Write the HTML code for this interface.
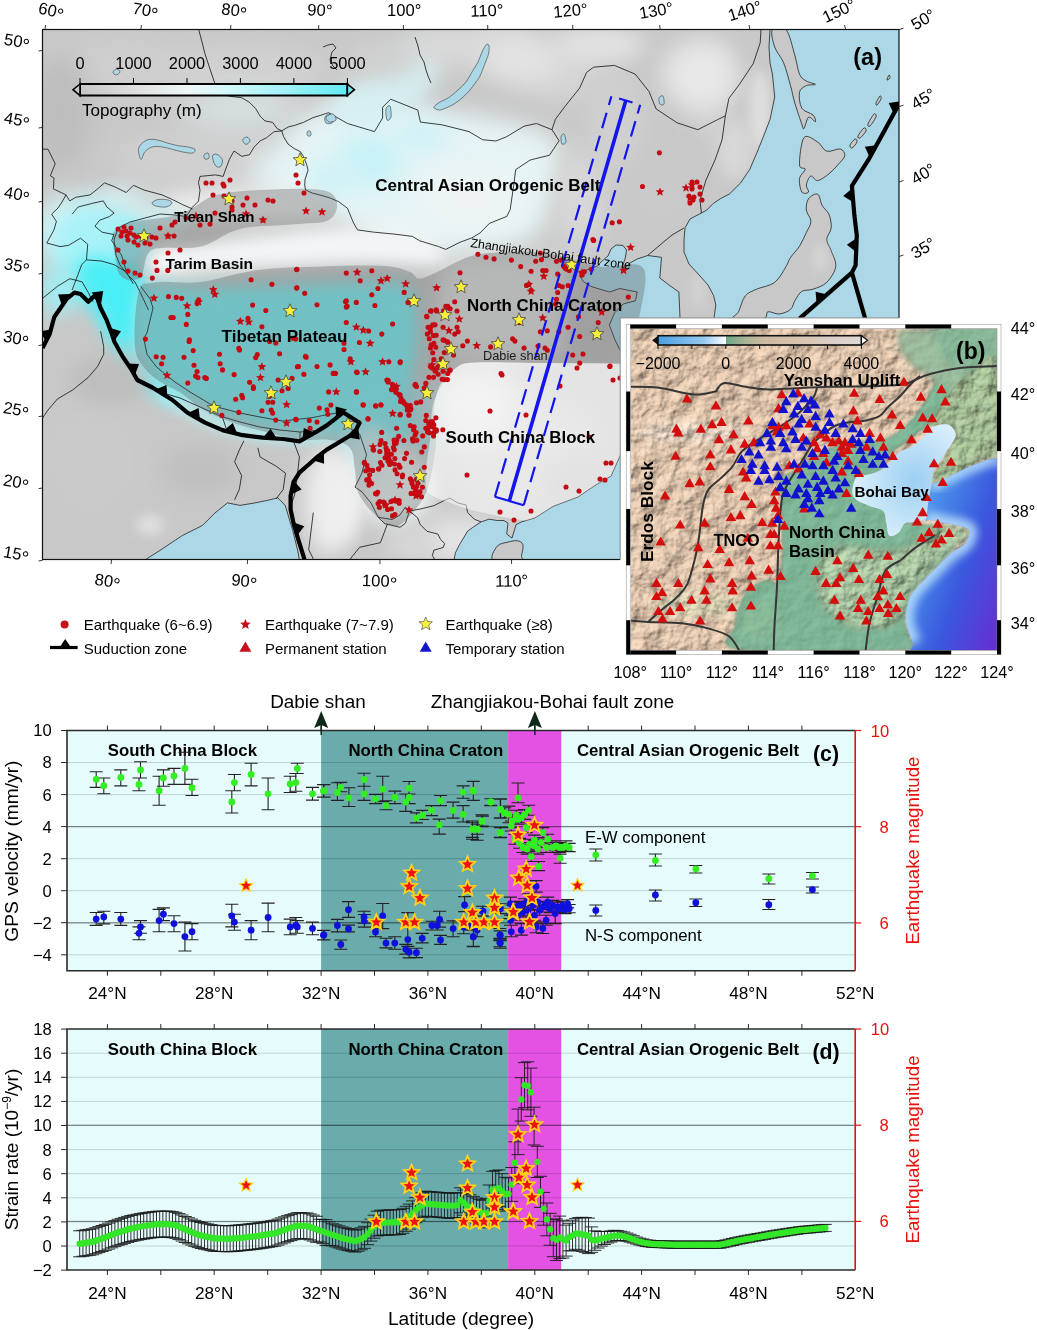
<!DOCTYPE html>
<html><head><meta charset="utf-8"><title>Figure</title>
<style>html,body{margin:0;padding:0;background:#fff;} svg{display:block;}</style></head>
<body><svg width="1037" height="1330" viewBox="0 0 1037 1330" font-family="Liberation Sans, Arial, sans-serif">
<defs>
<clipPath id="mapA"><rect x="42.5" y="29.5" width="856.5" height="530.0"/></clipPath>
<clipPath id="landA"><path d="M770.0,29.5 L769.0,47.0 L770.0,63.0 L772.4,74.0 L774.7,97.0 L770.0,119.5 L763.0,137.6 L756.6,153.4 L749.8,169.3 L740.7,182.8 L729.4,194.0 L720.4,198.7 L713.6,203.2 L706.8,210.0 L701.4,213.0 L690.0,219.0 L685.0,228.0 L684.0,240.0 L684.0,252.0 L689.0,264.0 L700.0,276.0 L708.0,285.0 L713.6,295.5 L715.8,305.0 L714.0,318.0 L716.0,350.0 L680.0,350.0 L680.0,318.0 L678.9,292.0 L669.0,285.0 L659.8,278.0 L661.5,257.3 L647.6,255.5 L637.2,259.0 L630.0,263.0 L626.8,266.0 L621.6,272.9 L623.0,265.0 L625.5,257.0 L626.5,250.0 L623.0,245.5 L616.0,245.0 L611.0,249.0 L608.0,256.0 L601.0,262.0 L597.3,266.0 L583.4,271.2 L580.0,276.4 L583.4,281.6 L592.0,286.8 L609.4,292.0 L619.8,288.5 L637.2,292.0 L635.5,300.7 L623.3,304.0 L614.6,312.8 L609.4,325.0 L615.0,340.0 L625.0,360.0 L632.0,400.0 L628.0,440.0 L619.4,457.0 L611.0,476.0 L596.0,484.7 L577.8,497.0 L553.0,506.3 L535.0,517.8 L521.5,521.9 L516.1,524.6 L512.0,538.0 L506.7,534.0 L508.0,523.2 L504.0,520.5 L497.2,520.5 L489.1,519.2 L481.0,521.9 L472.9,527.3 L467.5,531.3 L463.5,538.0 L459.4,544.8 L455.4,552.9 L454.0,560.0 L299.4,560.0 L297.7,550.5 L292.7,530.4 L285.2,505.4 L277.7,497.8 L267.7,500.3 L255.0,502.9 L240.0,505.4 L227.5,502.9 L215.0,512.9 L202.5,525.4 L182.4,535.5 L159.8,550.5 L144.8,560.0 L42.5,560.0 L42.5,29.5Z"/></clipPath>
<filter id="b5" x="-50%" y="-50%" width="200%" height="200%"><feGaussianBlur stdDeviation="5"/></filter>
<filter id="b6" x="-50%" y="-50%" width="200%" height="200%"><feGaussianBlur stdDeviation="6"/></filter>
<filter id="b8" x="-50%" y="-50%" width="200%" height="200%"><feGaussianBlur stdDeviation="8"/></filter>
<filter id="b9" x="-50%" y="-50%" width="200%" height="200%"><feGaussianBlur stdDeviation="9"/></filter>
<filter id="b10" x="-50%" y="-50%" width="200%" height="200%"><feGaussianBlur stdDeviation="10"/></filter>
<filter id="b12" x="-50%" y="-50%" width="200%" height="200%"><feGaussianBlur stdDeviation="12"/></filter>
<filter id="b14" x="-50%" y="-50%" width="200%" height="200%"><feGaussianBlur stdDeviation="14"/></filter>
<filter id="b1"><feGaussianBlur stdDeviation="1"/></filter>
<linearGradient id="cbarA" x1="0" x2="1" y1="0" y2="0"><stop offset="0" stop-color="#c6c6c6"/><stop offset="0.2" stop-color="#dedede"/><stop offset="0.4" stop-color="#eef6f6"/><stop offset="0.55" stop-color="#d4f8fa"/><stop offset="0.8" stop-color="#98f0f6"/><stop offset="1" stop-color="#62eaf4"/></linearGradient>
</defs>
<g clip-path="url(#mapA)">
<rect x="42.5" y="29.5" width="856.5" height="530.0" fill="#acd7e6"/>
<g clip-path="url(#landA)">
<rect x="42.5" y="29.5" width="856.5" height="530.0" fill="#c8c8c8"/>
<ellipse cx="120" cy="70" rx="90" ry="30" fill="#cfcfcf" filter="url(#b14)"/>
<ellipse cx="250" cy="70" rx="80" ry="25" fill="#d2d2d2" filter="url(#b14)"/>
<ellipse cx="200" cy="160" rx="90" ry="30" fill="#d0d0d0" filter="url(#b14)"/>
<ellipse cx="60" cy="110" rx="30" ry="60" fill="#bdbdbd" filter="url(#b14)"/>
<ellipse cx="300" cy="175" rx="50" ry="35" fill="#e4f2f4" filter="url(#b14)"/>
<ellipse cx="240" cy="110" rx="60" ry="18" fill="#d8e2e2" filter="url(#b14)"/>
<path d="M300.0,120.0 C315.0,106.7 356.7,101.7 380.0,100.0 C403.3,98.3 416.7,105.8 440.0,110.0 C463.3,114.2 500.0,118.3 520.0,125.0 C540.0,131.7 556.7,132.5 560.0,150.0 C563.3,167.5 553.3,213.3 540.0,230.0 C526.7,246.7 503.3,246.7 480.0,250.0 C456.7,253.3 425.0,255.8 400.0,250.0 C375.0,244.2 348.3,226.7 330.0,215.0 C311.7,203.3 295.0,195.8 290.0,180.0 C285.0,164.2 285.0,133.3 300.0,120.0Z" fill="#e6f4f6" filter="url(#b12)"/>
<ellipse cx="370" cy="160" rx="35" ry="28" fill="#c8f2f6" filter="url(#b12)"/>
<ellipse cx="420" cy="135" rx="30" ry="18" fill="#d2f2f6" filter="url(#b10)"/>
<ellipse cx="330" cy="180" rx="25" ry="20" fill="#d0f2f6" filter="url(#b10)"/>
<ellipse cx="470" cy="200" rx="50" ry="30" fill="#eef4f4" filter="url(#b12)"/>
<path d="M325.0,112.0 C324.2,104.8 340.0,93.7 350.0,85.0 C360.0,76.3 373.3,66.2 385.0,60.0 C396.7,53.8 410.8,48.0 420.0,48.0 C429.2,48.0 439.2,52.2 440.0,60.0 C440.8,67.8 432.5,85.3 425.0,95.0 C417.5,104.7 406.7,112.5 395.0,118.0 C383.3,123.5 366.7,129.0 355.0,128.0 C343.3,127.0 325.8,119.2 325.0,112.0Z" fill="#d6f0f2" filter="url(#b10)"/>
<ellipse cx="470" cy="45" rx="70" ry="20" fill="#dcdcdc" filter="url(#b14)"/>
<ellipse cx="560" cy="70" rx="40" ry="30" fill="#d6d6d6" filter="url(#b12)"/>
<ellipse cx="380" cy="60" rx="40" ry="20" fill="#d0d0d0" filter="url(#b12)"/>
<ellipse cx="615" cy="120" rx="30" ry="50" fill="#d0d0d0" filter="url(#b12)"/>
<ellipse cx="580" cy="200" rx="25" ry="50" fill="#d8d8d8" filter="url(#b12)"/>
<ellipse cx="710" cy="90" rx="20" ry="50" fill="#d2d2d2" filter="url(#b10)"/>
<ellipse cx="735" cy="150" rx="18" ry="30" fill="#d8d8d8" filter="url(#b8)"/>
<ellipse cx="700" cy="75" rx="38" ry="35" fill="#e8e8e8" filter="url(#b12)"/>
<ellipse cx="600" cy="45" rx="45" ry="18" fill="#e2e2e2" filter="url(#b10)"/>
<ellipse cx="760" cy="110" rx="10" ry="40" fill="#e0e0e0" filter="url(#b6)"/>
<ellipse cx="660" cy="200" rx="30" ry="25" fill="#cacaca" filter="url(#b10)"/>
<ellipse cx="520" cy="60" rx="40" ry="25" fill="#e2e2e2" filter="url(#b12)"/>
<path d="M150.0,250.0 C157.5,244.8 181.7,246.3 200.0,244.0 C218.3,241.7 238.3,238.7 260.0,236.0 C281.7,233.3 306.7,229.0 330.0,228.0 C353.3,227.0 381.7,227.2 400.0,230.0 C418.3,232.8 433.3,239.7 440.0,245.0 C446.7,250.3 450.0,259.2 440.0,262.0 C430.0,264.8 403.3,261.5 380.0,262.0 C356.7,262.5 328.3,263.7 300.0,265.0 C271.7,266.3 234.2,268.3 210.0,270.0 C185.8,271.7 165.0,278.3 155.0,275.0 C145.0,271.7 142.5,255.2 150.0,250.0Z" fill="#f2f6f6" filter="url(#b8)"/>
<ellipse cx="240" cy="205" rx="90" ry="16" fill="#eeeeee" filter="url(#b10)"/>
<ellipse cx="150" cy="218" rx="40" ry="12" fill="#cfeef0" filter="url(#b8)"/>
<ellipse cx="75" cy="230" rx="40" ry="35" fill="#d4f4f6" filter="url(#b12)"/>
<ellipse cx="120" cy="200" rx="30" ry="12" fill="#d8f0f2" filter="url(#b10)"/>
<ellipse cx="95" cy="245" rx="45" ry="40" fill="#a8f2f8" filter="url(#b10)"/>
<ellipse cx="130" cy="240" rx="20" ry="22" fill="#9ef0f6" filter="url(#b6)"/>
<path d="M75.0,265.0 C78.3,259.3 87.5,258.5 95.0,258.0 C102.5,257.5 112.5,259.7 120.0,262.0 C127.5,264.3 136.3,265.7 140.0,272.0 C143.7,278.3 142.3,289.5 142.0,300.0 C141.7,310.5 140.3,326.7 138.0,335.0 C135.7,343.3 132.3,349.5 128.0,350.0 C123.7,350.5 116.7,343.8 112.0,338.0 C107.3,332.2 104.0,321.3 100.0,315.0 C96.0,308.7 92.2,303.8 88.0,300.0 C83.8,296.2 77.2,297.8 75.0,292.0 C72.8,286.2 71.7,270.7 75.0,265.0Z" fill="#48eef6" filter="url(#b8)"/>
<ellipse cx="60" cy="290" rx="20" ry="25" fill="#a0eef2" filter="url(#b10)"/>
<path d="M140.0,292.0 C150.0,278.3 173.3,289.3 200.0,288.0 C226.7,286.7 270.0,285.0 300.0,284.0 C330.0,283.0 361.7,281.0 380.0,282.0 C398.3,283.0 403.7,282.0 410.0,290.0 C416.3,298.0 417.7,315.0 418.0,330.0 C418.3,345.0 414.2,364.2 412.0,380.0 C409.8,395.8 410.3,415.0 405.0,425.0 C399.7,435.0 392.5,437.8 380.0,440.0 C367.5,442.2 346.7,439.3 330.0,438.0 C313.3,436.7 296.7,435.3 280.0,432.0 C263.3,428.7 246.7,424.2 230.0,418.0 C213.3,411.8 195.0,403.0 180.0,395.0 C165.0,387.0 146.7,387.2 140.0,370.0 C133.3,352.8 130.0,305.7 140.0,292.0Z" fill="#80f2f6" filter="url(#b8)"/>
<ellipse cx="425" cy="420" rx="14" ry="40" fill="#a8e4e8" filter="url(#b8)"/>
<ellipse cx="385" cy="425" rx="28" ry="25" fill="#88eef2" filter="url(#b8)"/>
<ellipse cx="395" cy="485" rx="38" ry="40" fill="#eef6f6" filter="url(#b10)"/>
<path d="M85.0,290.0 C89.5,296.7 104.5,317.5 112.0,330.0 C119.5,342.5 123.7,355.8 130.0,365.0 C136.3,374.2 142.5,379.2 150.0,385.0 C157.5,390.8 170.8,397.5 175.0,400.0" fill="none" stroke="#60eef6" stroke-width="10" stroke-linecap="round" filter="url(#b8)"/>
<path d="M160.0,393.0 C164.2,395.8 175.0,404.5 185.0,410.0 C195.0,415.5 207.5,421.8 220.0,426.0 C232.5,430.2 246.7,433.2 260.0,435.0 C273.3,436.8 288.3,438.2 300.0,437.0 C311.7,435.8 325.0,429.5 330.0,428.0" fill="none" stroke="#b8f4f8" stroke-width="8" stroke-linecap="round" filter="url(#b6)"/>
<path d="M345.0,428.0 C346.2,431.7 349.5,441.3 352.0,450.0 C354.5,458.7 358.7,475.0 360.0,480.0" fill="none" stroke="#c8f2f4" stroke-width="10" stroke-linecap="round" filter="url(#b8)"/>
<ellipse cx="90" cy="460" rx="50" ry="60" fill="#cacaca" filter="url(#b14)"/>
<ellipse cx="150" cy="525" rx="14" ry="10" fill="#e0e0e0" filter="url(#b6)"/>
<ellipse cx="200" cy="470" rx="40" ry="25" fill="#c0c0c0" filter="url(#b12)"/>
<ellipse cx="110" cy="380" rx="40" ry="25" fill="#bebebe" filter="url(#b10)"/>
<ellipse cx="330" cy="500" rx="25" ry="55" fill="#eeeeee" filter="url(#b10)"/>
<ellipse cx="370" cy="450" rx="18" ry="25" fill="#d0f2f4" filter="url(#b8)"/>
<ellipse cx="345" cy="500" rx="15" ry="40" fill="#f0f0f0" filter="url(#b8)"/>
<ellipse cx="460" cy="540" rx="40" ry="25" fill="#e4e4e4" filter="url(#b12)"/>
<ellipse cx="410" cy="545" rx="25" ry="15" fill="#d8d8d8" filter="url(#b10)"/>
<ellipse cx="520" cy="450" rx="80" ry="60" fill="#d2d2d2" filter="url(#b14)"/>
<ellipse cx="475" cy="405" rx="45" ry="40" fill="#e6e6e6" filter="url(#b14)"/>
<ellipse cx="585" cy="485" rx="45" ry="35" fill="#c6c6c6" filter="url(#b12)"/>
<path d="M450.0,265.0 C466.7,249.7 530.8,257.2 550.0,258.0 C569.2,258.8 563.3,254.7 565.0,270.0 C566.7,285.3 564.2,335.8 560.0,350.0 C555.8,364.2 558.3,355.0 540.0,355.0 C521.7,355.0 465.0,365.0 450.0,350.0 C435.0,335.0 433.3,280.3 450.0,265.0Z" fill="#e2e4e4" filter="url(#b10)"/>
<ellipse cx="600" cy="315" rx="30" ry="45" fill="#c2c2c2" filter="url(#b10)"/>
<ellipse cx="698" cy="290" rx="8" ry="18" fill="#d2d2d2" filter="url(#b5)"/>
<ellipse cx="818" cy="255" rx="8" ry="20" fill="#d8d8d8" filter="url(#b5)"/>
</g>
<path d="M770.0,29.5 L769.0,47.0 L770.0,63.0 L772.4,74.0 L774.7,97.0 L770.0,119.5 L763.0,137.6 L756.6,153.4 L749.8,169.3 L740.7,182.8 L729.4,194.0 L720.4,198.7 L713.6,203.2 L706.8,210.0 L701.4,213.0 L690.0,219.0 L685.0,228.0 L684.0,240.0 L684.0,252.0 L689.0,264.0 L700.0,276.0 L708.0,285.0 L713.6,295.5 L715.8,305.0 L714.0,318.0 L716.0,350.0 L680.0,350.0 L680.0,318.0 L678.9,292.0 L669.0,285.0 L659.8,278.0 L661.5,257.3 L647.6,255.5 L637.2,259.0 L630.0,263.0 L626.8,266.0 L621.6,272.9 L623.0,265.0 L625.5,257.0 L626.5,250.0 L623.0,245.5 L616.0,245.0 L611.0,249.0 L608.0,256.0 L601.0,262.0 L597.3,266.0 L583.4,271.2 L580.0,276.4 L583.4,281.6 L592.0,286.8 L609.4,292.0 L619.8,288.5 L637.2,292.0 L635.5,300.7 L623.3,304.0 L614.6,312.8 L609.4,325.0 L615.0,340.0 L625.0,360.0 L632.0,400.0 L628.0,440.0 L619.4,457.0 L611.0,476.0 L596.0,484.7 L577.8,497.0 L553.0,506.3 L535.0,517.8 L521.5,521.9 L516.1,524.6 L512.0,538.0 L506.7,534.0 L508.0,523.2 L504.0,520.5 L497.2,520.5 L489.1,519.2 L481.0,521.9 L472.9,527.3 L467.5,531.3 L463.5,538.0 L459.4,544.8 L455.4,552.9 L454.0,560.0 L299.4,560.0 L297.7,550.5 L292.7,530.4 L285.2,505.4 L277.7,497.8 L267.7,500.3 L255.0,502.9 L240.0,505.4 L227.5,502.9 L215.0,512.9 L202.5,525.4 L182.4,535.5 L159.8,550.5 L144.8,560.0 L42.5,560.0 L42.5,29.5Z" fill="none" stroke="#1a1a1a" stroke-width="0.75" stroke-linejoin="round"/>
<path d="M772.4,29.5 C774.3,26.6 782.2,25.1 786.0,29.5 C789.8,33.9 792.8,48.5 795.0,56.0 C797.2,63.5 797.6,70.0 799.5,74.2 C801.4,78.4 803.6,79.3 806.3,81.0 C808.9,82.7 815.4,83.6 815.4,84.4 C815.4,85.2 808.9,84.3 806.3,85.6 C803.6,86.9 800.2,88.5 799.5,92.3 C798.8,96.1 799.5,104.4 801.8,108.2 C804.0,112.0 810.7,112.7 813.0,115.0 C815.3,117.3 816.1,121.4 815.4,121.8 C814.7,122.2 810.5,116.1 808.6,117.2 C806.7,118.3 805.1,127.4 804.0,128.5 C802.9,129.6 803.3,128.1 801.8,124.0 C800.3,119.9 796.9,110.1 795.0,103.7 C793.1,97.3 792.4,92.4 790.5,85.6 C788.6,78.8 786.3,69.4 783.7,63.0 C781.1,56.6 776.6,52.6 774.7,47.0 C772.8,41.4 770.5,32.4 772.4,29.5Z" fill="#c8c8c8" stroke="#1a1a1a" stroke-width="0.75"/>
<path d="M804.0,137.6 C807.0,133.8 813.8,139.7 817.6,142.0 C821.4,144.3 822.9,150.0 826.7,151.2 C830.5,152.4 837.3,148.2 840.3,149.0 C843.3,149.8 845.2,153.1 844.8,155.7 C844.4,158.3 840.6,161.7 838.0,164.7 C835.4,167.7 832.4,171.2 829.0,173.8 C825.6,176.5 820.6,180.2 817.6,180.6 C814.6,181.0 812.8,175.3 810.9,176.0 C809.0,176.7 806.7,182.3 806.3,185.0 C805.9,187.7 809.4,190.8 808.6,192.0 C807.9,193.2 803.3,194.3 801.8,192.0 C800.3,189.7 798.9,182.1 799.5,178.3 C800.1,174.5 805.2,171.6 805.2,169.3 C805.2,167.0 799.7,170.0 799.5,164.7 C799.3,159.4 801.0,141.4 804.0,137.6Z" fill="#c8c8c8" stroke="#1a1a1a" stroke-width="0.75"/>
<path d="M808.6,198.7 C810.5,196.1 815.3,193.1 817.6,194.2 C819.9,195.3 820.3,202.1 822.2,205.5 C824.1,208.9 827.5,210.8 829.0,214.5 C830.5,218.2 831.6,223.8 831.2,228.0 C830.8,232.2 826.7,235.6 826.7,239.4 C826.7,243.2 829.7,246.2 831.2,250.7 C832.7,255.2 836.5,261.3 835.7,266.6 C835.0,271.9 830.5,278.6 826.7,282.4 C822.9,286.2 817.1,287.7 813.0,289.2 C808.9,290.7 804.8,289.5 801.8,291.4 C798.8,293.3 796.9,297.5 795.0,300.5 C793.1,303.5 793.1,307.2 790.5,309.5 C787.9,311.8 783.0,313.6 779.2,314.0 C775.4,314.4 770.5,311.0 767.9,311.8 C765.2,312.6 768.9,317.5 763.3,318.6 C757.6,319.7 738.1,319.7 734.0,318.6 C729.9,317.5 736.6,315.6 738.5,311.8 C740.4,308.0 742.2,299.8 745.2,296.0 C748.2,292.2 751.7,291.5 756.6,289.2 C761.5,286.9 769.8,286.2 774.7,282.4 C779.6,278.6 783.4,270.8 786.0,266.6 C788.6,262.5 788.2,260.9 790.5,257.5 C792.8,254.1 796.9,250.3 799.5,246.2 C802.1,242.0 804.4,236.8 806.3,232.6 C808.2,228.4 810.9,225.1 810.9,221.3 C810.9,217.5 806.7,213.8 806.3,210.0 C805.9,206.2 806.7,201.3 808.6,198.7Z" fill="#c8c8c8" stroke="#1a1a1a" stroke-width="0.75"/>
<path d="M493.2,560.0 C489.4,557.7 494.7,549.2 497.2,546.2 C499.7,543.2 504.6,543.0 508.0,542.1 C511.4,541.2 515.0,540.3 517.5,540.8 C520.0,541.2 522.2,542.3 522.9,544.8 C523.6,547.3 522.0,553.1 521.5,555.6 C521.0,558.1 524.9,559.3 520.2,560.0 C515.5,560.7 497.0,562.3 493.2,560.0Z" fill="#c8c8c8" stroke="#1a1a1a" stroke-width="0.75"/>
<path d="M850.0,145.0 C850.5,143.5 853.8,139.5 855.0,139.0 C856.2,138.5 857.5,140.5 857.0,142.0 C856.5,143.5 853.2,147.5 852.0,148.0 C850.8,148.5 849.5,146.5 850.0,145.0Z" fill="#c8c8c8" stroke="#1a1a1a" stroke-width="0.75"/>
<path d="M858.0,136.0 C858.7,134.3 862.7,128.8 864.0,128.0 C865.3,127.2 866.7,129.3 866.0,131.0 C865.3,132.7 861.3,137.2 860.0,138.0 C858.7,138.8 857.3,137.7 858.0,136.0Z" fill="#c8c8c8" stroke="#1a1a1a" stroke-width="0.75"/>
<path d="M868.0,124.0 C868.7,122.0 872.7,115.2 874.0,114.0 C875.3,112.8 876.7,115.0 876.0,117.0 C875.3,119.0 871.3,124.8 870.0,126.0 C868.7,127.2 867.3,126.0 868.0,124.0Z" fill="#c8c8c8" stroke="#1a1a1a" stroke-width="0.75"/>
<path d="M876.0,103.0 C876.5,101.5 879.2,96.7 880.0,96.0 C880.8,95.3 881.5,97.5 881.0,99.0 C880.5,100.5 877.8,104.3 877.0,105.0 C876.2,105.7 875.5,104.5 876.0,103.0Z" fill="#c8c8c8" stroke="#1a1a1a" stroke-width="0.75"/>
<path d="M887.0,80.0 C886.8,79.5 888.5,75.3 889.0,75.0 C889.5,74.7 890.3,77.2 890.0,78.0 C889.7,78.8 887.2,80.5 887.0,80.0Z" fill="#c8c8c8" stroke="#1a1a1a" stroke-width="0.75"/>
<ellipse cx="820" cy="258" rx="7" ry="14" fill="#d6d6d6" filter="url(#b5)"/>
<path d="M198.7,29.5 L202.0,42.0 L205.0,54.0 L210.0,69.0 L215.0,84.0 L222.0,94.0 L229.4,96.2 L241.7,97.7 L249.4,102.3 L255.6,108.5 L260.2,116.2 L264.9,120.9 L272.6,122.4 L277.2,128.6 L281.8,130.9" fill="none" stroke="#111" stroke-width="0.8" stroke-linejoin="round"/>
<path d="M281.8,130.9 L288.0,127.0 L294.2,125.5 L303.4,122.4 L312.7,117.8 L328.6,112.7 L347.5,123.5 L374.5,131.6 L382.6,118.0 L382.6,107.3 L390.7,99.2 L417.7,110.0 L420.4,122.1 L442.0,124.8 L469.0,131.6 L482.5,139.7 L496.0,141.0 L506.8,136.6 L524.0,126.2 L536.5,123.5 L552.0,129.7" fill="none" stroke="#111" stroke-width="0.8" stroke-linejoin="round"/>
<path d="M281.8,130.9 L283.4,136.3 L288.0,144.0 L294.2,148.6 L300.4,151.7 L303.4,156.3 L306.5,164.1 L308.1,170.2 L305.0,179.5 L304.7,185.0 L305.5,190.0 L312.4,193.1 L320.1,195.0 L329.4,197.7 L338.7,201.7 L347.4,208.2 L353.1,222.0 L357.5,229.9 L373.4,232.1 L395.1,234.2 L412.5,236.4 L419.7,240.8 L438.5,246.5 L445.7,249.4 L460.2,242.2 L471.8,237.9 L480.0,233.0 L489.4,223.4 L506.8,216.4 L510.2,209.5 L513.7,185.2 L515.7,169.6 L530.2,160.0 L549.5,155.2 L559.1,140.7 L552.0,129.7" fill="none" stroke="#111" stroke-width="0.8" stroke-linejoin="round"/>
<path d="M552.0,129.7 L555.4,119.2 L565.8,105.4 L579.7,88.0 L586.6,72.4 L593.6,67.2 L614.4,65.4 L635.2,74.1 L649.0,91.5 L656.0,108.8 L676.9,122.7 L697.7,129.7 L718.5,119.2 L725.4,115.8 L728.9,98.4 L739.3,84.5 L753.2,63.7 L760.2,42.9 L761.0,29.5" fill="none" stroke="#111" stroke-width="0.8" stroke-linejoin="round"/>
<path d="M725.4,115.8 L722.0,140.0 L715.0,160.0 L706.0,180.0 L700.0,200.0 L701.4,213.0" fill="none" stroke="#111" stroke-width="0.8" stroke-linejoin="round"/>
<path d="M415.0,37.0 L418.0,46.0 L420.0,55.0 L424.0,62.0 L426.0,70.0 L428.0,76.0 L431.0,83.0" fill="none" stroke="#111" stroke-width="0.8" stroke-linejoin="round"/>
<path d="M323.0,47.0 L328.0,45.0 L333.0,44.0 L336.0,48.0 L332.0,52.0 L330.0,60.0 L333.0,66.0 L337.0,70.0" fill="none" stroke="#111" stroke-width="0.8" stroke-linejoin="round"/>
<path d="M647.6,255.5 L660.0,245.0 L672.0,235.0 L684.0,228.0" fill="none" stroke="#111" stroke-width="0.8" stroke-linejoin="round"/>
<path d="M281.8,130.9 L274.1,131.7 L266.4,137.8 L260.2,140.9 L254.1,147.1 L249.4,154.8 L241.7,156.3 L234.0,151.0 L229.4,159.4 L224.7,171.8 L223.2,176.4 L215.5,174.9 L200.0,176.4 L198.5,182.6 L200.0,190.3 L198.5,201.1 L192.3,207.3 L186.2,216.5 L175.0,215.0 L160.0,214.0 L145.0,218.0 L130.0,222.0 L118.0,228.0 L114.0,240.0 L116.0,255.0 L120.0,265.0 L128.0,275.0 L135.0,282.0 L140.0,292.0 L143.8,300.0 L148.5,310.0" fill="none" stroke="#111" stroke-width="0.8" stroke-linejoin="round"/>
<path d="M42.0,298.8 L57.4,286.4 L69.8,278.7 L82.1,281.8 L88.3,292.6 L92.9,301.8" fill="none" stroke="#111" stroke-width="0.8" stroke-linejoin="round"/>
<path d="M100.6,331.2 L103.7,346.6 L103.7,354.3 L97.5,366.6 L88.3,377.4 L72.9,389.8 L57.4,399.0 L48.0,410.0 L42.5,418.0" fill="none" stroke="#111" stroke-width="0.8" stroke-linejoin="round"/>
<path d="M42.0,149.2 L48.0,149.2 L55.2,163.7 L50.4,175.7 L54.0,178.1 L53.4,188.9 L66.0,194.9 L69.7,200.9 L75.7,197.3 L90.1,194.9 L96.1,190.1 L104.5,182.9 L114.1,186.5 L126.2,192.5 L133.4,185.3 L144.2,190.1 L162.0,194.9 L172.4,199.5 L182.4,204.5 L192.5,209.0" fill="none" stroke="#111" stroke-width="0.8" stroke-linejoin="round"/>
<path d="M72.1,214.2 L78.1,207.0 L92.5,203.3 L103.3,200.9 L106.9,207.0 L114.1,213.0 L109.3,216.6 L99.7,220.2 L94.9,226.2 L102.1,232.2 L114.1,234.6" fill="none" stroke="#111" stroke-width="0.8" stroke-linejoin="round"/>
<path d="M51.6,214.2 L56.4,221.4 L54.0,229.8 L46.8,243.0 L60.0,246.6 L68.5,245.4 L80.5,238.2 L87.7,244.2 L86.5,259.9 L81.7,264.7 L78.1,274.3 L72.1,290.0" fill="none" stroke="#111" stroke-width="0.8" stroke-linejoin="round"/>
<path d="M86.5,259.9 L102.1,261.1 L114.1,264.7 L126.2,271.9 L133.4,283.9" fill="none" stroke="#111" stroke-width="0.8" stroke-linejoin="round"/>
<path d="M114.1,234.6 L111.7,240.6 L116.5,247.8 L121.4,255.0 L123.8,262.3 L126.2,271.9" fill="none" stroke="#111" stroke-width="0.8" stroke-linejoin="round"/>
<path d="M66.0,194.9 L62.0,202.0 L58.0,208.0 L51.6,214.2" fill="none" stroke="#111" stroke-width="0.8" stroke-linejoin="round"/>
<path d="M140.8,286.4 L150.0,298.8 L153.0,308.0 L150.0,320.4 L147.0,332.7 L143.8,338.9 L147.0,354.3 L156.2,366.6 L165.4,374.4 L175.0,382.0 L190.0,392.0 L213.8,406.2 L240.0,413.0 L260.0,417.0 L282.6,421.0 L312.0,417.7 L328.5,414.4 L343.0,412.0" fill="none" stroke="#111" stroke-width="0.8" stroke-linejoin="round"/>
<path d="M160.0,392.0 L180.0,398.0 L200.0,407.0 L220.0,416.0 L240.0,422.0 L260.0,427.0 L280.0,430.0 L300.0,432.0 L322.0,430.0" fill="none" stroke="#111" stroke-width="0.8" stroke-linejoin="round"/>
<path d="M222.0,416.0 L226.0,428.0" fill="none" stroke="#111" stroke-width="0.8" stroke-linejoin="round"/>
<path d="M300.0,432.0 L300.0,441.0" fill="none" stroke="#111" stroke-width="0.8" stroke-linejoin="round"/>
<path d="M243.9,440.8 L239.3,450.1 L234.6,461.7 L241.6,475.5 L239.3,489.4 L234.6,499.8" fill="none" stroke="#111" stroke-width="0.8" stroke-linejoin="round"/>
<path d="M257.8,447.8 L260.1,457.0 L276.3,466.3 L285.5,473.2 L283.2,489.4 L276.3,498.7" fill="none" stroke="#111" stroke-width="0.8" stroke-linejoin="round"/>
<path d="M292.5,438.5 L299.4,457.0 L297.1,477.9 L294.8,494.0 L290.2,508.0" fill="none" stroke="#111" stroke-width="0.8" stroke-linejoin="round"/>
<path d="M352.0,430.0 L359.6,433.9 L366.5,454.7 L361.9,473.2 L355.0,487.1 L361.9,491.7 L371.2,503.3 L378.1,517.2 L392.0,519.5 L400.0,515.0 L405.4,507.0 L409.5,511.0 L420.3,509.0 L433.8,505.7 L444.6,500.3 L450.0,498.2 L458.0,503.0 L466.2,505.0 L467.5,512.4 L474.3,519.2 L481.0,521.9" fill="none" stroke="#111" stroke-width="0.8" stroke-linejoin="round"/>
<path d="M387.4,524.1 L380.4,542.7 L359.6,547.3 L350.3,558.9" fill="none" stroke="#111" stroke-width="0.8" stroke-linejoin="round"/>
<path d="M409.5,511.0 L417.6,517.8 L420.3,524.6 L427.0,531.3 L437.8,534.0 L440.5,539.4 L444.6,543.5 L443.2,547.5 L433.8,550.2 L432.4,555.6 L435.1,560.0" fill="none" stroke="#111" stroke-width="0.8" stroke-linejoin="round"/>
<path d="M313.3,512.6 L311.0,531.1 L308.7,549.6 L313.3,558.9" fill="none" stroke="#111" stroke-width="0.8" stroke-linejoin="round"/>
<path d="M378.1,517.2 L385.0,524.0 L387.4,524.1 L400.0,527.3 L405.4,523.2 L409.5,511.0" fill="none" stroke="#111" stroke-width="0.8" stroke-linejoin="round"/>
<path d="M433.9,107.3 C434.0,106.0 437.6,103.5 440.0,102.0 C442.4,100.5 445.0,100.0 448.0,98.0 C451.0,96.0 455.0,92.7 458.0,90.0 C461.0,87.3 463.7,85.0 466.0,82.0 C468.3,79.0 470.0,75.3 472.0,72.0 C474.0,68.7 476.3,65.3 478.0,62.0 C479.7,58.7 480.6,54.9 482.0,52.0 C483.4,49.1 485.3,45.5 486.5,44.5 C487.7,43.5 488.7,44.4 489.0,46.0 C489.3,47.6 489.3,50.7 488.5,54.0 C487.7,57.3 485.4,62.3 484.0,66.0 C482.6,69.7 481.3,73.3 480.0,76.0 C478.7,78.7 477.7,79.7 476.0,82.0 C474.3,84.3 472.3,87.3 470.0,90.0 C467.7,92.7 464.7,95.7 462.0,98.0 C459.3,100.3 456.7,102.3 454.0,104.0 C451.3,105.7 448.4,107.0 446.0,108.0 C443.6,109.0 441.3,110.1 439.3,110.0 C437.3,109.9 433.8,108.6 433.9,107.3Z" fill="#acd7e6" stroke="#3a3a3a" stroke-width="0.6"/>
<path d="M138.5,149.4 C138.7,146.7 140.4,144.7 142.3,143.0 C144.2,141.3 146.9,139.7 149.8,139.3 C152.7,138.9 157.0,140.0 159.9,140.6 C162.8,141.2 164.5,142.2 167.4,143.0 C170.3,143.8 174.1,144.9 177.4,145.6 C180.7,146.2 184.5,146.3 187.4,146.9 C190.3,147.5 194.2,148.4 195.0,149.4 C195.8,150.4 194.6,152.7 192.5,153.1 C190.4,153.5 185.8,152.5 182.4,151.9 C179.1,151.3 175.7,150.2 172.4,149.4 C169.1,148.6 165.8,147.3 162.4,146.9 C159.1,146.5 155.2,146.1 152.3,146.9 C149.4,147.7 146.7,149.8 144.8,151.9 C142.9,154.0 142.1,159.8 141.0,159.4 C139.9,159.0 138.3,152.1 138.5,149.4Z" fill="#acd7e6" stroke="#3a3a3a" stroke-width="0.6"/>
<path d="M152.0,203.0 C152.3,201.9 155.3,200.0 158.0,199.5 C160.7,199.0 165.7,199.4 168.0,200.0 C170.3,200.6 172.3,201.8 172.0,203.0 C171.7,204.2 168.7,206.5 166.0,207.0 C163.3,207.5 158.3,206.7 156.0,206.0 C153.7,205.3 151.7,204.1 152.0,203.0Z" fill="#acd7e6" stroke="#3a3a3a" stroke-width="0.6"/>
<path d="M212.5,156.0 C212.8,154.2 215.3,153.7 217.0,154.4 C218.7,155.1 222.0,157.9 222.5,160.0 C223.0,162.1 221.2,166.2 220.0,167.0 C218.8,167.8 216.2,166.8 215.0,165.0 C213.8,163.2 212.2,157.8 212.5,156.0Z" fill="#acd7e6" stroke="#3a3a3a" stroke-width="0.6"/>
<path d="M325.0,117.0 C325.7,115.5 328.5,114.0 330.0,114.0 C331.5,114.0 333.7,115.5 334.0,117.0 C334.3,118.5 333.3,122.0 332.0,123.0 C330.7,124.0 327.2,124.0 326.0,123.0 C324.8,122.0 324.3,118.5 325.0,117.0Z" fill="#acd7e6" stroke="#3a3a3a" stroke-width="0.6"/>
<path d="M307.0,132.0 C307.3,131.2 309.3,130.5 310.0,131.0 C310.7,131.5 311.3,134.2 311.0,135.0 C310.7,135.8 308.7,136.5 308.0,136.0 C307.3,135.5 306.7,132.8 307.0,132.0Z" fill="#acd7e6" stroke="#3a3a3a" stroke-width="0.6"/>
<path d="M242.6,140.0 C242.8,138.8 245.8,136.8 247.0,137.0 C248.2,137.2 250.2,139.8 250.0,141.0 C249.8,142.2 247.2,144.6 246.0,144.4 C244.8,144.2 242.4,141.2 242.6,140.0Z" fill="#acd7e6" stroke="#3a3a3a" stroke-width="0.6"/>
<path d="M204.0,155.0 C204.5,154.0 207.2,152.5 208.0,153.0 C208.8,153.5 209.5,157.0 209.0,158.0 C208.5,159.0 205.8,159.5 205.0,159.0 C204.2,158.5 203.5,156.0 204.0,155.0Z" fill="#acd7e6" stroke="#3a3a3a" stroke-width="0.6"/>
<path d="M659.0,98.0 C659.5,96.7 662.2,95.0 663.0,96.0 C663.8,97.0 664.5,102.7 664.0,104.0 C663.5,105.3 660.8,105.0 660.0,104.0 C659.2,103.0 658.5,99.3 659.0,98.0Z" fill="#acd7e6" stroke="#3a3a3a" stroke-width="0.6"/>
<path d="M386.0,109.0 C386.5,106.7 389.2,104.7 390.0,106.0 C390.8,107.3 391.5,114.7 391.0,117.0 C390.5,119.3 387.8,121.3 387.0,120.0 C386.2,118.7 385.5,111.3 386.0,109.0Z" fill="#acd7e6" stroke="#3a3a3a" stroke-width="0.6"/>
<path d="M326.0,117.0 C326.7,115.7 331.3,113.5 333.0,114.0 C334.7,114.5 336.7,118.7 336.0,120.0 C335.3,121.3 330.7,122.5 329.0,122.0 C327.3,121.5 325.3,118.3 326.0,117.0Z" fill="#acd7e6" stroke="#3a3a3a" stroke-width="0.6"/>
<path d="M561.0,137.0 C561.3,135.3 563.2,133.2 564.0,134.0 C564.8,134.8 566.3,140.3 566.0,142.0 C565.7,143.7 562.8,144.8 562.0,144.0 C561.2,143.2 560.7,138.7 561.0,137.0Z" fill="#acd7e6" stroke="#3a3a3a" stroke-width="0.6"/>
<path d="M113.0,72.0 C113.2,71.0 115.8,69.0 117.0,69.0 C118.2,69.0 120.2,71.0 120.0,72.0 C119.8,73.0 117.2,75.0 116.0,75.0 C114.8,75.0 112.8,73.0 113.0,72.0Z" fill="#acd7e6" stroke="#3a3a3a" stroke-width="0.6"/>
<path d="M140.8,286.4 C143.1,282.3 145.9,284.1 150.0,283.3 C154.1,282.5 156.7,282.1 165.4,281.8 C174.1,281.6 186.7,283.8 202.0,281.8 C217.3,279.8 237.5,272.6 257.3,270.0 C277.1,267.4 299.8,267.2 321.0,266.5 C342.2,265.8 369.8,265.1 384.6,266.0 C399.4,266.9 404.1,269.9 410.0,272.0 C415.9,274.1 414.5,279.1 420.0,278.6 C425.5,278.1 435.3,272.5 443.0,269.0 C450.7,265.5 458.3,260.5 466.0,257.8 C473.7,255.1 477.8,254.0 489.4,253.0 C501.0,252.0 524.1,251.6 535.7,252.0 C547.3,252.4 551.2,253.8 558.9,255.5 C566.6,257.2 574.3,260.5 582.0,262.4 C589.7,264.3 594.7,265.9 605.0,267.0 C615.3,268.1 638.7,258.8 644.0,269.3 C649.3,279.8 638.7,314.6 637.0,330.0 C635.3,345.4 640.2,356.5 634.0,362.0 C627.8,367.5 615.7,362.8 600.0,363.0 C584.3,363.2 560.8,363.1 540.0,363.0 C519.2,362.9 489.0,361.8 475.0,362.6 C461.0,363.4 461.8,364.3 456.0,368.0 C450.2,371.7 443.7,378.0 440.0,385.0 C436.3,392.0 434.7,400.8 434.0,410.0 C433.3,419.2 436.3,430.0 436.0,440.0 C435.7,450.0 433.8,460.8 432.0,470.0 C430.2,479.2 429.0,487.0 425.0,495.0 C421.0,503.0 413.5,512.8 408.0,518.0 C402.5,523.2 398.0,527.5 392.0,526.5 C386.0,525.5 377.7,517.8 372.0,512.0 C366.3,506.2 360.8,499.0 358.0,492.0 C355.2,485.0 356.3,477.3 355.0,470.0 C353.7,462.7 354.2,453.0 350.0,448.0 C345.8,443.0 338.3,441.3 330.0,440.0 C321.7,438.7 310.1,441.2 300.0,440.0 C289.9,438.8 280.1,435.7 269.5,433.0 C258.9,430.3 247.6,427.8 236.7,424.0 C225.8,420.2 213.3,415.2 204.0,410.0 C194.7,404.8 187.3,397.2 180.9,393.0 C174.5,388.8 170.6,388.2 165.4,385.0 C160.2,381.8 154.6,378.5 150.0,374.0 C145.4,369.5 140.3,363.9 137.7,358.0 C135.1,352.1 134.9,347.2 134.6,338.9 C134.3,330.6 135.0,316.8 136.0,308.0 C137.0,299.2 138.5,290.5 140.8,286.4Z" fill="#505050" fill-opacity="0.3"/>
<path d="M114.5,230.9 C118.1,227.3 123.5,224.4 134.6,221.6 C145.7,218.8 167.0,218.4 180.9,213.9 C194.8,209.4 202.1,198.7 218.2,194.6 C234.3,190.5 259.9,190.0 277.6,189.3 C295.3,188.6 314.4,188.2 324.3,190.5 C334.2,192.8 336.3,198.2 337.0,203.2 C337.7,208.1 335.6,216.7 328.5,220.2 C321.4,223.7 309.4,222.8 294.6,224.3 C279.9,225.8 255.4,225.3 240.0,229.0 C224.6,232.7 214.4,243.2 202.0,246.3 C189.6,249.4 173.6,247.3 165.4,247.8 C157.2,248.3 156.1,248.1 153.0,249.4 C149.9,250.7 148.5,252.4 147.0,255.5 C145.5,258.6 144.8,264.3 143.8,267.9 C142.8,271.5 143.4,275.1 140.8,277.2 C138.2,279.2 132.0,280.7 128.4,280.2 C124.8,279.7 121.2,277.1 119.1,274.0 C117.0,270.9 117.0,266.9 116.0,261.7 C115.0,256.5 113.2,248.1 113.0,243.0 C112.8,237.9 110.9,234.5 114.5,230.9Z" fill="#505050" fill-opacity="0.3"/>
<path d="M456.0,368.0 C461.2,364.8 461.0,363.4 475.0,362.6 C489.0,361.8 516.0,362.8 540.0,363.0 C564.0,363.2 603.0,363.8 619.0,363.6 C635.0,363.4 631.7,355.9 636.0,362.0 C640.3,368.1 643.5,372.8 645.0,400.0 C646.5,427.2 662.5,504.7 645.0,525.0 C627.5,545.3 567.5,524.2 540.0,522.0 C512.5,519.8 495.3,515.3 480.0,512.0 C464.7,508.7 456.7,505.3 448.0,502.0 C439.3,498.7 431.7,497.3 428.0,492.0 C424.3,486.7 425.7,478.7 426.0,470.0 C426.3,461.3 428.8,450.8 430.0,440.0 C431.2,429.2 430.7,414.7 433.0,405.0 C435.3,395.3 440.2,388.2 444.0,382.0 C447.8,375.8 450.8,371.2 456.0,368.0Z" fill="#ffffff" fill-opacity="0.5" clip-path="url(#landA)"/>
<circle cx="118.0" cy="229.0" r="2.55" fill="#c40a12"/>
<circle cx="122.0" cy="232.0" r="2.55" fill="#c40a12"/>
<circle cx="126.0" cy="231.0" r="2.55" fill="#c40a12"/>
<circle cx="130.0" cy="233.0" r="2.55" fill="#c40a12"/>
<circle cx="134.0" cy="235.0" r="2.55" fill="#c40a12"/>
<circle cx="127.0" cy="236.0" r="2.55" fill="#c40a12"/>
<circle cx="136.0" cy="237.0" r="2.55" fill="#c40a12"/>
<circle cx="140.0" cy="236.0" r="2.55" fill="#c40a12"/>
<circle cx="146.0" cy="238.0" r="2.55" fill="#c40a12"/>
<circle cx="152.0" cy="237.0" r="2.55" fill="#c40a12"/>
<circle cx="156.0" cy="238.0" r="2.55" fill="#c40a12"/>
<circle cx="145.0" cy="243.0" r="2.55" fill="#c40a12"/>
<circle cx="150.0" cy="244.0" r="2.55" fill="#c40a12"/>
<circle cx="134.0" cy="242.0" r="2.55" fill="#c40a12"/>
<circle cx="138.0" cy="245.0" r="2.55" fill="#c40a12"/>
<circle cx="128.0" cy="240.0" r="2.55" fill="#c40a12"/>
<circle cx="121.0" cy="236.0" r="2.55" fill="#c40a12"/>
<circle cx="124.0" cy="227.0" r="2.55" fill="#c40a12"/>
<circle cx="131.0" cy="228.0" r="2.55" fill="#c40a12"/>
<circle cx="168.0" cy="236.0" r="2.55" fill="#c40a12"/>
<circle cx="174.0" cy="236.0" r="2.55" fill="#c40a12"/>
<circle cx="175.0" cy="222.0" r="2.55" fill="#c40a12"/>
<circle cx="186.0" cy="218.0" r="2.55" fill="#c40a12"/>
<circle cx="200.0" cy="225.0" r="2.55" fill="#c40a12"/>
<circle cx="210.0" cy="224.0" r="2.55" fill="#c40a12"/>
<circle cx="215.0" cy="213.0" r="2.55" fill="#c40a12"/>
<circle cx="232.0" cy="201.0" r="2.55" fill="#c40a12"/>
<circle cx="232.0" cy="207.0" r="2.55" fill="#c40a12"/>
<circle cx="247.0" cy="198.0" r="2.55" fill="#c40a12"/>
<circle cx="243.0" cy="205.0" r="2.55" fill="#c40a12"/>
<circle cx="273.0" cy="201.0" r="2.55" fill="#c40a12"/>
<circle cx="263.0" cy="220.0" r="2.55" fill="#c40a12"/>
<circle cx="255.0" cy="205.0" r="2.55" fill="#c40a12"/>
<circle cx="213.0" cy="195.0" r="2.55" fill="#c40a12"/>
<circle cx="224.0" cy="196.0" r="2.55" fill="#c40a12"/>
<circle cx="224.0" cy="186.0" r="2.55" fill="#c40a12"/>
<circle cx="230.0" cy="180.0" r="2.55" fill="#c40a12"/>
<circle cx="223.0" cy="184.0" r="2.55" fill="#c40a12"/>
<circle cx="212.0" cy="183.0" r="2.55" fill="#c40a12"/>
<circle cx="206.0" cy="183.0" r="2.55" fill="#c40a12"/>
<circle cx="232.0" cy="210.0" r="2.55" fill="#c40a12"/>
<circle cx="172.0" cy="225.0" r="2.55" fill="#c40a12"/>
<circle cx="160.0" cy="228.0" r="2.55" fill="#c40a12"/>
<circle cx="118.0" cy="250.0" r="2.55" fill="#c40a12"/>
<circle cx="124.0" cy="262.0" r="2.55" fill="#c40a12"/>
<circle cx="128.0" cy="271.0" r="2.55" fill="#c40a12"/>
<circle cx="135.0" cy="273.0" r="2.55" fill="#c40a12"/>
<circle cx="140.0" cy="275.0" r="2.55" fill="#c40a12"/>
<circle cx="156.0" cy="262.0" r="2.55" fill="#c40a12"/>
<circle cx="168.0" cy="253.0" r="2.55" fill="#c40a12"/>
<circle cx="180.0" cy="250.0" r="2.55" fill="#c40a12"/>
<circle cx="296.0" cy="175.0" r="2.55" fill="#c40a12"/>
<circle cx="298.0" cy="183.0" r="2.55" fill="#c40a12"/>
<circle cx="304.0" cy="193.0" r="2.55" fill="#c40a12"/>
<circle cx="268.0" cy="200.0" r="2.55" fill="#c40a12"/>
<circle cx="157.0" cy="270.4" r="2.55" fill="#c40a12"/>
<circle cx="167.8" cy="270.4" r="2.55" fill="#c40a12"/>
<circle cx="152.3" cy="278.1" r="2.55" fill="#c40a12"/>
<circle cx="251.1" cy="279.7" r="2.55" fill="#c40a12"/>
<circle cx="271.9" cy="284.3" r="2.55" fill="#c40a12"/>
<circle cx="296.6" cy="269.6" r="2.55" fill="#c40a12"/>
<circle cx="296.6" cy="288.1" r="2.55" fill="#c40a12"/>
<circle cx="168.5" cy="296.6" r="2.55" fill="#c40a12"/>
<circle cx="176.3" cy="297.4" r="2.55" fill="#c40a12"/>
<circle cx="181.7" cy="298.2" r="2.55" fill="#c40a12"/>
<circle cx="197.1" cy="303.6" r="2.55" fill="#c40a12"/>
<circle cx="198.6" cy="299.7" r="2.55" fill="#c40a12"/>
<circle cx="170.9" cy="317.5" r="2.55" fill="#c40a12"/>
<circle cx="173.2" cy="317.5" r="2.55" fill="#c40a12"/>
<circle cx="186.3" cy="324.4" r="2.55" fill="#c40a12"/>
<circle cx="189.4" cy="339.8" r="2.55" fill="#c40a12"/>
<circle cx="193.2" cy="350.6" r="2.55" fill="#c40a12"/>
<circle cx="156.2" cy="356.8" r="2.55" fill="#c40a12"/>
<circle cx="163.1" cy="357.3" r="2.55" fill="#c40a12"/>
<circle cx="161.6" cy="363.8" r="2.55" fill="#c40a12"/>
<circle cx="184.0" cy="357.3" r="2.55" fill="#c40a12"/>
<circle cx="219.5" cy="354.2" r="2.55" fill="#c40a12"/>
<circle cx="238.8" cy="348.3" r="2.55" fill="#c40a12"/>
<circle cx="252.6" cy="305.1" r="2.55" fill="#c40a12"/>
<circle cx="265.8" cy="310.5" r="2.55" fill="#c40a12"/>
<circle cx="248.0" cy="318.2" r="2.55" fill="#c40a12"/>
<circle cx="261.9" cy="326.7" r="2.55" fill="#c40a12"/>
<circle cx="257.3" cy="354.5" r="2.55" fill="#c40a12"/>
<circle cx="255.7" cy="357.6" r="2.55" fill="#c40a12"/>
<circle cx="269.6" cy="341.4" r="2.55" fill="#c40a12"/>
<circle cx="275.8" cy="342.9" r="2.55" fill="#c40a12"/>
<circle cx="279.6" cy="353.7" r="2.55" fill="#c40a12"/>
<circle cx="297.4" cy="366.8" r="2.55" fill="#c40a12"/>
<circle cx="194.0" cy="365.3" r="2.55" fill="#c40a12"/>
<circle cx="197.1" cy="371.5" r="2.55" fill="#c40a12"/>
<circle cx="195.5" cy="376.1" r="2.55" fill="#c40a12"/>
<circle cx="197.9" cy="377.6" r="2.55" fill="#c40a12"/>
<circle cx="204.8" cy="377.6" r="2.55" fill="#c40a12"/>
<circle cx="206.3" cy="378.4" r="2.55" fill="#c40a12"/>
<circle cx="187.8" cy="383.0" r="2.55" fill="#c40a12"/>
<circle cx="220.2" cy="363.8" r="2.55" fill="#c40a12"/>
<circle cx="222.5" cy="369.9" r="2.55" fill="#c40a12"/>
<circle cx="234.1" cy="374.6" r="2.55" fill="#c40a12"/>
<circle cx="249.6" cy="382.3" r="2.55" fill="#c40a12"/>
<circle cx="253.4" cy="386.9" r="2.55" fill="#c40a12"/>
<circle cx="253.4" cy="388.4" r="2.55" fill="#c40a12"/>
<circle cx="235.7" cy="399.2" r="2.55" fill="#c40a12"/>
<circle cx="241.8" cy="395.4" r="2.55" fill="#c40a12"/>
<circle cx="242.6" cy="397.7" r="2.55" fill="#c40a12"/>
<circle cx="238.8" cy="412.4" r="2.55" fill="#c40a12"/>
<circle cx="261.9" cy="410.8" r="2.55" fill="#c40a12"/>
<circle cx="272.7" cy="413.1" r="2.55" fill="#c40a12"/>
<circle cx="275.8" cy="420.1" r="2.55" fill="#c40a12"/>
<circle cx="295.8" cy="419.3" r="2.55" fill="#c40a12"/>
<circle cx="278.1" cy="380.0" r="2.55" fill="#c40a12"/>
<circle cx="292.0" cy="378.4" r="2.55" fill="#c40a12"/>
<circle cx="288.1" cy="388.4" r="2.55" fill="#c40a12"/>
<circle cx="282.0" cy="390.8" r="2.55" fill="#c40a12"/>
<circle cx="269.6" cy="396.2" r="2.55" fill="#c40a12"/>
<circle cx="268.1" cy="402.3" r="2.55" fill="#c40a12"/>
<circle cx="272.7" cy="402.3" r="2.55" fill="#c40a12"/>
<circle cx="271.2" cy="410.0" r="2.55" fill="#c40a12"/>
<circle cx="221.8" cy="415.4" r="2.55" fill="#c40a12"/>
<circle cx="295.8" cy="339.1" r="2.55" fill="#c40a12"/>
<circle cx="292.8" cy="338.3" r="2.55" fill="#c40a12"/>
<circle cx="239.5" cy="349.9" r="2.55" fill="#c40a12"/>
<circle cx="145.4" cy="339.1" r="2.55" fill="#c40a12"/>
<circle cx="187.8" cy="314.4" r="2.55" fill="#c40a12"/>
<circle cx="189.1" cy="341.4" r="2.55" fill="#c40a12"/>
<circle cx="296.9" cy="269.3" r="2.55" fill="#c40a12"/>
<circle cx="296.9" cy="287.8" r="2.55" fill="#c40a12"/>
<circle cx="304.7" cy="293.2" r="2.55" fill="#c40a12"/>
<circle cx="317.0" cy="304.7" r="2.55" fill="#c40a12"/>
<circle cx="346.3" cy="273.1" r="2.55" fill="#c40a12"/>
<circle cx="360.2" cy="280.8" r="2.55" fill="#c40a12"/>
<circle cx="371.8" cy="270.8" r="2.55" fill="#c40a12"/>
<circle cx="377.9" cy="288.5" r="2.55" fill="#c40a12"/>
<circle cx="371.8" cy="294.7" r="2.55" fill="#c40a12"/>
<circle cx="346.3" cy="300.9" r="2.55" fill="#c40a12"/>
<circle cx="346.3" cy="307.1" r="2.55" fill="#c40a12"/>
<circle cx="356.3" cy="302.4" r="2.55" fill="#c40a12"/>
<circle cx="374.9" cy="305.5" r="2.55" fill="#c40a12"/>
<circle cx="346.3" cy="322.5" r="2.55" fill="#c40a12"/>
<circle cx="368.7" cy="331.0" r="2.55" fill="#c40a12"/>
<circle cx="381.8" cy="334.1" r="2.55" fill="#c40a12"/>
<circle cx="359.4" cy="342.5" r="2.55" fill="#c40a12"/>
<circle cx="344.0" cy="343.3" r="2.55" fill="#c40a12"/>
<circle cx="344.0" cy="349.5" r="2.55" fill="#c40a12"/>
<circle cx="306.2" cy="357.2" r="2.55" fill="#c40a12"/>
<circle cx="298.5" cy="366.5" r="2.55" fill="#c40a12"/>
<circle cx="317.0" cy="366.5" r="2.55" fill="#c40a12"/>
<circle cx="330.1" cy="364.9" r="2.55" fill="#c40a12"/>
<circle cx="303.9" cy="374.2" r="2.55" fill="#c40a12"/>
<circle cx="333.2" cy="373.4" r="2.55" fill="#c40a12"/>
<circle cx="335.5" cy="373.4" r="2.55" fill="#c40a12"/>
<circle cx="350.2" cy="358.8" r="2.55" fill="#c40a12"/>
<circle cx="357.1" cy="372.6" r="2.55" fill="#c40a12"/>
<circle cx="388.8" cy="361.8" r="2.55" fill="#c40a12"/>
<circle cx="400.3" cy="361.8" r="2.55" fill="#c40a12"/>
<circle cx="392.6" cy="324.0" r="2.55" fill="#c40a12"/>
<circle cx="404.2" cy="292.4" r="2.55" fill="#c40a12"/>
<circle cx="408.0" cy="302.4" r="2.55" fill="#c40a12"/>
<circle cx="426.6" cy="316.3" r="2.55" fill="#c40a12"/>
<circle cx="431.2" cy="310.9" r="2.55" fill="#c40a12"/>
<circle cx="436.6" cy="310.9" r="2.55" fill="#c40a12"/>
<circle cx="427.3" cy="334.1" r="2.55" fill="#c40a12"/>
<circle cx="430.4" cy="327.9" r="2.55" fill="#c40a12"/>
<circle cx="433.5" cy="335.6" r="2.55" fill="#c40a12"/>
<circle cx="431.2" cy="344.9" r="2.55" fill="#c40a12"/>
<circle cx="435.8" cy="347.2" r="2.55" fill="#c40a12"/>
<circle cx="435.0" cy="324.8" r="2.55" fill="#c40a12"/>
<circle cx="441.2" cy="358.8" r="2.55" fill="#c40a12"/>
<circle cx="444.3" cy="379.6" r="2.55" fill="#c40a12"/>
<circle cx="447.4" cy="379.6" r="2.55" fill="#c40a12"/>
<circle cx="415.0" cy="385.0" r="2.55" fill="#c40a12"/>
<circle cx="416.5" cy="386.5" r="2.55" fill="#c40a12"/>
<circle cx="328.6" cy="391.9" r="2.55" fill="#c40a12"/>
<circle cx="356.3" cy="391.9" r="2.55" fill="#c40a12"/>
<circle cx="363.3" cy="405.0" r="2.55" fill="#c40a12"/>
<circle cx="375.6" cy="405.8" r="2.55" fill="#c40a12"/>
<circle cx="381.0" cy="405.0" r="2.55" fill="#c40a12"/>
<circle cx="400.3" cy="414.3" r="2.55" fill="#c40a12"/>
<circle cx="408.8" cy="415.1" r="2.55" fill="#c40a12"/>
<circle cx="367.9" cy="418.9" r="2.55" fill="#c40a12"/>
<circle cx="319.3" cy="408.1" r="2.55" fill="#c40a12"/>
<circle cx="327.0" cy="409.7" r="2.55" fill="#c40a12"/>
<circle cx="330.9" cy="405.0" r="2.55" fill="#c40a12"/>
<circle cx="296.2" cy="419.7" r="2.55" fill="#c40a12"/>
<circle cx="309.3" cy="420.5" r="2.55" fill="#c40a12"/>
<circle cx="317.0" cy="422.0" r="2.55" fill="#c40a12"/>
<circle cx="310.1" cy="428.2" r="2.55" fill="#c40a12"/>
<circle cx="327.8" cy="414.3" r="2.55" fill="#c40a12"/>
<circle cx="432.0" cy="368.0" r="2.55" fill="#c40a12"/>
<circle cx="435.0" cy="371.1" r="2.55" fill="#c40a12"/>
<circle cx="438.1" cy="374.2" r="2.55" fill="#c40a12"/>
<circle cx="428.9" cy="377.3" r="2.55" fill="#c40a12"/>
<circle cx="425.8" cy="383.4" r="2.55" fill="#c40a12"/>
<circle cx="424.2" cy="388.1" r="2.55" fill="#c40a12"/>
<circle cx="444.3" cy="340.2" r="2.55" fill="#c40a12"/>
<circle cx="447.4" cy="341.8" r="2.55" fill="#c40a12"/>
<circle cx="447.4" cy="307.8" r="2.55" fill="#c40a12"/>
<circle cx="444.3" cy="352.6" r="2.55" fill="#c40a12"/>
<circle cx="438.1" cy="366.5" r="2.55" fill="#c40a12"/>
<circle cx="433.5" cy="377.3" r="2.55" fill="#c40a12"/>
<circle cx="445.8" cy="306.3" r="2.55" fill="#c40a12"/>
<circle cx="443.5" cy="310.9" r="2.55" fill="#c40a12"/>
<circle cx="425.8" cy="420.5" r="2.55" fill="#c40a12"/>
<circle cx="428.9" cy="423.6" r="2.55" fill="#c40a12"/>
<circle cx="432.0" cy="426.6" r="2.55" fill="#c40a12"/>
<circle cx="435.0" cy="429.7" r="2.55" fill="#c40a12"/>
<circle cx="425.8" cy="428.2" r="2.55" fill="#c40a12"/>
<circle cx="429.6" cy="432.8" r="2.55" fill="#c40a12"/>
<circle cx="433.5" cy="435.9" r="2.55" fill="#c40a12"/>
<circle cx="422.7" cy="435.9" r="2.55" fill="#c40a12"/>
<circle cx="442.8" cy="429.7" r="2.55" fill="#c40a12"/>
<circle cx="305.4" cy="356.4" r="2.55" fill="#c40a12"/>
<circle cx="347.1" cy="306.3" r="2.55" fill="#c40a12"/>
<circle cx="345.5" cy="301.7" r="2.55" fill="#c40a12"/>
<circle cx="386.9" cy="380.0" r="2.55" fill="#c40a12"/>
<circle cx="388.1" cy="380.2" r="2.55" fill="#c40a12"/>
<circle cx="388.1" cy="381.9" r="2.55" fill="#c40a12"/>
<circle cx="392.3" cy="384.4" r="2.55" fill="#c40a12"/>
<circle cx="393.2" cy="385.6" r="2.55" fill="#c40a12"/>
<circle cx="393.4" cy="387.1" r="2.55" fill="#c40a12"/>
<circle cx="391.4" cy="389.6" r="2.55" fill="#c40a12"/>
<circle cx="395.7" cy="390.6" r="2.55" fill="#c40a12"/>
<circle cx="393.5" cy="388.7" r="2.55" fill="#c40a12"/>
<circle cx="395.8" cy="392.2" r="2.55" fill="#c40a12"/>
<circle cx="398.7" cy="394.3" r="2.55" fill="#c40a12"/>
<circle cx="400.1" cy="394.9" r="2.55" fill="#c40a12"/>
<circle cx="400.9" cy="398.0" r="2.55" fill="#c40a12"/>
<circle cx="400.5" cy="401.5" r="2.55" fill="#c40a12"/>
<circle cx="403.5" cy="402.3" r="2.55" fill="#c40a12"/>
<circle cx="402.8" cy="400.9" r="2.55" fill="#c40a12"/>
<circle cx="404.3" cy="403.3" r="2.55" fill="#c40a12"/>
<circle cx="406.9" cy="405.4" r="2.55" fill="#c40a12"/>
<circle cx="406.3" cy="405.1" r="2.55" fill="#c40a12"/>
<circle cx="407.3" cy="409.9" r="2.55" fill="#c40a12"/>
<circle cx="408.0" cy="409.9" r="2.55" fill="#c40a12"/>
<circle cx="410.9" cy="408.9" r="2.55" fill="#c40a12"/>
<circle cx="410.1" cy="410.0" r="2.55" fill="#c40a12"/>
<circle cx="410.3" cy="405.5" r="2.55" fill="#c40a12"/>
<circle cx="416.5" cy="402.8" r="2.55" fill="#c40a12"/>
<circle cx="420.7" cy="401.9" r="2.55" fill="#c40a12"/>
<circle cx="427.6" cy="432.1" r="2.55" fill="#c40a12"/>
<circle cx="434.0" cy="432.7" r="2.55" fill="#c40a12"/>
<circle cx="436.3" cy="429.8" r="2.55" fill="#c40a12"/>
<circle cx="432.4" cy="421.5" r="2.55" fill="#c40a12"/>
<circle cx="433.8" cy="424.9" r="2.55" fill="#c40a12"/>
<circle cx="430.6" cy="421.7" r="2.55" fill="#c40a12"/>
<circle cx="429.1" cy="425.3" r="2.55" fill="#c40a12"/>
<circle cx="435.9" cy="417.8" r="2.55" fill="#c40a12"/>
<circle cx="427.6" cy="429.2" r="2.55" fill="#c40a12"/>
<circle cx="436.3" cy="430.9" r="2.55" fill="#c40a12"/>
<circle cx="426.3" cy="415.4" r="2.55" fill="#c40a12"/>
<circle cx="433.1" cy="424.3" r="2.55" fill="#c40a12"/>
<circle cx="410.3" cy="425.5" r="2.55" fill="#c40a12"/>
<circle cx="414.2" cy="426.8" r="2.55" fill="#c40a12"/>
<circle cx="413.5" cy="429.8" r="2.55" fill="#c40a12"/>
<circle cx="416.1" cy="432.6" r="2.55" fill="#c40a12"/>
<circle cx="415.1" cy="435.1" r="2.55" fill="#c40a12"/>
<circle cx="412.5" cy="438.8" r="2.55" fill="#c40a12"/>
<circle cx="416.9" cy="440.2" r="2.55" fill="#c40a12"/>
<circle cx="413.0" cy="441.0" r="2.55" fill="#c40a12"/>
<circle cx="381.7" cy="432.4" r="2.55" fill="#c40a12"/>
<circle cx="381.0" cy="440.6" r="2.55" fill="#c40a12"/>
<circle cx="380.0" cy="444.4" r="2.55" fill="#c40a12"/>
<circle cx="385.1" cy="443.5" r="2.55" fill="#c40a12"/>
<circle cx="386.0" cy="447.7" r="2.55" fill="#c40a12"/>
<circle cx="386.9" cy="451.3" r="2.55" fill="#c40a12"/>
<circle cx="386.7" cy="450.8" r="2.55" fill="#c40a12"/>
<circle cx="391.4" cy="454.3" r="2.55" fill="#c40a12"/>
<circle cx="388.9" cy="458.7" r="2.55" fill="#c40a12"/>
<circle cx="394.9" cy="458.5" r="2.55" fill="#c40a12"/>
<circle cx="390.6" cy="461.7" r="2.55" fill="#c40a12"/>
<circle cx="394.4" cy="464.0" r="2.55" fill="#c40a12"/>
<circle cx="398.8" cy="465.1" r="2.55" fill="#c40a12"/>
<circle cx="399.9" cy="467.3" r="2.55" fill="#c40a12"/>
<circle cx="397.1" cy="473.7" r="2.55" fill="#c40a12"/>
<circle cx="402.3" cy="476.7" r="2.55" fill="#c40a12"/>
<circle cx="398.7" cy="436.3" r="2.55" fill="#c40a12"/>
<circle cx="396.8" cy="439.8" r="2.55" fill="#c40a12"/>
<circle cx="394.6" cy="441.8" r="2.55" fill="#c40a12"/>
<circle cx="394.5" cy="443.8" r="2.55" fill="#c40a12"/>
<circle cx="393.4" cy="447.6" r="2.55" fill="#c40a12"/>
<circle cx="394.3" cy="449.7" r="2.55" fill="#c40a12"/>
<circle cx="387.9" cy="450.9" r="2.55" fill="#c40a12"/>
<circle cx="387.2" cy="456.2" r="2.55" fill="#c40a12"/>
<circle cx="385.0" cy="457.7" r="2.55" fill="#c40a12"/>
<circle cx="387.8" cy="454.4" r="2.55" fill="#c40a12"/>
<circle cx="380.4" cy="462.6" r="2.55" fill="#c40a12"/>
<circle cx="381.9" cy="465.2" r="2.55" fill="#c40a12"/>
<circle cx="378.7" cy="468.7" r="2.55" fill="#c40a12"/>
<circle cx="378.6" cy="469.0" r="2.55" fill="#c40a12"/>
<circle cx="404.6" cy="458.6" r="2.55" fill="#c40a12"/>
<circle cx="386.7" cy="454.0" r="2.55" fill="#c40a12"/>
<circle cx="388.6" cy="454.4" r="2.55" fill="#c40a12"/>
<circle cx="373.6" cy="450.1" r="2.55" fill="#c40a12"/>
<circle cx="396.1" cy="443.3" r="2.55" fill="#c40a12"/>
<circle cx="389.6" cy="464.5" r="2.55" fill="#c40a12"/>
<circle cx="395.1" cy="469.9" r="2.55" fill="#c40a12"/>
<circle cx="379.8" cy="451.5" r="2.55" fill="#c40a12"/>
<circle cx="388.0" cy="461.2" r="2.55" fill="#c40a12"/>
<circle cx="396.6" cy="428.2" r="2.55" fill="#c40a12"/>
<circle cx="396.5" cy="440.5" r="2.55" fill="#c40a12"/>
<circle cx="394.1" cy="440.1" r="2.55" fill="#c40a12"/>
<circle cx="364.4" cy="462.4" r="2.55" fill="#c40a12"/>
<circle cx="364.3" cy="462.9" r="2.55" fill="#c40a12"/>
<circle cx="366.9" cy="465.4" r="2.55" fill="#c40a12"/>
<circle cx="365.7" cy="470.7" r="2.55" fill="#c40a12"/>
<circle cx="368.6" cy="469.6" r="2.55" fill="#c40a12"/>
<circle cx="372.7" cy="470.4" r="2.55" fill="#c40a12"/>
<circle cx="369.6" cy="474.7" r="2.55" fill="#c40a12"/>
<circle cx="368.7" cy="479.2" r="2.55" fill="#c40a12"/>
<circle cx="369.5" cy="481.6" r="2.55" fill="#c40a12"/>
<circle cx="366.7" cy="479.9" r="2.55" fill="#c40a12"/>
<circle cx="371.6" cy="483.5" r="2.55" fill="#c40a12"/>
<circle cx="368.9" cy="485.1" r="2.55" fill="#c40a12"/>
<circle cx="375.5" cy="493.5" r="2.55" fill="#c40a12"/>
<circle cx="377.7" cy="492.2" r="2.55" fill="#c40a12"/>
<circle cx="376.5" cy="493.9" r="2.55" fill="#c40a12"/>
<circle cx="379.7" cy="501.5" r="2.55" fill="#c40a12"/>
<circle cx="378.1" cy="503.5" r="2.55" fill="#c40a12"/>
<circle cx="383.6" cy="502.1" r="2.55" fill="#c40a12"/>
<circle cx="379.4" cy="507.4" r="2.55" fill="#c40a12"/>
<circle cx="384.9" cy="505.4" r="2.55" fill="#c40a12"/>
<circle cx="387.6" cy="509.5" r="2.55" fill="#c40a12"/>
<circle cx="391.5" cy="508.8" r="2.55" fill="#c40a12"/>
<circle cx="392.5" cy="515.9" r="2.55" fill="#c40a12"/>
<circle cx="394.9" cy="514.6" r="2.55" fill="#c40a12"/>
<circle cx="390.9" cy="501.5" r="2.55" fill="#c40a12"/>
<circle cx="394.7" cy="500.7" r="2.55" fill="#c40a12"/>
<circle cx="399.1" cy="500.6" r="2.55" fill="#c40a12"/>
<circle cx="396.1" cy="500.9" r="2.55" fill="#c40a12"/>
<circle cx="399.2" cy="503.2" r="2.55" fill="#c40a12"/>
<circle cx="418.0" cy="483.3" r="2.55" fill="#c40a12"/>
<circle cx="417.0" cy="492.0" r="2.55" fill="#c40a12"/>
<circle cx="417.2" cy="495.0" r="2.55" fill="#c40a12"/>
<circle cx="416.8" cy="493.2" r="2.55" fill="#c40a12"/>
<circle cx="421.5" cy="496.7" r="2.55" fill="#c40a12"/>
<circle cx="415.0" cy="492.3" r="2.55" fill="#c40a12"/>
<circle cx="411.4" cy="480.5" r="2.55" fill="#c40a12"/>
<circle cx="411.1" cy="493.4" r="2.55" fill="#c40a12"/>
<circle cx="413.3" cy="486.9" r="2.55" fill="#c40a12"/>
<circle cx="416.4" cy="486.8" r="2.55" fill="#c40a12"/>
<circle cx="415.2" cy="488.4" r="2.55" fill="#c40a12"/>
<circle cx="422.4" cy="487.3" r="2.55" fill="#c40a12"/>
<circle cx="418.6" cy="493.0" r="2.55" fill="#c40a12"/>
<circle cx="416.4" cy="479.4" r="2.55" fill="#c40a12"/>
<circle cx="415.3" cy="493.4" r="2.55" fill="#c40a12"/>
<circle cx="412.1" cy="483.4" r="2.55" fill="#c40a12"/>
<circle cx="420.0" cy="491.8" r="2.55" fill="#c40a12"/>
<circle cx="417.0" cy="491.8" r="2.55" fill="#c40a12"/>
<circle cx="356.6" cy="391.9" r="2.55" fill="#c40a12"/>
<circle cx="363.0" cy="404.7" r="2.55" fill="#c40a12"/>
<circle cx="368.1" cy="418.8" r="2.55" fill="#c40a12"/>
<circle cx="375.8" cy="406.0" r="2.55" fill="#c40a12"/>
<circle cx="380.9" cy="404.7" r="2.55" fill="#c40a12"/>
<circle cx="400.1" cy="415.0" r="2.55" fill="#c40a12"/>
<circle cx="409.0" cy="415.0" r="2.55" fill="#c40a12"/>
<circle cx="403.9" cy="440.5" r="2.55" fill="#c40a12"/>
<circle cx="406.5" cy="453.3" r="2.55" fill="#c40a12"/>
<circle cx="411.6" cy="462.2" r="2.55" fill="#c40a12"/>
<circle cx="424.3" cy="446.9" r="2.55" fill="#c40a12"/>
<circle cx="421.8" cy="452.0" r="2.55" fill="#c40a12"/>
<circle cx="424.3" cy="467.3" r="2.55" fill="#c40a12"/>
<circle cx="410.3" cy="478.8" r="2.55" fill="#c40a12"/>
<circle cx="402.6" cy="475.0" r="2.55" fill="#c40a12"/>
<circle cx="449.9" cy="370.2" r="2.55" fill="#c40a12"/>
<circle cx="442.2" cy="379.2" r="2.55" fill="#c40a12"/>
<circle cx="415.4" cy="384.3" r="2.55" fill="#c40a12"/>
<circle cx="356.6" cy="372.1" r="2.55" fill="#c40a12"/>
<circle cx="400.1" cy="362.6" r="2.55" fill="#c40a12"/>
<circle cx="477.9" cy="254.3" r="2.55" fill="#c40a12"/>
<circle cx="486.0" cy="257.3" r="2.55" fill="#c40a12"/>
<circle cx="494.1" cy="258.9" r="2.55" fill="#c40a12"/>
<circle cx="511.4" cy="260.1" r="2.55" fill="#c40a12"/>
<circle cx="520.7" cy="266.6" r="2.55" fill="#c40a12"/>
<circle cx="531.1" cy="271.2" r="2.55" fill="#c40a12"/>
<circle cx="535.7" cy="261.2" r="2.55" fill="#c40a12"/>
<circle cx="541.5" cy="259.6" r="2.55" fill="#c40a12"/>
<circle cx="542.7" cy="270.5" r="2.55" fill="#c40a12"/>
<circle cx="546.1" cy="270.5" r="2.55" fill="#c40a12"/>
<circle cx="556.5" cy="261.2" r="2.55" fill="#c40a12"/>
<circle cx="561.2" cy="260.1" r="2.55" fill="#c40a12"/>
<circle cx="564.6" cy="267.0" r="2.55" fill="#c40a12"/>
<circle cx="567.0" cy="269.3" r="2.55" fill="#c40a12"/>
<circle cx="557.7" cy="274.0" r="2.55" fill="#c40a12"/>
<circle cx="582.0" cy="272.8" r="2.55" fill="#c40a12"/>
<circle cx="584.3" cy="271.7" r="2.55" fill="#c40a12"/>
<circle cx="591.3" cy="269.3" r="2.55" fill="#c40a12"/>
<circle cx="593.6" cy="240.4" r="2.55" fill="#c40a12"/>
<circle cx="460.0" cy="272.8" r="2.55" fill="#c40a12"/>
<circle cx="528.8" cy="284.4" r="2.55" fill="#c40a12"/>
<circle cx="531.1" cy="290.2" r="2.55" fill="#c40a12"/>
<circle cx="526.5" cy="285.5" r="2.55" fill="#c40a12"/>
<circle cx="558.9" cy="285.5" r="2.55" fill="#c40a12"/>
<circle cx="562.3" cy="286.7" r="2.55" fill="#c40a12"/>
<circle cx="568.1" cy="285.5" r="2.55" fill="#c40a12"/>
<circle cx="557.7" cy="292.5" r="2.55" fill="#c40a12"/>
<circle cx="556.5" cy="299.4" r="2.55" fill="#c40a12"/>
<circle cx="555.4" cy="304.1" r="2.55" fill="#c40a12"/>
<circle cx="519.5" cy="322.6" r="2.55" fill="#c40a12"/>
<circle cx="540.3" cy="331.8" r="2.55" fill="#c40a12"/>
<circle cx="547.3" cy="330.7" r="2.55" fill="#c40a12"/>
<circle cx="558.9" cy="331.8" r="2.55" fill="#c40a12"/>
<circle cx="568.1" cy="327.2" r="2.55" fill="#c40a12"/>
<circle cx="579.7" cy="336.5" r="2.55" fill="#c40a12"/>
<circle cx="578.5" cy="316.8" r="2.55" fill="#c40a12"/>
<circle cx="598.2" cy="322.6" r="2.55" fill="#c40a12"/>
<circle cx="628.3" cy="297.1" r="2.55" fill="#c40a12"/>
<circle cx="572.7" cy="355.0" r="2.55" fill="#c40a12"/>
<circle cx="579.7" cy="363.1" r="2.55" fill="#c40a12"/>
<circle cx="609.8" cy="366.5" r="2.55" fill="#c40a12"/>
<circle cx="545.0" cy="348.0" r="2.55" fill="#c40a12"/>
<circle cx="547.3" cy="350.3" r="2.55" fill="#c40a12"/>
<circle cx="524.1" cy="348.0" r="2.55" fill="#c40a12"/>
<circle cx="512.6" cy="338.8" r="2.55" fill="#c40a12"/>
<circle cx="514.9" cy="341.1" r="2.55" fill="#c40a12"/>
<circle cx="501.0" cy="373.5" r="2.55" fill="#c40a12"/>
<circle cx="467.4" cy="341.1" r="2.55" fill="#c40a12"/>
<circle cx="462.8" cy="345.7" r="2.55" fill="#c40a12"/>
<circle cx="490.6" cy="346.9" r="2.55" fill="#c40a12"/>
<circle cx="430.4" cy="311.0" r="2.55" fill="#c40a12"/>
<circle cx="436.2" cy="309.8" r="2.55" fill="#c40a12"/>
<circle cx="426.9" cy="316.8" r="2.55" fill="#c40a12"/>
<circle cx="432.7" cy="324.9" r="2.55" fill="#c40a12"/>
<circle cx="430.4" cy="331.8" r="2.55" fill="#c40a12"/>
<circle cx="436.2" cy="335.3" r="2.55" fill="#c40a12"/>
<circle cx="443.1" cy="327.2" r="2.55" fill="#c40a12"/>
<circle cx="447.8" cy="306.4" r="2.55" fill="#c40a12"/>
<circle cx="450.1" cy="308.7" r="2.55" fill="#c40a12"/>
<circle cx="454.7" cy="301.7" r="2.55" fill="#c40a12"/>
<circle cx="457.0" cy="311.0" r="2.55" fill="#c40a12"/>
<circle cx="457.0" cy="327.2" r="2.55" fill="#c40a12"/>
<circle cx="458.2" cy="331.8" r="2.55" fill="#c40a12"/>
<circle cx="454.7" cy="334.1" r="2.55" fill="#c40a12"/>
<circle cx="443.1" cy="339.9" r="2.55" fill="#c40a12"/>
<circle cx="447.8" cy="342.2" r="2.55" fill="#c40a12"/>
<circle cx="433.9" cy="343.4" r="2.55" fill="#c40a12"/>
<circle cx="430.4" cy="348.0" r="2.55" fill="#c40a12"/>
<circle cx="432.7" cy="352.7" r="2.55" fill="#c40a12"/>
<circle cx="433.9" cy="359.6" r="2.55" fill="#c40a12"/>
<circle cx="430.4" cy="366.5" r="2.55" fill="#c40a12"/>
<circle cx="436.2" cy="368.9" r="2.55" fill="#c40a12"/>
<circle cx="443.1" cy="371.2" r="2.55" fill="#c40a12"/>
<circle cx="450.1" cy="370.0" r="2.55" fill="#c40a12"/>
<circle cx="447.8" cy="373.5" r="2.55" fill="#c40a12"/>
<circle cx="453.6" cy="355.0" r="2.55" fill="#c40a12"/>
<circle cx="563.5" cy="265.9" r="2.55" fill="#c40a12"/>
<circle cx="565.3" cy="268.2" r="2.55" fill="#c40a12"/>
<circle cx="569.3" cy="270.5" r="2.55" fill="#c40a12"/>
<circle cx="582.0" cy="275.1" r="2.55" fill="#c40a12"/>
<circle cx="540.3" cy="253.1" r="2.55" fill="#c40a12"/>
<circle cx="429.3" cy="338.8" r="2.55" fill="#c40a12"/>
<circle cx="428.1" cy="327.2" r="2.55" fill="#c40a12"/>
<circle cx="502.0" cy="375.0" r="2.55" fill="#c40a12"/>
<circle cx="490.0" cy="411.0" r="2.55" fill="#c40a12"/>
<circle cx="526.0" cy="415.0" r="2.55" fill="#c40a12"/>
<circle cx="467.0" cy="475.0" r="2.55" fill="#c40a12"/>
<circle cx="538.0" cy="346.0" r="2.55" fill="#c40a12"/>
<circle cx="560.0" cy="386.0" r="2.55" fill="#c40a12"/>
<circle cx="577.0" cy="368.0" r="2.55" fill="#c40a12"/>
<circle cx="583.0" cy="354.0" r="2.55" fill="#c40a12"/>
<circle cx="589.0" cy="437.0" r="2.55" fill="#c40a12"/>
<circle cx="579.0" cy="491.0" r="2.55" fill="#c40a12"/>
<circle cx="566.0" cy="487.0" r="2.55" fill="#c40a12"/>
<circle cx="600.0" cy="479.0" r="2.55" fill="#c40a12"/>
<circle cx="605.0" cy="480.0" r="2.55" fill="#c40a12"/>
<circle cx="606.0" cy="463.0" r="2.55" fill="#c40a12"/>
<circle cx="611.0" cy="463.0" r="2.55" fill="#c40a12"/>
<circle cx="500.0" cy="512.0" r="2.55" fill="#c40a12"/>
<circle cx="531.0" cy="511.0" r="2.55" fill="#c40a12"/>
<circle cx="514.0" cy="520.0" r="2.55" fill="#c40a12"/>
<circle cx="613.0" cy="380.0" r="2.55" fill="#c40a12"/>
<circle cx="620.0" cy="378.0" r="2.55" fill="#c40a12"/>
<circle cx="610.0" cy="366.0" r="2.55" fill="#c40a12"/>
<circle cx="659.4" cy="152.8" r="2.55" fill="#c40a12"/>
<circle cx="642.5" cy="186.5" r="2.55" fill="#c40a12"/>
<circle cx="619.4" cy="221.7" r="2.55" fill="#c40a12"/>
<circle cx="612.2" cy="222.7" r="2.55" fill="#c40a12"/>
<circle cx="592.9" cy="239.6" r="2.55" fill="#c40a12"/>
<circle cx="700.0" cy="187.0" r="2.55" fill="#c40a12"/>
<circle cx="692.0" cy="189.0" r="2.55" fill="#c40a12"/>
<circle cx="700.0" cy="194.0" r="2.55" fill="#c40a12"/>
<circle cx="694.0" cy="197.0" r="2.55" fill="#c40a12"/>
<circle cx="697.0" cy="182.0" r="2.55" fill="#c40a12"/>
<circle cx="692.0" cy="182.0" r="2.55" fill="#c40a12"/>
<circle cx="689.0" cy="196.0" r="2.55" fill="#c40a12"/>
<circle cx="702.0" cy="200.0" r="2.55" fill="#c40a12"/>
<circle cx="693.0" cy="200.0" r="2.55" fill="#c40a12"/>
<circle cx="690.0" cy="203.0" r="2.55" fill="#c40a12"/>
<path d="M168.0,231.4 L169.2,234.3 L172.4,234.6 L170.0,236.6 L170.7,239.7 L168.0,238.1 L165.3,239.7 L166.0,236.6 L163.6,234.6 L166.8,234.3Z" fill="#c40a12"/>
<path d="M196.0,211.4 L197.2,214.3 L200.4,214.6 L198.0,216.6 L198.7,219.7 L196.0,218.1 L193.3,219.7 L194.0,216.6 L191.6,214.6 L194.8,214.3Z" fill="#c40a12"/>
<path d="M246.0,209.4 L247.2,212.3 L250.4,212.6 L248.0,214.6 L248.7,217.7 L246.0,216.1 L243.3,217.7 L244.0,214.6 L241.6,212.6 L244.8,212.3Z" fill="#c40a12"/>
<path d="M263.0,215.4 L264.2,218.3 L267.4,218.6 L265.0,220.6 L265.7,223.7 L263.0,222.1 L260.3,223.7 L261.0,220.6 L258.6,218.6 L261.8,218.3Z" fill="#c40a12"/>
<path d="M306.0,206.4 L307.2,209.3 L310.4,209.6 L308.0,211.6 L308.7,214.7 L306.0,213.1 L303.3,214.7 L304.0,211.6 L301.6,209.6 L304.8,209.3Z" fill="#c40a12"/>
<path d="M322.0,207.4 L323.2,210.3 L326.4,210.6 L324.0,212.6 L324.7,215.7 L322.0,214.1 L319.3,215.7 L320.0,212.6 L317.6,210.6 L320.8,210.3Z" fill="#c40a12"/>
<path d="M400.0,480.4 L401.2,483.3 L404.4,483.6 L402.0,485.6 L402.7,488.7 L400.0,487.1 L397.3,488.7 L398.0,485.6 L395.6,483.6 L398.8,483.3Z" fill="#c40a12"/>
<path d="M395.0,495.4 L396.2,498.3 L399.4,498.6 L397.0,500.6 L397.7,503.7 L395.0,502.1 L392.3,503.7 L393.0,500.6 L390.6,498.6 L393.8,498.3Z" fill="#c40a12"/>
<path d="M373.0,442.4 L374.2,445.3 L377.4,445.6 L375.0,447.6 L375.7,450.7 L373.0,449.1 L370.3,450.7 L371.0,447.6 L368.6,445.6 L371.8,445.3Z" fill="#c40a12"/>
<path d="M386.0,500.4 L387.2,503.3 L390.4,503.6 L388.0,505.6 L388.7,508.7 L386.0,507.1 L383.3,508.7 L384.0,505.6 L381.6,503.6 L384.8,503.3Z" fill="#c40a12"/>
<path d="M416.0,491.4 L417.2,494.3 L420.4,494.6 L418.0,496.6 L418.7,499.7 L416.0,498.1 L413.3,499.7 L414.0,496.6 L411.6,494.6 L414.8,494.3Z" fill="#c40a12"/>
<path d="M409.0,505.4 L410.2,508.3 L413.4,508.6 L411.0,510.6 L411.7,513.7 L409.0,512.1 L406.3,513.7 L407.0,510.6 L404.6,508.6 L407.8,508.3Z" fill="#c40a12"/>
<path d="M459.3,314.5 L460.5,317.4 L463.7,317.7 L461.3,319.7 L462.0,322.8 L459.3,321.2 L456.6,322.8 L457.3,319.7 L454.9,317.7 L458.1,317.4Z" fill="#c40a12"/>
<path d="M448.9,326.1 L450.1,329.0 L453.3,329.3 L450.9,331.3 L451.6,334.4 L448.9,332.8 L446.2,334.4 L446.9,331.3 L444.5,329.3 L447.7,329.0Z" fill="#c40a12"/>
<path d="M476.7,341.1 L477.9,344.0 L481.1,344.3 L478.7,346.3 L479.4,349.4 L476.7,347.8 L474.0,349.4 L474.7,346.3 L472.3,344.3 L475.5,344.0Z" fill="#c40a12"/>
<path d="M528.8,279.8 L530.0,282.7 L533.2,283.0 L530.8,285.0 L531.5,288.1 L528.8,286.5 L526.1,288.1 L526.8,285.0 L524.4,283.0 L527.6,282.7Z" fill="#c40a12"/>
<path d="M531.1,286.7 L532.3,289.6 L535.5,289.9 L533.1,291.9 L533.8,295.0 L531.1,293.4 L528.4,295.0 L529.1,291.9 L526.7,289.9 L529.9,289.6Z" fill="#c40a12"/>
<path d="M543.8,271.7 L545.0,274.6 L548.2,274.9 L545.8,276.9 L546.5,280.0 L543.8,278.4 L541.1,280.0 L541.8,276.9 L539.4,274.9 L542.6,274.6Z" fill="#c40a12"/>
<path d="M542.7,313.3 L543.9,316.2 L547.1,316.5 L544.7,318.5 L545.4,321.6 L542.7,320.0 L540.0,321.6 L540.7,318.5 L538.3,316.5 L541.5,316.2Z" fill="#c40a12"/>
<path d="M601.7,307.6 L602.9,310.5 L606.1,310.8 L603.7,312.8 L604.4,315.9 L601.7,314.3 L599.0,315.9 L599.7,312.8 L597.3,310.8 L600.5,310.5Z" fill="#c40a12"/>
<path d="M630.6,242.8 L631.8,245.7 L635.0,246.0 L632.6,248.0 L633.3,251.1 L630.6,249.5 L627.9,251.1 L628.6,248.0 L626.2,246.0 L629.4,245.7Z" fill="#c40a12"/>
<path d="M623.7,265.9 L624.9,268.8 L628.1,269.1 L625.7,271.1 L626.4,274.2 L623.7,272.6 L621.0,274.2 L621.7,271.1 L619.3,269.1 L622.5,268.8Z" fill="#c40a12"/>
<path d="M582.0,268.2 L583.2,271.1 L586.4,271.4 L584.0,273.4 L584.7,276.5 L582.0,274.9 L579.3,276.5 L580.0,273.4 L577.6,271.4 L580.8,271.1Z" fill="#c40a12"/>
<path d="M660.0,187.4 L661.2,190.3 L664.4,190.6 L662.0,192.6 L662.7,195.7 L660.0,194.1 L657.3,195.7 L658.0,192.6 L655.6,190.6 L658.8,190.3Z" fill="#c40a12"/>
<path d="M686.0,183.4 L687.2,186.3 L690.4,186.6 L688.0,188.6 L688.7,191.7 L686.0,190.1 L683.3,191.7 L684.0,188.6 L681.6,186.6 L684.8,186.3Z" fill="#c40a12"/>
<path d="M690.0,193.4 L691.2,196.3 L694.4,196.6 L692.0,198.6 L692.7,201.7 L690.0,200.1 L687.3,201.7 L688.0,198.6 L685.6,196.6 L688.8,196.3Z" fill="#c40a12"/>
<path d="M692.0,180.4 L693.2,183.3 L696.4,183.6 L694.0,185.6 L694.7,188.7 L692.0,187.1 L689.3,188.7 L690.0,185.6 L687.6,183.6 L690.8,183.3Z" fill="#c40a12"/>
<path d="M153.9,293.6 L155.1,296.5 L158.3,296.8 L155.9,298.8 L156.6,301.9 L153.9,300.3 L151.2,301.9 L151.9,298.8 L149.5,296.8 L152.7,296.5Z" fill="#c40a12"/>
<path d="M213.3,285.1 L214.5,288.0 L217.7,288.3 L215.3,290.3 L216.0,293.4 L213.3,291.8 L210.6,293.4 L211.3,290.3 L208.9,288.3 L212.1,288.0Z" fill="#c40a12"/>
<path d="M214.8,289.7 L216.0,292.6 L219.2,292.9 L216.8,294.9 L217.5,298.0 L214.8,296.4 L212.1,298.0 L212.8,294.9 L210.4,292.9 L213.6,292.6Z" fill="#c40a12"/>
<path d="M187.1,301.3 L188.3,304.2 L191.5,304.5 L189.1,306.5 L189.8,309.6 L187.1,308.0 L184.4,309.6 L185.1,306.5 L182.7,304.5 L185.9,304.2Z" fill="#c40a12"/>
<path d="M198.6,297.4 L199.8,300.3 L203.0,300.6 L200.6,302.6 L201.3,305.7 L198.6,304.1 L195.9,305.7 L196.6,302.6 L194.2,300.6 L197.4,300.3Z" fill="#c40a12"/>
<path d="M240.3,316.7 L241.5,319.6 L244.7,319.9 L242.3,321.9 L243.0,325.0 L240.3,323.4 L237.6,325.0 L238.3,321.9 L235.9,319.9 L239.1,319.6Z" fill="#c40a12"/>
<path d="M248.8,317.5 L250.0,320.4 L253.2,320.7 L250.8,322.7 L251.5,325.8 L248.8,324.2 L246.1,325.8 L246.8,322.7 L244.4,320.7 L247.6,320.4Z" fill="#c40a12"/>
<path d="M261.9,362.2 L263.1,365.1 L266.3,365.4 L263.9,367.4 L264.6,370.5 L261.9,368.9 L259.2,370.5 L259.9,367.4 L257.5,365.4 L260.7,365.1Z" fill="#c40a12"/>
<path d="M260.4,373.0 L261.6,375.9 L264.8,376.2 L262.4,378.2 L263.1,381.3 L260.4,379.7 L257.7,381.3 L258.4,378.2 L256.0,376.2 L259.2,375.9Z" fill="#c40a12"/>
<path d="M286.6,400.0 L287.8,402.9 L291.0,403.2 L288.6,405.2 L289.3,408.3 L286.6,406.7 L283.9,408.3 L284.6,405.2 L282.2,403.2 L285.4,402.9Z" fill="#c40a12"/>
<path d="M286.6,418.6 L287.8,421.5 L291.0,421.8 L288.6,423.8 L289.3,426.9 L286.6,425.3 L283.9,426.9 L284.6,423.8 L282.2,421.8 L285.4,421.5Z" fill="#c40a12"/>
<path d="M167.0,370.7 L168.2,373.6 L171.4,373.9 L169.0,375.9 L169.7,379.0 L167.0,377.4 L164.3,379.0 L165.0,375.9 L162.6,373.9 L165.8,373.6Z" fill="#c40a12"/>
<path d="M357.1,267.7 L358.3,270.6 L361.5,270.9 L359.1,272.9 L359.8,276.0 L357.1,274.4 L354.4,276.0 L355.1,272.9 L352.7,270.9 L355.9,270.6Z" fill="#c40a12"/>
<path d="M381.0,276.2 L382.2,279.1 L385.4,279.4 L383.0,281.4 L383.7,284.5 L381.0,282.9 L378.3,284.5 L379.0,281.4 L376.6,279.4 L379.8,279.1Z" fill="#c40a12"/>
<path d="M387.2,273.9 L388.4,276.8 L391.6,277.1 L389.2,279.1 L389.9,282.2 L387.2,280.6 L384.5,282.2 L385.2,279.1 L382.8,277.1 L386.0,276.8Z" fill="#c40a12"/>
<path d="M405.7,279.3 L406.9,282.2 L410.1,282.5 L407.7,284.5 L408.4,287.6 L405.7,286.0 L403.0,287.6 L403.7,284.5 L401.3,282.5 L404.5,282.2Z" fill="#c40a12"/>
<path d="M436.6,283.2 L437.8,286.1 L441.0,286.4 L438.6,288.4 L439.3,291.5 L436.6,289.9 L433.9,291.5 L434.6,288.4 L432.2,286.4 L435.4,286.1Z" fill="#c40a12"/>
<path d="M356.3,322.5 L357.5,325.4 L360.7,325.7 L358.3,327.7 L359.0,330.8 L356.3,329.2 L353.6,330.8 L354.3,327.7 L351.9,325.7 L355.1,325.4Z" fill="#c40a12"/>
<path d="M363.3,325.6 L364.5,328.5 L367.7,328.8 L365.3,330.8 L366.0,333.9 L363.3,332.3 L360.6,333.9 L361.3,330.8 L358.9,328.8 L362.1,328.5Z" fill="#c40a12"/>
<path d="M370.2,338.7 L371.4,341.6 L374.6,341.9 L372.2,343.9 L372.9,347.0 L370.2,345.4 L367.5,347.0 L368.2,343.9 L365.8,341.9 L369.0,341.6Z" fill="#c40a12"/>
<path d="M350.9,357.2 L352.1,360.1 L355.3,360.4 L352.9,362.4 L353.6,365.5 L350.9,363.9 L348.2,365.5 L348.9,362.4 L346.5,360.4 L349.7,360.1Z" fill="#c40a12"/>
<path d="M365.6,367.3 L366.8,370.2 L370.0,370.5 L367.6,372.5 L368.3,375.6 L365.6,374.0 L362.9,375.6 L363.6,372.5 L361.2,370.5 L364.4,370.2Z" fill="#c40a12"/>
<path d="M382.6,357.2 L383.8,360.1 L387.0,360.4 L384.6,362.4 L385.3,365.5 L382.6,363.9 L379.9,365.5 L380.6,362.4 L378.2,360.4 L381.4,360.1Z" fill="#c40a12"/>
<path d="M336.3,387.3 L337.5,390.2 L340.7,390.5 L338.3,392.5 L339.0,395.6 L336.3,394.0 L333.6,395.6 L334.3,392.5 L331.9,390.5 L335.1,390.2Z" fill="#c40a12"/>
<path d="M392.6,408.9 L393.8,411.8 L397.0,412.1 L394.6,414.1 L395.3,417.2 L392.6,415.6 L389.9,417.2 L390.6,414.1 L388.2,412.1 L391.4,411.8Z" fill="#c40a12"/>
<path d="M396.5,381.9 L397.7,384.8 L400.9,385.1 L398.5,387.1 L399.2,390.2 L396.5,388.6 L393.8,390.2 L394.5,387.1 L392.1,385.1 L395.3,384.8Z" fill="#c40a12"/>
<path d="M432.0,360.3 L433.2,363.2 L436.4,363.5 L434.0,365.5 L434.7,368.6 L432.0,367.0 L429.3,368.6 L430.0,365.5 L427.6,363.5 L430.8,363.2Z" fill="#c40a12"/>
<path d="M300.0,152.8 L301.9,157.4 L306.8,157.8 L303.1,161.0 L304.2,165.8 L300.0,163.2 L295.8,165.8 L296.9,161.0 L293.2,157.8 L298.1,157.4Z" fill="#f6ee3a" stroke="#333" stroke-width="0.7"/>
<path d="M229.0,191.8 L230.9,196.4 L235.8,196.8 L232.1,200.0 L233.2,204.8 L229.0,202.2 L224.8,204.8 L225.9,200.0 L222.2,196.8 L227.1,196.4Z" fill="#f6ee3a" stroke="#333" stroke-width="0.7"/>
<path d="M144.0,228.8 L145.9,233.4 L150.8,233.8 L147.1,237.0 L148.2,241.8 L144.0,239.2 L139.8,241.8 L140.9,237.0 L137.2,233.8 L142.1,233.4Z" fill="#f6ee3a" stroke="#333" stroke-width="0.7"/>
<path d="M290.0,303.8 L291.9,308.4 L296.8,308.8 L293.1,312.0 L294.2,316.8 L290.0,314.2 L285.8,316.8 L286.9,312.0 L283.2,308.8 L288.1,308.4Z" fill="#f6ee3a" stroke="#333" stroke-width="0.7"/>
<path d="M414.0,293.8 L415.9,298.4 L420.8,298.8 L417.1,302.0 L418.2,306.8 L414.0,304.2 L409.8,306.8 L410.9,302.0 L407.2,298.8 L412.1,298.4Z" fill="#f6ee3a" stroke="#333" stroke-width="0.7"/>
<path d="M445.0,307.8 L446.9,312.4 L451.8,312.8 L448.1,316.0 L449.2,320.8 L445.0,318.2 L440.8,320.8 L441.9,316.0 L438.2,312.8 L443.1,312.4Z" fill="#f6ee3a" stroke="#333" stroke-width="0.7"/>
<path d="M461.0,279.8 L462.9,284.4 L467.8,284.8 L464.1,288.0 L465.2,292.8 L461.0,290.2 L456.8,292.8 L457.9,288.0 L454.2,284.8 L459.1,284.4Z" fill="#f6ee3a" stroke="#333" stroke-width="0.7"/>
<path d="M519.0,312.8 L520.9,317.4 L525.8,317.8 L522.1,321.0 L523.2,325.8 L519.0,323.2 L514.8,325.8 L515.9,321.0 L512.2,317.8 L517.1,317.4Z" fill="#f6ee3a" stroke="#333" stroke-width="0.7"/>
<path d="M597.0,326.8 L598.9,331.4 L603.8,331.8 L600.1,335.0 L601.2,339.8 L597.0,337.2 L592.8,339.8 L593.9,335.0 L590.2,331.8 L595.1,331.4Z" fill="#f6ee3a" stroke="#333" stroke-width="0.7"/>
<path d="M451.0,341.8 L452.9,346.4 L457.8,346.8 L454.1,350.0 L455.2,354.8 L451.0,352.2 L446.8,354.8 L447.9,350.0 L444.2,346.8 L449.1,346.4Z" fill="#f6ee3a" stroke="#333" stroke-width="0.7"/>
<path d="M443.0,356.8 L444.9,361.4 L449.8,361.8 L446.1,365.0 L447.2,369.8 L443.0,367.2 L438.8,369.8 L439.9,365.0 L436.2,361.8 L441.1,361.4Z" fill="#f6ee3a" stroke="#333" stroke-width="0.7"/>
<path d="M427.0,385.8 L428.9,390.4 L433.8,390.8 L430.1,394.0 L431.2,398.8 L427.0,396.2 L422.8,398.8 L423.9,394.0 L420.2,390.8 L425.1,390.4Z" fill="#f6ee3a" stroke="#333" stroke-width="0.7"/>
<path d="M420.0,468.8 L421.9,473.4 L426.8,473.8 L423.1,477.0 L424.2,481.8 L420.0,479.2 L415.8,481.8 L416.9,477.0 L413.2,473.8 L418.1,473.4Z" fill="#f6ee3a" stroke="#333" stroke-width="0.7"/>
<path d="M498.0,336.8 L499.9,341.4 L504.8,341.8 L501.1,345.0 L502.2,349.8 L498.0,347.2 L493.8,349.8 L494.9,345.0 L491.2,341.8 L496.1,341.4Z" fill="#f6ee3a" stroke="#333" stroke-width="0.7"/>
<path d="M214.0,400.8 L215.9,405.4 L220.8,405.8 L217.1,409.0 L218.2,413.8 L214.0,411.2 L209.8,413.8 L210.9,409.0 L207.2,405.8 L212.1,405.4Z" fill="#f6ee3a" stroke="#333" stroke-width="0.7"/>
<path d="M271.0,385.8 L272.9,390.4 L277.8,390.8 L274.1,394.0 L275.2,398.8 L271.0,396.2 L266.8,398.8 L267.9,394.0 L264.2,390.8 L269.1,390.4Z" fill="#f6ee3a" stroke="#333" stroke-width="0.7"/>
<path d="M286.0,374.8 L287.9,379.4 L292.8,379.8 L289.1,383.0 L290.2,387.8 L286.0,385.2 L281.8,387.8 L282.9,383.0 L279.2,379.8 L284.1,379.4Z" fill="#f6ee3a" stroke="#333" stroke-width="0.7"/>
<path d="M348.0,416.8 L349.9,421.4 L354.8,421.8 L351.1,425.0 L352.2,429.8 L348.0,427.2 L343.8,429.8 L344.9,425.0 L341.2,421.8 L346.1,421.4Z" fill="#f6ee3a" stroke="#333" stroke-width="0.7"/>
<path d="M571.6,257.5 L573.5,262.1 L578.4,262.5 L574.7,265.7 L575.8,270.5 L571.6,267.9 L567.4,270.5 L568.5,265.7 L564.8,262.5 L569.7,262.1Z" fill="#f6ee3a" stroke="#333" stroke-width="0.7"/>
<path d="M42.5,348.0 L49.7,334.0 L54.3,317.0 L60.5,308.0 L66.7,298.8 L74.4,292.6 L80.6,294.0 L88.3,301.8 L94.5,295.7 L97.5,298.8 L100.6,308.0 L106.8,320.4 L111.4,332.7 L114.5,342.0 L122.2,355.8 L131.5,369.7 L137.3,380.0 L152.3,387.5 L172.4,400.0 L187.4,412.6 L205.0,422.6 L222.5,430.1 L242.6,435.2 L262.6,437.7 L283.2,439.0 L299.4,441.3 L317.9,430.9 L327.2,425.1 L343.4,412.4 L359.6,422.8 L356.1,429.8 L350.3,435.5 L338.8,442.5 L327.2,449.4 L317.9,456.4 L308.7,464.5 L299.4,472.6 L293.6,481.8 L290.6,495.7 L290.6,509.6 L293.6,523.5 L298.3,539.7 L304.1,558.2 L304.5,560.0" fill="none" stroke="#000" stroke-width="4.2" stroke-linejoin="round"/>
<path d="M45.7,341.8 L52.1,329.3 L40.5,331.2ZM62.0,305.7 L69.8,294.1 L58.1,294.6ZM91.5,292.6 L101.3,302.7 L103.2,291.1ZM109.7,327.7 L114.2,341.0 L121.0,331.3ZM127.3,363.4 L135.0,375.0 L139.0,363.9ZM155.5,389.5 L167.4,396.9 L166.5,385.1ZM187.9,412.9 L200.0,419.8 L198.6,408.1ZM223.7,430.4 L237.3,433.8 L232.8,422.9ZM262.9,437.7 L276.9,438.6 L270.5,428.7ZM302.3,439.7 L314.5,432.8 L303.8,427.9ZM336.0,418.2 L347.0,409.6 L335.6,406.4Z" fill="#000"/>
<path d="M358.1,427.8 L348.1,437.6 L359.8,439.5ZM323.9,451.9 L312.8,460.3 L324.1,463.7ZM293.8,480.8 L290.9,494.5 L301.6,489.6ZM293.2,522.2 L297.1,535.6 L304.3,526.3Z" fill="#000"/>
<path d="M899.0,104.0 L869.2,158.6 L851.9,185.9 L854.4,215.6 L856.8,235.4 L855.6,265.2 L851.9,272.6" fill="none" stroke="#000" stroke-width="4.2" stroke-linejoin="round"/>
<path d="M851.9,272.6 L799.5,318.6" fill="none" stroke="#000" stroke-width="4.2" stroke-linejoin="round"/>
<path d="M851.9,272.6 L865.2,318.6" fill="none" stroke="#000" stroke-width="4.2" stroke-linejoin="round"/>
<path d="M900.4,101.4 L893.7,113.7 L888.7,103.0ZM876.5,145.3 L869.8,157.5 L864.8,146.8ZM852.1,188.4 L853.3,202.3 L843.2,196.1ZM856.7,238.1 L856.1,252.1 L846.9,244.7Z" fill="#000"/>
<path d="M827.1,294.4 L816.6,303.6 L815.6,291.8Z" fill="#000"/>
<path d="M494.9,496.8 L523.7,505.2" stroke="#1414ee" stroke-width="2.2"/>
<path d="M494.9,496.8 L611.4,96.3 M523.7,505.2 L640.2,104.7" stroke="#1414ee" stroke-width="2.2" stroke-dasharray="16,8"/>
<path d="M509.3,501.0 L625.8,100.5" stroke="#1414ee" stroke-width="3.6"/>
<path d="M619.1,98.5 L632.5,102.5" stroke="#1414ee" stroke-width="2.2"/>
</g>
<rect x="42.5" y="29.5" width="856.5" height="530.0" fill="none" stroke="#111" stroke-width="1.2"/>
<rect x="80" y="84" width="267.4" height="11.5" fill="url(#cbarA)" stroke="#000" stroke-width="2"/>
<path d="M80,84 L73,89.7 L80,95.5Z" fill="#c6c6c6" stroke="#000" stroke-width="1.6"/>
<path d="M347.4,84 L354.4,89.7 L347.4,95.5Z" fill="#66ecf4" stroke="#000" stroke-width="1.6"/>
<line x1="80.0" x2="80.0" y1="78" y2="84" stroke="#000" stroke-width="1"/>
<text x="80.0" y="69" text-anchor="middle" font-size="16.4">0</text>
<line x1="133.5" x2="133.5" y1="78" y2="84" stroke="#000" stroke-width="1"/>
<text x="133.5" y="69" text-anchor="middle" font-size="16.4">1000</text>
<line x1="187.0" x2="187.0" y1="78" y2="84" stroke="#000" stroke-width="1"/>
<text x="187.0" y="69" text-anchor="middle" font-size="16.4">2000</text>
<line x1="240.4" x2="240.4" y1="78" y2="84" stroke="#000" stroke-width="1"/>
<text x="240.4" y="69" text-anchor="middle" font-size="16.4">3000</text>
<line x1="293.9" x2="293.9" y1="78" y2="84" stroke="#000" stroke-width="1"/>
<text x="293.9" y="69" text-anchor="middle" font-size="16.4">4000</text>
<line x1="347.4" x2="347.4" y1="78" y2="84" stroke="#000" stroke-width="1"/>
<text x="347.4" y="69" text-anchor="middle" font-size="16.4">5000</text>
<text x="82" y="115.5" font-size="17.1">Topography (m)</text>
<text x="853.3" y="64.8" font-size="23.5" font-weight="bold">(a)</text>
<text x="375.2" y="191" font-size="17" font-weight="bold">Central Asian Orogenic Belt</text>
<text x="174.3" y="222.3" font-size="15.1" font-weight="bold">Tiean Shan</text>
<text x="165.5" y="268.5" font-size="15.5" font-weight="bold">Tarim Basin</text>
<text x="221.5" y="342" font-size="17.1" font-weight="bold">Tibetan Plateau</text>
<text x="467" y="310.5" font-size="16.85" font-weight="bold">North China Craton</text>
<text x="445.5" y="442.5" font-size="16.85" font-weight="bold">South China Block</text>
<text transform="translate(470,247) rotate(8)" font-size="12.5">Zhangjiakou-Bohai fault zone</text>
<text x="483" y="359.5" font-size="12.8" fill="#1a1a1a">Dabie shan</text>
<text transform="translate(51.5,10.2) rotate(12)" text-anchor="middle" dy="6" font-size="16.6">60<tspan font-size="19" dy="3.6">°</tspan></text>
<line x1="45" x2="45.6" y1="29.5" y2="25" stroke="#222" stroke-width="0.9"/>
<text transform="translate(145.7,9.8) rotate(10)" text-anchor="middle" dy="6" font-size="16.6">70<tspan font-size="19" dy="3.6">°</tspan></text>
<line x1="140.9" x2="141.4" y1="29.5" y2="25" stroke="#222" stroke-width="0.9"/>
<text transform="translate(234.4,9.8) rotate(7)" text-anchor="middle" dy="6" font-size="16.6">80<tspan font-size="19" dy="3.6">°</tspan></text>
<line x1="230.6" x2="230.9" y1="29.5" y2="25" stroke="#222" stroke-width="0.9"/>
<text transform="translate(319.8,9.8) rotate(3)" text-anchor="middle" dy="6" font-size="16.6">90°</text>
<line x1="318.6" x2="318.8" y1="29.5" y2="25" stroke="#222" stroke-width="0.9"/>
<text transform="translate(404.1,10.2) rotate(0)" text-anchor="middle" dy="6" font-size="16.6">100°</text>
<line x1="403.4" x2="403.4" y1="29.5" y2="25" stroke="#222" stroke-width="0.9"/>
<text transform="translate(486.8,10.2) rotate(-2)" text-anchor="middle" dy="6" font-size="16.6">110°</text>
<line x1="487.8" x2="487.7" y1="29.5" y2="25" stroke="#222" stroke-width="0.9"/>
<text transform="translate(570.4,10.2) rotate(-5)" text-anchor="middle" dy="6" font-size="16.6">120°</text>
<line x1="572.9" x2="572.6" y1="29.5" y2="25" stroke="#222" stroke-width="0.9"/>
<text transform="translate(656,10.2) rotate(-10)" text-anchor="middle" dy="6" font-size="16.6">130°</text>
<line x1="660.2" x2="659.7" y1="29.5" y2="25" stroke="#222" stroke-width="0.9"/>
<text transform="translate(744.6,10.5) rotate(-17)" text-anchor="middle" dy="6" font-size="16.6">140°</text>
<line x1="749.9" x2="749.0" y1="29.5" y2="25" stroke="#222" stroke-width="0.9"/>
<text transform="translate(838.8,10.5) rotate(-25)" text-anchor="middle" dy="6" font-size="16.6">150°</text>
<line x1="845.7" x2="844.5" y1="29.5" y2="25" stroke="#222" stroke-width="0.9"/>
<text transform="translate(17.2,40.8) rotate(10)" text-anchor="middle" dy="6" font-size="16.6">50<tspan font-size="19" dy="3.6">°</tspan></text>
<line x1="38.5" x2="42.5" y1="51.0" y2="50.4" stroke="#222" stroke-width="0.9"/>
<text transform="translate(17.2,119.3) rotate(10)" text-anchor="middle" dy="6" font-size="16.6">45<tspan font-size="19" dy="3.6">°</tspan></text>
<line x1="38.5" x2="42.5" y1="128.0" y2="127.4" stroke="#222" stroke-width="0.9"/>
<text transform="translate(17.2,193.8) rotate(10)" text-anchor="middle" dy="6" font-size="16.6">40<tspan font-size="19" dy="3.6">°</tspan></text>
<line x1="38.5" x2="42.5" y1="202.0" y2="201.4" stroke="#222" stroke-width="0.9"/>
<text transform="translate(17.2,265.3) rotate(10)" text-anchor="middle" dy="6" font-size="16.6">35<tspan font-size="19" dy="3.6">°</tspan></text>
<line x1="38.5" x2="42.5" y1="274.0" y2="273.4" stroke="#222" stroke-width="0.9"/>
<text transform="translate(16.3,337.9) rotate(10)" text-anchor="middle" dy="6" font-size="16.6">30<tspan font-size="19" dy="3.6">°</tspan></text>
<line x1="38.5" x2="42.5" y1="345.5" y2="344.9" stroke="#222" stroke-width="0.9"/>
<text transform="translate(16.3,409) rotate(10)" text-anchor="middle" dy="6" font-size="16.6">25<tspan font-size="19" dy="3.6">°</tspan></text>
<line x1="38.5" x2="42.5" y1="416.6" y2="416.0" stroke="#222" stroke-width="0.9"/>
<text transform="translate(16.3,481.5) rotate(10)" text-anchor="middle" dy="6" font-size="16.6">20<tspan font-size="19" dy="3.6">°</tspan></text>
<line x1="38.5" x2="42.5" y1="488.6" y2="488.0" stroke="#222" stroke-width="0.9"/>
<text transform="translate(16.3,553.3) rotate(10)" text-anchor="middle" dy="6" font-size="16.6">15<tspan font-size="19" dy="3.6">°</tspan></text>
<line x1="38.5" x2="42.5" y1="561.0" y2="560.4" stroke="#222" stroke-width="0.9"/>
<text transform="translate(923,19.2) rotate(-30)" text-anchor="middle" dy="6" font-size="16.6">50°</text>
<line x1="899" x2="903.5" y1="29.7" y2="28.2" stroke="#222" stroke-width="0.9"/>
<text transform="translate(923,98.5) rotate(-30)" text-anchor="middle" dy="6" font-size="16.6">45°</text>
<line x1="899" x2="903.5" y1="106.6" y2="105.1" stroke="#222" stroke-width="0.9"/>
<text transform="translate(923,173.5) rotate(-30)" text-anchor="middle" dy="6" font-size="16.6">40°</text>
<line x1="899" x2="903.5" y1="182.0" y2="180.5" stroke="#222" stroke-width="0.9"/>
<text transform="translate(923,247.8) rotate(-30)" text-anchor="middle" dy="6" font-size="16.6">35°</text>
<line x1="899" x2="903.5" y1="256.5" y2="255.0" stroke="#222" stroke-width="0.9"/>
<text transform="translate(107.8,580.5) rotate(8)" text-anchor="middle" dy="6" font-size="16.6">80<tspan font-size="19" dy="3.6">°</tspan></text>
<line x1="111.5" x2="111.1" y1="559.5" y2="564" stroke="#222" stroke-width="0.9"/>
<text transform="translate(244.4,580.5) rotate(5)" text-anchor="middle" dy="6" font-size="16.6">90<tspan font-size="19" dy="3.6">°</tspan></text>
<line x1="247.6" x2="247.3" y1="559.5" y2="564" stroke="#222" stroke-width="0.9"/>
<text transform="translate(379.7,580.5) rotate(2)" text-anchor="middle" dy="6" font-size="16.6">100<tspan font-size="19" dy="3.6">°</tspan></text>
<line x1="380" x2="379.9" y1="559.5" y2="564" stroke="#222" stroke-width="0.9"/>
<text transform="translate(511.6,580.5) rotate(-1)" text-anchor="middle" dy="6" font-size="16.6">110°</text>
<line x1="511.5" x2="511.6" y1="559.5" y2="564" stroke="#222" stroke-width="0.9"/>
<defs>
<clipPath id="mapB"><rect x="630.2" y="328.5" width="366.79999999999995" height="322.0"/></clipPath>
<filter id="relief" x="631" y="328" width="367" height="323" filterUnits="userSpaceOnUse"><feTurbulence type="fractalNoise" baseFrequency="0.055" numOctaves="4" seed="11" result="n"/><feDiffuseLighting in="n" surfaceScale="6" diffuseConstant="1" lighting-color="#ffffff" result="l"><feDistantLight azimuth="225" elevation="42"/></feDiffuseLighting><feComposite in="SourceGraphic" in2="l" operator="arithmetic" k1="1.05" k2="0.3" k3="0" k4="0" result="c"/><feComposite in="c" in2="SourceGraphic" operator="in"/></filter>
<filter id="reliefw" x="631" y="328" width="367" height="323" filterUnits="userSpaceOnUse"><feTurbulence type="fractalNoise" baseFrequency="0.06" numOctaves="3" seed="5" result="n"/><feDiffuseLighting in="n" surfaceScale="1.5" diffuseConstant="1" lighting-color="#ffffff" result="l"><feDistantLight azimuth="225" elevation="50"/></feDiffuseLighting><feComposite in="SourceGraphic" in2="l" operator="arithmetic" k1="1.1" k2="0.15" k3="0" k4="0" result="c"/><feComposite in="c" in2="SourceGraphic" operator="in"/></filter>
<filter id="bb2"><feGaussianBlur stdDeviation="2"/></filter>
<filter id="bb4" x="-20%" y="-20%" width="140%" height="140%"><feGaussianBlur stdDeviation="4"/></filter>
<linearGradient id="yellowG" x1="0" y1="0.1" x2="1" y2="0.9"><stop offset="0" stop-color="#86c2f2"/><stop offset="0.28" stop-color="#4a8cea"/><stop offset="0.6" stop-color="#3a58de"/><stop offset="1" stop-color="#6a2ad0"/></linearGradient>
<radialGradient id="bohaiG" cx="0.6" cy="0.5" r="0.6"><stop offset="0" stop-color="#9ccff2"/><stop offset="1" stop-color="#dcf0fb"/></radialGradient>
<linearGradient id="cbarB" x1="0" x2="1" y1="0" y2="0"><stop offset="0" stop-color="#4a9ee2"/><stop offset="0.22" stop-color="#94c8f0"/><stop offset="0.333" stop-color="#fbfdff"/><stop offset="0.334" stop-color="#68a886"/><stop offset="0.43" stop-color="#aab496"/><stop offset="0.52" stop-color="#cdb9a3"/><stop offset="0.667" stop-color="#d8c2ae"/><stop offset="0.85" stop-color="#dccfc6"/><stop offset="1" stop-color="#dedad8"/></linearGradient>
<clipPath id="yclip"><path d="M931.0,486.4 C932.7,480.5 932.8,484.9 935.7,483.3 C938.5,481.8 943.9,479.2 948.0,477.1 C952.1,475.1 956.0,473.0 960.4,471.0 C964.7,468.9 969.6,466.7 974.2,464.8 C978.9,462.9 983.8,460.6 988.1,459.4 C992.4,458.2 998.5,458.3 1000.0,457.9 C1001.5,457.5 997.5,424.9 997.0,457.0 C996.5,489.1 1010.3,618.2 997.0,650.5 C983.7,682.8 931.1,651.7 917.1,650.5 C903.1,649.3 915.2,648.3 913.3,643.4 C911.4,638.5 906.4,628.4 905.8,620.9 C905.2,613.4 907.1,604.6 909.6,598.3 C912.1,592.0 916.5,588.3 920.9,583.3 C925.3,578.3 930.9,573.2 935.9,568.2 C940.9,563.2 946.4,557.1 951.0,553.2 C955.6,549.3 960.6,547.5 963.4,545.0 C966.2,542.5 967.1,540.5 968.0,538.0 C968.9,535.5 970.3,532.0 969.0,530.0 C967.7,528.0 964.0,527.2 960.0,526.0 C956.0,524.8 950.0,524.0 945.0,523.0 C940.0,522.0 933.2,520.7 930.0,520.0 C926.8,519.3 925.4,524.6 925.6,519.0 C925.8,513.4 929.4,492.4 931.0,486.4Z"/></clipPath>
</defs>
<rect x="620.2" y="317.9" width="400" height="345" fill="#fff"/>
<path d="M620.2,559.5 V317.9 H899" fill="none" stroke="#8a8a8a" stroke-width="1"/>
<g clip-path="url(#mapB)">
<g filter="url(#relief)">
<rect x="630.2" y="328.5" width="366.79999999999995" height="322.0" fill="#dcc2aa"/>
<ellipse cx="690" cy="432" rx="55" ry="9" fill="#e6d6c6" filter="url(#bb4)"/>
<ellipse cx="700" cy="605" rx="45" ry="12" fill="#d2ccae" filter="url(#bb4)"/>
</g>
<g filter="url(#reliefw)">
<path d="M779.7,480.0 C776.5,486.7 781.0,489.9 781.0,506.0 C781.0,522.0 782.3,564.1 779.7,576.3 C777.1,588.5 770.8,576.8 765.4,579.0 C760.0,581.2 751.6,585.0 747.2,589.3 C742.9,593.6 741.5,598.9 739.3,605.0 C737.1,611.1 734.1,618.2 734.1,625.8 C734.1,633.4 708.8,646.4 739.3,650.5 C769.8,654.6 888.0,651.8 917.0,650.5 C946.0,649.2 914.8,647.9 913.0,643.0 C911.2,638.1 906.6,628.5 906.0,621.0 C905.4,613.5 907.1,604.3 909.6,598.0 C912.1,591.7 916.6,588.0 921.0,583.0 C925.4,578.0 931.0,573.0 936.0,568.0 C941.0,563.0 947.8,557.7 951.0,553.0 C954.2,548.3 957.7,544.7 955.0,540.0 C952.3,535.3 944.2,528.3 935.0,525.0 C925.8,521.7 908.2,524.2 900.0,520.0 C891.8,515.8 889.0,508.3 886.0,500.0 C883.0,491.7 881.3,477.5 882.0,470.0 C882.7,462.5 886.2,459.3 890.0,455.0 C893.8,450.7 899.8,447.8 905.0,444.0 C910.2,440.2 916.5,435.0 921.0,432.0 C925.5,429.0 927.5,427.3 932.0,426.0 C936.5,424.7 943.7,422.8 948.0,424.0 C952.3,425.2 956.0,435.3 958.0,433.0 C960.0,430.7 958.0,418.8 960.0,410.0 C962.0,401.2 965.0,388.3 970.0,380.0 C975.0,371.7 985.5,364.2 990.0,360.0 C994.5,355.8 995.8,360.2 997.0,355.0 C998.2,349.8 1006.5,333.0 997.0,328.6 C987.5,324.2 948.7,325.0 940.0,328.6 C931.3,332.2 945.8,341.4 945.0,350.0 C944.2,358.6 938.8,370.8 935.0,380.0 C931.2,389.2 927.0,397.5 922.0,405.0 C917.0,412.5 911.2,419.5 905.0,425.0 C898.8,430.5 892.5,435.5 885.0,438.0 C877.5,440.5 868.3,438.8 860.0,440.0 C851.7,441.2 842.5,442.5 835.0,445.0 C827.5,447.5 820.8,451.5 815.0,455.0 C809.2,458.5 805.9,461.8 800.0,466.0 C794.1,470.2 782.9,473.3 779.7,480.0Z" fill="#7eb596" filter="url(#bb2)"/>
<ellipse cx="760" cy="620" rx="22" ry="20" fill="#88b998" filter="url(#bb4)"/>
<path d="M895,328.6 L997,328.6 L997,398 L965,392 L935,382 L912,368 L898,350Z" fill="#9cbc9e" filter="url(#bb4)"/>
<path d="M930,328.6 L997,328.6 L997,380 L960,372 L940,355Z" fill="#86b696" filter="url(#bb4)"/>
</g>
<g filter="url(#relief)">
<path d="M830.0,548.0 C837.5,543.8 848.3,545.0 860.0,545.0 C871.7,545.0 889.2,550.5 900.0,548.0 C910.8,545.5 917.5,534.0 925.0,530.0 C932.5,526.0 938.8,524.7 945.0,524.0 C951.2,523.3 957.5,524.7 962.0,526.0 C966.5,527.3 971.0,529.5 972.0,532.0 C973.0,534.5 970.3,538.8 968.0,541.0 C965.7,543.2 961.0,543.0 958.0,545.0 C955.0,547.0 953.8,549.2 950.0,553.0 C946.2,556.8 939.8,563.0 935.0,568.0 C930.2,573.0 925.3,578.0 921.0,583.0 C916.7,588.0 911.7,592.7 909.0,598.0 C906.3,603.3 908.2,610.0 905.0,615.0 C901.8,620.0 897.5,625.5 890.0,628.0 C882.5,630.5 869.2,631.3 860.0,630.0 C850.8,628.7 842.0,625.0 835.0,620.0 C828.0,615.0 821.3,608.3 818.0,600.0 C814.7,591.7 813.0,578.7 815.0,570.0 C817.0,561.3 822.5,552.2 830.0,548.0Z" fill="#a8c4a0" filter="url(#bb4)"/>
<path d="M932.0,426.0 C930.7,422.8 936.2,411.8 940.0,405.0 C943.8,398.2 949.2,391.2 955.0,385.0 C960.8,378.8 968.0,372.2 975.0,368.0 C982.0,363.8 993.3,345.2 997.0,360.0 C1000.7,374.8 999.0,440.5 997.0,457.0 C995.0,473.5 990.2,456.8 985.0,459.0 C979.8,461.2 972.3,466.2 966.0,470.0 C959.7,473.8 952.7,478.3 947.0,482.0 C941.3,485.7 934.3,493.2 932.0,492.0 C929.7,490.8 931.5,480.0 933.0,475.0 C934.5,470.0 938.2,467.0 941.0,462.0 C943.8,457.0 947.7,449.7 950.0,445.0 C952.3,440.3 955.3,437.5 955.0,434.0 C954.7,430.5 951.8,425.3 948.0,424.0 C944.2,422.7 933.3,429.2 932.0,426.0Z" fill="#a4bc94" filter="url(#bb2)"/>
</g>
<path d="M931.0,486.4 C932.7,480.5 932.8,484.9 935.7,483.3 C938.5,481.8 943.9,479.2 948.0,477.1 C952.1,475.1 956.0,473.0 960.4,471.0 C964.7,468.9 969.6,466.7 974.2,464.8 C978.9,462.9 983.8,460.6 988.1,459.4 C992.4,458.2 998.5,458.3 1000.0,457.9 C1001.5,457.5 997.5,424.9 997.0,457.0 C996.5,489.1 1010.3,618.2 997.0,650.5 C983.7,682.8 931.1,651.7 917.1,650.5 C903.1,649.3 915.2,648.3 913.3,643.4 C911.4,638.5 906.4,628.4 905.8,620.9 C905.2,613.4 907.1,604.6 909.6,598.3 C912.1,592.0 916.5,588.3 920.9,583.3 C925.3,578.3 930.9,573.2 935.9,568.2 C940.9,563.2 946.4,557.1 951.0,553.2 C955.6,549.3 960.6,547.5 963.4,545.0 C966.2,542.5 967.1,540.5 968.0,538.0 C968.9,535.5 970.3,532.0 969.0,530.0 C967.7,528.0 964.0,527.2 960.0,526.0 C956.0,524.8 950.0,524.0 945.0,523.0 C940.0,522.0 933.2,520.7 930.0,520.0 C926.8,519.3 925.4,524.6 925.6,519.0 C925.8,513.4 929.4,492.4 931.0,486.4Z" fill="url(#yellowG)"/>
<path d="M932.6,427.0 C936.7,424.9 944.2,423.5 948.0,424.7 C951.9,425.8 955.2,430.6 955.7,433.9 C956.2,437.3 952.6,441.9 951.1,444.7 C949.6,447.6 948.3,448.1 946.5,450.9 C944.7,453.7 942.4,458.6 940.3,461.7 C938.2,464.8 935.4,466.9 934.1,469.4 C932.8,472.0 933.1,474.3 932.6,477.1 C932.1,480.0 931.7,482.8 931.0,486.4 C930.4,490.0 929.4,494.6 928.7,498.8 C928.1,502.9 927.7,507.8 927.2,511.1 C926.7,514.4 927.8,517.0 925.6,518.8 C923.4,520.6 917.5,521.1 914.1,521.9 C910.6,522.7 907.4,521.6 904.8,523.4 C902.2,525.2 901.2,530.6 898.6,532.7 C896.1,534.8 891.4,537.3 889.4,535.8 C887.3,534.2 887.3,527.6 886.3,523.4 C885.3,519.3 885.8,513.9 883.2,511.1 C880.6,508.3 875.2,508.3 870.9,506.5 C866.5,504.7 860.1,502.6 857.0,500.3 C853.9,498.0 852.6,496.2 852.3,492.6 C852.1,489.0 853.6,481.5 855.4,478.7 C857.2,475.9 859.8,476.6 863.1,475.6 C866.5,474.6 871.6,474.1 875.5,472.5 C879.3,471.0 883.2,468.9 886.3,466.3 C889.4,463.8 891.4,459.7 894.0,457.1 C896.6,454.5 898.6,452.7 901.7,450.9 C904.8,449.1 908.9,448.6 912.5,446.3 C916.1,444.0 920.0,440.2 923.3,437.0 C926.7,433.8 928.5,429.1 932.6,427.0Z" fill="url(#bohaiG)"/>
<path d="M931.0,486.4 C931.8,485.9 932.8,484.9 935.7,483.3 C938.5,481.8 943.9,479.2 948.0,477.1 C952.1,475.1 956.0,473.0 960.4,471.0 C964.7,468.9 969.6,466.7 974.2,464.8 C978.9,462.9 983.8,460.6 988.1,459.4 C992.4,458.2 998.5,458.3 1000.0,457.9 C1001.5,457.5 997.5,457.1 997.0,457.0" fill="none" stroke="#b8e0fa" stroke-width="14" opacity="0.85" filter="url(#bb4)" clip-path="url(#yclip)"/>
<path d="M913.3,643.4 C912.0,639.6 906.4,628.4 905.8,620.9 C905.2,613.4 907.1,604.6 909.6,598.3 C912.1,592.0 916.5,588.3 920.9,583.3 C925.3,578.3 930.9,573.2 935.9,568.2 C940.9,563.2 946.4,557.1 951.0,553.2 C955.6,549.3 960.6,547.5 963.4,545.0 C966.2,542.5 967.1,540.5 968.0,538.0 C968.9,535.5 970.3,532.0 969.0,530.0 C967.7,528.0 964.0,527.2 960.0,526.0 C956.0,524.8 950.0,524.0 945.0,523.0 C940.0,522.0 933.2,520.7 930.0,520.0 C926.8,519.3 926.3,519.2 925.6,519.0" fill="none" stroke="#b8e0fa" stroke-width="16" opacity="0.85" filter="url(#bb4)" clip-path="url(#yclip)"/>
<path d="M631.0,386.8 C635.6,387.0 648.5,386.5 658.9,387.8 C669.3,389.1 684.3,393.9 693.6,394.5 C702.9,395.1 711.0,392.4 714.9,391.6 C718.8,390.8 715.2,391.1 716.8,389.7 C718.4,388.3 719.7,383.5 724.5,383.0 C729.3,382.5 739.0,385.8 745.7,386.8 C752.5,387.9 758.6,389.0 765.0,389.3 C771.4,389.6 773.5,389.2 784.3,388.8 C795.1,388.4 814.0,387.3 830.0,386.8 C846.0,386.3 867.5,386.5 880.0,386.0 C892.5,385.5 899.2,385.0 905.0,384.0 C910.8,383.0 910.8,381.7 915.0,380.0 C919.2,378.3 922.5,376.0 930.0,374.0 C937.5,372.0 948.8,369.3 960.0,368.0 C971.2,366.7 990.8,366.3 997.0,366.0" fill="none" stroke="#353535" stroke-width="2" stroke-linejoin="round"/>
<path d="M817.1,387.7 C816.6,389.1 815.8,393.2 814.0,396.2 C812.2,399.2 808.9,402.7 806.3,405.5 C803.7,408.3 801.9,410.4 798.6,413.2 C795.3,416.0 790.4,419.7 786.3,422.5 C782.2,425.3 778.6,427.4 774.0,430.2 C769.4,433.0 763.9,435.9 758.5,439.4 C753.1,442.9 746.3,446.8 741.9,451.4 C737.5,456.0 735.8,462.4 732.2,466.9 C728.7,471.4 724.6,474.5 720.6,478.4 C716.6,482.2 711.1,485.4 708.1,490.0 C705.1,494.6 704.4,498.1 702.9,506.0 C701.4,513.9 700.3,528.6 699.0,537.3 C697.7,546.0 697.1,550.3 695.1,558.1 C693.1,565.9 690.3,577.6 687.3,584.1 C684.3,590.6 681.2,592.9 676.9,597.2 C672.5,601.6 666.0,606.1 661.2,610.2 C656.4,614.3 650.4,620.0 648.2,621.9" fill="none" stroke="#353535" stroke-width="2" stroke-linejoin="round"/>
<path d="M920.0,376.0 C918.3,377.5 913.3,381.6 910.0,385.0 C906.7,388.4 903.6,392.5 900.0,396.2 C896.4,399.9 891.6,403.6 888.1,407.0 C884.6,410.4 883.0,414.0 878.9,416.3 C874.8,418.6 868.5,419.9 863.4,420.9 C858.2,421.9 852.6,421.7 848.0,422.5 C843.4,423.3 839.3,424.0 835.7,425.5 C832.1,427.0 830.3,428.6 826.4,431.7 C822.5,434.8 816.1,439.9 812.5,444.0 C808.9,448.1 807.4,452.3 804.8,456.4 C802.2,460.5 799.7,464.7 797.1,468.8 C794.5,472.9 791.7,477.0 789.4,481.1 C787.1,485.2 784.6,489.2 783.2,493.4 C781.8,497.5 781.8,497.4 781.0,506.0 C780.2,514.6 779.0,532.0 778.4,545.0 C777.8,558.0 777.8,570.6 777.1,584.1 C776.5,597.6 775.1,614.7 774.5,625.8 C773.9,636.9 773.8,646.4 773.7,650.5" fill="none" stroke="#353535" stroke-width="2" stroke-linejoin="round"/>
<path d="M631.0,620.6 C633.9,620.8 639.7,621.5 648.2,621.9 C656.7,622.3 672.1,622.1 682.1,623.2 C692.1,624.3 700.3,626.2 708.1,628.4 C715.9,630.6 723.7,632.5 728.9,636.2 C734.1,639.9 737.6,648.1 739.3,650.5" fill="none" stroke="#353535" stroke-width="2" stroke-linejoin="round"/>
<path d="M900.0,560.7 C897.5,562.4 888.9,565.0 885.1,571.1 C881.3,577.2 879.9,588.5 877.3,597.2 C874.7,605.9 871.5,614.3 869.5,623.2 C867.5,632.1 866.2,646.0 865.6,650.5" fill="none" stroke="#353535" stroke-width="2" stroke-linejoin="round"/>
<path d="M900.0,560.7 C902.5,558.6 909.2,552.3 915.0,548.0 C920.8,543.7 931.7,537.2 935.0,535.0" fill="none" stroke="#353535" stroke-width="2" stroke-linejoin="round"/>
<path d="M903.9,376.6 L909.2,385.7 L898.7,385.7Z" fill="#d40d0d"/>
<path d="M920.9,391.6 L926.1,400.7 L915.6,400.7Z" fill="#d40d0d"/>
<path d="M941.5,384.1 L946.8,393.2 L936.3,393.2Z" fill="#d40d0d"/>
<path d="M945.3,396.5 L950.6,405.6 L940.1,405.6Z" fill="#d40d0d"/>
<path d="M686.9,393.5 L692.2,402.6 L681.7,402.6Z" fill="#d40d0d"/>
<path d="M715.9,400.3 L721.2,409.4 L710.7,409.4Z" fill="#d40d0d"/>
<path d="M721.5,416.8 L726.8,425.9 L716.3,425.9Z" fill="#d40d0d"/>
<path d="M712.1,419.1 L717.4,428.2 L706.9,428.2Z" fill="#d40d0d"/>
<path d="M700.9,423.6 L706.1,432.7 L695.6,432.7Z" fill="#d40d0d"/>
<path d="M676.4,423.6 L681.7,432.7 L671.2,432.7Z" fill="#d40d0d"/>
<path d="M678.3,427.4 L683.5,436.5 L673.0,436.5Z" fill="#d40d0d"/>
<path d="M733.6,429.2 L738.8,438.3 L728.3,438.3Z" fill="#d40d0d"/>
<path d="M718.9,434.1 L724.2,443.2 L713.7,443.2Z" fill="#d40d0d"/>
<path d="M675.7,450.7 L680.9,459.8 L670.4,459.8Z" fill="#d40d0d"/>
<path d="M710.3,449.2 L715.5,458.3 L705.0,458.3Z" fill="#d40d0d"/>
<path d="M730.9,444.3 L736.2,453.4 L725.7,453.4Z" fill="#d40d0d"/>
<path d="M689.6,478.1 L694.8,487.2 L684.3,487.2Z" fill="#d40d0d"/>
<path d="M699.7,476.3 L705.0,485.4 L694.5,485.4Z" fill="#d40d0d"/>
<path d="M665.1,490.6 L670.4,499.6 L659.9,499.6Z" fill="#d40d0d"/>
<path d="M729.1,483.8 L734.3,492.9 L723.8,492.9Z" fill="#d40d0d"/>
<path d="M710.3,461.2 L715.5,470.3 L705.0,470.3Z" fill="#d40d0d"/>
<path d="M680.2,519.5 L685.4,528.6 L674.9,528.6Z" fill="#d40d0d"/>
<path d="M704.6,517.6 L709.9,526.7 L699.4,526.7Z" fill="#d40d0d"/>
<path d="M730.9,512.0 L736.2,521.1 L725.7,521.1Z" fill="#d40d0d"/>
<path d="M762.2,516.9 L767.4,526.0 L756.9,526.0Z" fill="#d40d0d"/>
<path d="M660.6,536.4 L665.9,545.5 L655.4,545.5Z" fill="#d40d0d"/>
<path d="M698.2,542.1 L703.5,551.2 L693.0,551.2Z" fill="#d40d0d"/>
<path d="M719.7,544.0 L724.9,553.0 L714.4,553.0Z" fill="#d40d0d"/>
<path d="M747.9,532.7 L753.1,541.8 L742.6,541.8Z" fill="#d40d0d"/>
<path d="M770.4,528.9 L775.7,538.0 L765.2,538.0Z" fill="#d40d0d"/>
<path d="M707.6,559.0 L712.9,568.1 L702.4,568.1Z" fill="#d40d0d"/>
<path d="M729.1,557.1 L734.3,566.2 L723.8,566.2Z" fill="#d40d0d"/>
<path d="M749.7,555.2 L755.0,564.3 L744.5,564.3Z" fill="#d40d0d"/>
<path d="M768.6,564.6 L773.8,573.7 L763.3,573.7Z" fill="#d40d0d"/>
<path d="M780.6,571.0 L785.8,580.1 L775.3,580.1Z" fill="#d40d0d"/>
<path d="M656.5,577.8 L661.7,586.9 L651.2,586.9Z" fill="#d40d0d"/>
<path d="M662.1,587.2 L667.4,596.3 L656.9,596.3Z" fill="#d40d0d"/>
<path d="M656.5,591.0 L661.7,600.1 L651.2,600.1Z" fill="#d40d0d"/>
<path d="M678.3,577.8 L683.5,586.9 L673.0,586.9Z" fill="#d40d0d"/>
<path d="M710.3,573.3 L715.5,582.4 L705.0,582.4Z" fill="#d40d0d"/>
<path d="M732.1,577.8 L737.3,586.9 L726.8,586.9Z" fill="#d40d0d"/>
<path d="M751.6,570.3 L756.9,579.4 L746.4,579.4Z" fill="#d40d0d"/>
<path d="M704.6,585.3 L709.9,594.4 L699.4,594.4Z" fill="#d40d0d"/>
<path d="M691.5,594.7 L696.7,603.8 L686.2,603.8Z" fill="#d40d0d"/>
<path d="M706.5,594.7 L711.7,603.8 L701.2,603.8Z" fill="#d40d0d"/>
<path d="M732.8,585.3 L738.1,594.4 L727.6,594.4Z" fill="#d40d0d"/>
<path d="M750.9,581.6 L756.1,590.7 L745.6,590.7Z" fill="#d40d0d"/>
<path d="M658.4,606.0 L663.6,615.1 L653.1,615.1Z" fill="#d40d0d"/>
<path d="M670.0,606.0 L675.3,615.1 L664.8,615.1Z" fill="#d40d0d"/>
<path d="M680.2,602.2 L685.4,611.3 L674.9,611.3Z" fill="#d40d0d"/>
<path d="M700.1,615.4 L705.4,624.5 L694.9,624.5Z" fill="#d40d0d"/>
<path d="M732.1,602.2 L737.3,611.3 L726.8,611.3Z" fill="#d40d0d"/>
<path d="M750.9,600.4 L756.1,609.5 L745.6,609.5Z" fill="#d40d0d"/>
<path d="M662.5,613.5 L667.7,622.6 L657.2,622.6Z" fill="#d40d0d"/>
<path d="M900.2,419.8 L905.4,428.9 L894.9,428.9Z" fill="#d40d0d"/>
<path d="M911.5,434.1 L916.7,443.2 L906.2,443.2Z" fill="#d40d0d"/>
<path d="M922.7,412.3 L928.0,421.4 L917.5,421.4Z" fill="#d40d0d"/>
<path d="M932.1,413.1 L937.4,422.2 L926.9,422.2Z" fill="#d40d0d"/>
<path d="M927.6,423.6 L932.9,432.7 L922.4,432.7Z" fill="#d40d0d"/>
<path d="M934.0,458.2 L939.3,467.3 L928.8,467.3Z" fill="#d40d0d"/>
<path d="M951.0,456.7 L956.2,465.8 L945.7,465.8Z" fill="#d40d0d"/>
<path d="M942.7,477.0 L947.9,486.1 L937.4,486.1Z" fill="#d40d0d"/>
<path d="M926.5,492.1 L931.8,501.1 L921.3,501.1Z" fill="#d40d0d"/>
<path d="M922.7,507.1 L928.0,516.2 L917.5,516.2Z" fill="#d40d0d"/>
<path d="M917.1,516.5 L922.4,525.6 L911.9,525.6Z" fill="#d40d0d"/>
<path d="M937.8,518.8 L943.0,527.8 L932.5,527.8Z" fill="#d40d0d"/>
<path d="M921.6,532.7 L926.9,541.8 L916.4,541.8Z" fill="#d40d0d"/>
<path d="M929.1,527.0 L934.4,536.1 L923.9,536.1Z" fill="#d40d0d"/>
<path d="M949.1,527.8 L954.3,536.9 L943.8,536.9Z" fill="#d40d0d"/>
<path d="M941.5,534.6 L946.8,543.6 L936.3,543.6Z" fill="#d40d0d"/>
<path d="M935.9,538.3 L941.2,547.4 L930.7,547.4Z" fill="#d40d0d"/>
<path d="M772.3,517.6 L777.6,526.7 L767.1,526.7Z" fill="#d40d0d"/>
<path d="M778.0,510.1 L783.2,519.2 L772.7,519.2Z" fill="#d40d0d"/>
<path d="M784.3,520.6 L789.6,529.7 L779.1,529.7Z" fill="#d40d0d"/>
<path d="M774.2,528.9 L779.4,538.0 L768.9,538.0Z" fill="#d40d0d"/>
<path d="M770.4,540.2 L775.7,549.3 L765.2,549.3Z" fill="#d40d0d"/>
<path d="M778.0,540.2 L783.2,549.3 L772.7,549.3Z" fill="#d40d0d"/>
<path d="M815.6,565.8 L820.8,574.9 L810.3,574.9Z" fill="#d40d0d"/>
<path d="M837.4,555.2 L842.6,564.3 L832.1,564.3Z" fill="#d40d0d"/>
<path d="M840.0,572.2 L845.3,581.3 L834.8,581.3Z" fill="#d40d0d"/>
<path d="M836.2,577.8 L841.5,586.9 L831.0,586.9Z" fill="#d40d0d"/>
<path d="M853.2,562.8 L858.4,571.9 L847.9,571.9Z" fill="#d40d0d"/>
<path d="M868.2,549.6 L873.5,558.7 L863.0,558.7Z" fill="#d40d0d"/>
<path d="M887.8,550.7 L893.0,559.8 L882.5,559.8Z" fill="#d40d0d"/>
<path d="M858.8,574.0 L864.1,583.1 L853.6,583.1Z" fill="#d40d0d"/>
<path d="M879.5,574.0 L884.7,583.1 L874.2,583.1Z" fill="#d40d0d"/>
<path d="M887.0,568.8 L892.3,577.9 L881.8,577.9Z" fill="#d40d0d"/>
<path d="M826.1,577.8 L831.3,586.9 L820.8,586.9Z" fill="#d40d0d"/>
<path d="M834.4,594.7 L839.6,603.8 L829.1,603.8Z" fill="#d40d0d"/>
<path d="M860.7,594.7 L865.9,603.8 L855.4,603.8Z" fill="#d40d0d"/>
<path d="M877.6,591.0 L882.9,600.1 L872.4,600.1Z" fill="#d40d0d"/>
<path d="M883.3,585.3 L888.5,594.4 L878.0,594.4Z" fill="#d40d0d"/>
<path d="M900.2,591.0 L905.4,600.1 L894.9,600.1Z" fill="#d40d0d"/>
<path d="M858.1,603.0 L863.3,612.1 L852.8,612.1Z" fill="#d40d0d"/>
<path d="M868.2,606.0 L873.5,615.1 L863.0,615.1Z" fill="#d40d0d"/>
<path d="M879.5,603.0 L884.7,612.1 L874.2,612.1Z" fill="#d40d0d"/>
<path d="M887.8,599.2 L893.0,608.3 L882.5,608.3Z" fill="#d40d0d"/>
<path d="M896.4,603.0 L901.7,612.1 L891.2,612.1Z" fill="#d40d0d"/>
<path d="M840.0,610.5 L845.3,619.6 L834.8,619.6Z" fill="#d40d0d"/>
<path d="M866.3,615.4 L871.6,624.5 L861.1,624.5Z" fill="#d40d0d"/>
<path d="M888.1,607.9 L893.4,617.0 L882.9,617.0Z" fill="#d40d0d"/>
<path d="M804.3,503.3 L809.5,512.4 L799.0,512.4Z" fill="#d40d0d"/>
<path d="M774.2,495.1 L779.4,504.2 L768.9,504.2Z" fill="#d40d0d"/>
<path d="M776.1,502.6 L781.3,511.7 L770.8,511.7Z" fill="#d40d0d"/>
<path d="M751.6,498.8 L756.9,507.9 L746.4,507.9Z" fill="#d40d0d"/>
<path d="M740.3,510.1 L745.6,519.2 L735.1,519.2Z" fill="#d40d0d"/>
<path d="M781.7,389.2 L786.9,398.3 L776.4,398.3Z" fill="#d40d0d"/>
<path d="M797.9,387.7 L803.1,396.8 L792.6,396.8Z" fill="#d40d0d"/>
<path d="M778.6,403.1 L783.8,412.2 L773.3,412.2Z" fill="#d40d0d"/>
<path d="M748.5,415.5 L753.7,424.6 L743.2,424.6Z" fill="#d40d0d"/>
<path d="M854.2,387.7 L859.4,396.8 L848.9,396.8Z" fill="#d40d0d"/>
<path d="M879.6,393.9 L884.9,403.0 L874.4,403.0Z" fill="#d40d0d"/>
<path d="M853.4,405.4 L858.7,414.5 L848.2,414.5Z" fill="#d40d0d"/>
<path d="M892.0,409.3 L897.2,418.4 L886.7,418.4Z" fill="#d40d0d"/>
<path d="M857.3,415.5 L862.5,424.6 L852.0,424.6Z" fill="#d40d0d"/>
<path d="M809.4,418.5 L814.7,427.6 L804.2,427.6Z" fill="#d40d0d"/>
<path d="M786.3,420.1 L791.5,429.2 L781.0,429.2Z" fill="#d40d0d"/>
<path d="M778.6,421.6 L783.8,430.7 L773.3,430.7Z" fill="#d40d0d"/>
<path d="M803.3,432.4 L808.5,441.5 L798.0,441.5Z" fill="#d40d0d"/>
<path d="M820.2,429.3 L825.5,438.4 L815.0,438.4Z" fill="#d40d0d"/>
<path d="M826.4,432.4 L831.7,441.5 L821.2,441.5Z" fill="#d40d0d"/>
<path d="M832.6,437.1 L837.8,446.2 L827.3,446.2Z" fill="#d40d0d"/>
<path d="M838.8,435.5 L844.0,444.6 L833.5,444.6Z" fill="#d40d0d"/>
<path d="M844.9,437.1 L850.2,446.2 L839.7,446.2Z" fill="#d40d0d"/>
<path d="M851.1,438.6 L856.3,447.7 L845.8,447.7Z" fill="#d40d0d"/>
<path d="M841.8,441.7 L847.1,450.8 L836.6,450.8Z" fill="#d40d0d"/>
<path d="M848.0,444.8 L853.3,453.9 L842.8,453.9Z" fill="#d40d0d"/>
<path d="M814.1,437.1 L819.3,446.2 L808.8,446.2Z" fill="#d40d0d"/>
<path d="M817.1,443.2 L822.4,452.3 L811.9,452.3Z" fill="#d40d0d"/>
<path d="M823.3,447.9 L828.6,457.0 L818.1,457.0Z" fill="#d40d0d"/>
<path d="M814.1,451.0 L819.3,460.0 L808.8,460.0Z" fill="#d40d0d"/>
<path d="M826.4,457.1 L831.7,466.2 L821.2,466.2Z" fill="#d40d0d"/>
<path d="M841.8,447.9 L847.1,457.0 L836.6,457.0Z" fill="#d40d0d"/>
<path d="M848.0,455.6 L853.3,464.7 L842.8,464.7Z" fill="#d40d0d"/>
<path d="M841.8,466.4 L847.1,475.5 L836.6,475.5Z" fill="#d40d0d"/>
<path d="M858.8,467.9 L864.1,477.0 L853.6,477.0Z" fill="#d40d0d"/>
<path d="M869.6,427.8 L874.9,436.9 L864.4,436.9Z" fill="#d40d0d"/>
<path d="M880.4,432.4 L885.7,441.5 L875.2,441.5Z" fill="#d40d0d"/>
<path d="M883.5,441.7 L888.7,450.8 L878.2,450.8Z" fill="#d40d0d"/>
<path d="M892.8,451.0 L898.0,460.0 L887.5,460.0Z" fill="#d40d0d"/>
<path d="M866.5,441.7 L871.8,450.8 L861.3,450.8Z" fill="#d40d0d"/>
<path d="M798.6,463.3 L803.9,472.4 L793.4,472.4Z" fill="#d40d0d"/>
<path d="M789.4,460.2 L794.6,469.3 L784.1,469.3Z" fill="#d40d0d"/>
<path d="M744.6,438.6 L749.9,447.7 L739.4,447.7Z" fill="#d40d0d"/>
<path d="M753.9,437.1 L759.1,446.2 L748.6,446.2Z" fill="#d40d0d"/>
<path d="M743.1,466.4 L748.3,475.5 L737.8,475.5Z" fill="#d40d0d"/>
<path d="M746.2,472.6 L751.4,481.6 L740.9,481.6Z" fill="#d40d0d"/>
<path d="M775.5,486.4 L780.7,495.5 L770.2,495.5Z" fill="#d40d0d"/>
<path d="M744.6,491.1 L749.9,500.2 L739.4,500.2Z" fill="#d40d0d"/>
<path d="M846.5,488.0 L851.7,497.1 L841.2,497.1Z" fill="#d40d0d"/>
<path d="M772.4,420.1 L777.7,429.2 L767.2,429.2Z" fill="#d40d0d"/>
<path d="M777.0,426.3 L782.3,435.4 L771.8,435.4Z" fill="#d40d0d"/>
<path d="M808.0,493.2 L813.3,502.3 L802.8,502.3Z" fill="#1212cc"/>
<path d="M819.3,495.1 L824.6,504.2 L814.1,504.2Z" fill="#1212cc"/>
<path d="M811.8,502.6 L817.1,511.7 L806.6,511.7Z" fill="#1212cc"/>
<path d="M819.3,508.2 L824.6,517.3 L814.1,517.3Z" fill="#1212cc"/>
<path d="M804.3,498.8 L809.5,507.9 L799.0,507.9Z" fill="#1212cc"/>
<path d="M851.3,502.6 L856.5,511.7 L846.0,511.7Z" fill="#1212cc"/>
<path d="M778.0,513.9 L783.2,523.0 L772.7,523.0Z" fill="#1212cc"/>
<path d="M793.2,388.5 L798.5,397.6 L788.0,397.6Z" fill="#1212cc"/>
<path d="M804.0,393.1 L809.3,402.2 L798.8,402.2Z" fill="#1212cc"/>
<path d="M811.0,395.4 L816.2,404.5 L805.7,404.5Z" fill="#1212cc"/>
<path d="M786.3,396.2 L791.5,405.3 L781.0,405.3Z" fill="#1212cc"/>
<path d="M814.8,399.3 L820.1,408.4 L809.6,408.4Z" fill="#1212cc"/>
<path d="M797.9,400.8 L803.1,409.9 L792.6,409.9Z" fill="#1212cc"/>
<path d="M783.2,403.9 L788.5,413.0 L778.0,413.0Z" fill="#1212cc"/>
<path d="M807.9,403.9 L813.1,413.0 L802.6,413.0Z" fill="#1212cc"/>
<path d="M794.0,408.5 L799.3,417.6 L788.8,417.6Z" fill="#1212cc"/>
<path d="M815.6,410.8 L820.9,419.9 L810.4,419.9Z" fill="#1212cc"/>
<path d="M829.5,408.5 L834.7,417.6 L824.2,417.6Z" fill="#1212cc"/>
<path d="M801.7,413.9 L807.0,423.0 L796.5,423.0Z" fill="#1212cc"/>
<path d="M772.4,417.0 L777.7,426.1 L767.2,426.1Z" fill="#1212cc"/>
<path d="M798.6,418.5 L803.9,427.6 L793.4,427.6Z" fill="#1212cc"/>
<path d="M829.5,417.0 L834.7,426.1 L824.2,426.1Z" fill="#1212cc"/>
<path d="M843.4,418.5 L848.6,427.6 L838.1,427.6Z" fill="#1212cc"/>
<path d="M815.6,421.6 L820.9,430.7 L810.4,430.7Z" fill="#1212cc"/>
<path d="M852.6,423.2 L857.9,432.3 L847.4,432.3Z" fill="#1212cc"/>
<path d="M767.0,427.8 L772.3,436.9 L761.8,436.9Z" fill="#1212cc"/>
<path d="M780.1,427.8 L785.4,436.9 L774.9,436.9Z" fill="#1212cc"/>
<path d="M792.5,426.3 L797.7,435.4 L787.2,435.4Z" fill="#1212cc"/>
<path d="M824.9,424.7 L830.1,433.8 L819.6,433.8Z" fill="#1212cc"/>
<path d="M835.7,427.8 L840.9,436.9 L830.4,436.9Z" fill="#1212cc"/>
<path d="M860.4,427.8 L865.6,436.9 L855.1,436.9Z" fill="#1212cc"/>
<path d="M760.1,437.1 L765.3,446.2 L754.8,446.2Z" fill="#1212cc"/>
<path d="M770.9,435.5 L776.1,444.6 L765.6,444.6Z" fill="#1212cc"/>
<path d="M783.2,437.1 L788.5,446.2 L778.0,446.2Z" fill="#1212cc"/>
<path d="M795.5,434.0 L800.8,443.1 L790.3,443.1Z" fill="#1212cc"/>
<path d="M806.3,435.5 L811.6,444.6 L801.1,444.6Z" fill="#1212cc"/>
<path d="M852.6,434.0 L857.9,443.1 L847.4,443.1Z" fill="#1212cc"/>
<path d="M858.8,437.1 L864.1,446.2 L853.6,446.2Z" fill="#1212cc"/>
<path d="M869.6,434.0 L874.9,443.1 L864.4,443.1Z" fill="#1212cc"/>
<path d="M749.3,446.3 L754.5,455.4 L744.0,455.4Z" fill="#1212cc"/>
<path d="M758.5,449.4 L763.8,458.5 L753.3,458.5Z" fill="#1212cc"/>
<path d="M770.9,441.7 L776.1,450.8 L765.6,450.8Z" fill="#1212cc"/>
<path d="M786.3,443.2 L791.5,452.3 L781.0,452.3Z" fill="#1212cc"/>
<path d="M801.7,441.7 L807.0,450.8 L796.5,450.8Z" fill="#1212cc"/>
<path d="M812.5,447.9 L817.8,457.0 L807.3,457.0Z" fill="#1212cc"/>
<path d="M824.9,444.8 L830.1,453.9 L819.6,453.9Z" fill="#1212cc"/>
<path d="M837.2,451.0 L842.5,460.0 L832.0,460.0Z" fill="#1212cc"/>
<path d="M860.4,444.8 L865.6,453.9 L855.1,453.9Z" fill="#1212cc"/>
<path d="M872.7,446.3 L877.9,455.4 L867.4,455.4Z" fill="#1212cc"/>
<path d="M878.9,451.0 L884.1,460.0 L873.6,460.0Z" fill="#1212cc"/>
<path d="M885.0,449.4 L890.3,458.5 L879.8,458.5Z" fill="#1212cc"/>
<path d="M741.5,454.0 L746.8,463.1 L736.3,463.1Z" fill="#1212cc"/>
<path d="M752.3,458.7 L757.6,467.8 L747.1,467.8Z" fill="#1212cc"/>
<path d="M764.7,460.2 L769.9,469.3 L759.4,469.3Z" fill="#1212cc"/>
<path d="M777.0,461.8 L782.3,470.8 L771.8,470.8Z" fill="#1212cc"/>
<path d="M794.0,458.7 L799.3,467.8 L788.8,467.8Z" fill="#1212cc"/>
<path d="M804.8,458.7 L810.1,467.8 L799.6,467.8Z" fill="#1212cc"/>
<path d="M812.5,460.2 L817.8,469.3 L807.3,469.3Z" fill="#1212cc"/>
<path d="M823.3,460.2 L828.6,469.3 L818.1,469.3Z" fill="#1212cc"/>
<path d="M834.1,455.6 L839.4,464.7 L828.9,464.7Z" fill="#1212cc"/>
<path d="M848.0,460.2 L853.3,469.3 L842.8,469.3Z" fill="#1212cc"/>
<path d="M863.4,454.0 L868.7,463.1 L858.2,463.1Z" fill="#1212cc"/>
<path d="M872.7,458.7 L877.9,467.8 L867.4,467.8Z" fill="#1212cc"/>
<path d="M883.5,458.7 L888.7,467.8 L878.2,467.8Z" fill="#1212cc"/>
<path d="M750.8,464.8 L756.1,473.9 L745.6,473.9Z" fill="#1212cc"/>
<path d="M764.7,464.8 L769.9,473.9 L759.4,473.9Z" fill="#1212cc"/>
<path d="M778.6,471.0 L783.8,480.1 L773.3,480.1Z" fill="#1212cc"/>
<path d="M801.7,469.5 L807.0,478.6 L796.5,478.6Z" fill="#1212cc"/>
<path d="M815.6,471.0 L820.9,480.1 L810.4,480.1Z" fill="#1212cc"/>
<path d="M832.6,464.8 L837.8,473.9 L827.3,473.9Z" fill="#1212cc"/>
<path d="M855.7,464.8 L861.0,473.9 L850.5,473.9Z" fill="#1212cc"/>
<path d="M758.5,475.6 L763.8,484.7 L753.3,484.7Z" fill="#1212cc"/>
<path d="M769.3,474.1 L774.6,483.2 L764.1,483.2Z" fill="#1212cc"/>
<path d="M786.3,475.6 L791.5,484.7 L781.0,484.7Z" fill="#1212cc"/>
<path d="M807.9,478.7 L813.1,487.8 L802.6,487.8Z" fill="#1212cc"/>
<path d="M823.3,475.6 L828.6,484.7 L818.1,484.7Z" fill="#1212cc"/>
<path d="M835.7,472.6 L840.9,481.6 L830.4,481.6Z" fill="#1212cc"/>
<path d="M844.9,477.2 L850.2,486.3 L839.7,486.3Z" fill="#1212cc"/>
<path d="M780.1,481.8 L785.4,490.9 L774.9,490.9Z" fill="#1212cc"/>
<path d="M798.6,483.4 L803.9,492.4 L793.4,492.4Z" fill="#1212cc"/>
<path d="M817.1,481.8 L822.4,490.9 L811.9,490.9Z" fill="#1212cc"/>
<path d="M827.9,484.9 L833.2,494.0 L822.7,494.0Z" fill="#1212cc"/>
<path d="M838.8,483.4 L844.0,492.4 L833.5,492.4Z" fill="#1212cc"/>
<path d="M786.3,488.0 L791.5,497.1 L781.0,497.1Z" fill="#1212cc"/>
<path d="M795.5,489.5 L800.8,498.6 L790.3,498.6Z" fill="#1212cc"/>
<path d="M806.3,488.0 L811.6,497.1 L801.1,497.1Z" fill="#1212cc"/>
<path d="M820.2,488.0 L825.5,497.1 L815.0,497.1Z" fill="#1212cc"/>
<path d="M832.6,489.5 L837.8,498.6 L827.3,498.6Z" fill="#1212cc"/>
<text x="783.8" y="386" font-size="16.8" font-weight="bold">Yanshan Uplift</text>
<text x="854.5" y="496.5" font-size="15.2" font-weight="bold">Bohai Bay</text>
<text x="789" y="538" font-size="16.8" font-weight="bold">North China</text>
<text x="789" y="557" font-size="16.8" font-weight="bold">Basin</text>
<text x="713.5" y="545.8" font-size="16.3" font-weight="bold">TNCO</text>
<text transform="translate(652.6,562) rotate(-90)" font-size="17.3" font-weight="bold">Erdos Block</text>
<text x="956" y="359" font-size="23" font-weight="bold">(b)</text>
<rect x="658" y="335.7" width="203.4" height="9.3" fill="url(#cbarB)" stroke="#111" stroke-width="1.6"/>
<path d="M658,335.7 L652.2,340.3 L658,345Z" fill="#111"/>
<path d="M861.4,335.7 L867.6,340.3 L861.4,345Z" fill="#fff" stroke="#111" stroke-width="1.2"/>
<line x1="658.0" x2="658.0" y1="345" y2="349" stroke="#111" stroke-width="1"/>
<line x1="691.9" x2="691.9" y1="345" y2="349" stroke="#111" stroke-width="1"/>
<line x1="725.8" x2="725.8" y1="345" y2="349" stroke="#111" stroke-width="1"/>
<line x1="759.7" x2="759.7" y1="345" y2="349" stroke="#111" stroke-width="1"/>
<line x1="793.6" x2="793.6" y1="345" y2="349" stroke="#111" stroke-width="1"/>
<line x1="827.5" x2="827.5" y1="345" y2="349" stroke="#111" stroke-width="1"/>
<line x1="861.4" x2="861.4" y1="345" y2="349" stroke="#111" stroke-width="1"/>
<text x="658" y="368.5" text-anchor="middle" font-size="16">−2000</text>
<text x="725.8" y="368.5" text-anchor="middle" font-size="16">0</text>
<text x="793.6" y="368.5" text-anchor="middle" font-size="16">2000</text>
<text x="861.4" y="368.5" text-anchor="middle" font-size="16">4000</text>
</g>
<rect x="628.2" y="326.5" width="370.79999999999995" height="326.0" fill="none" stroke="#fff" stroke-width="4"/>
<rect x="626.2" y="324.5" width="374.79999999999995" height="330.0" fill="none" stroke="#888" stroke-width="0.5"/>
<rect x="630.2" y="328.5" width="366.79999999999995" height="322.0" fill="none" stroke="#888" stroke-width="0.5"/>
<rect x="630.2" y="324.5" width="45.9" height="4" fill="#000"/>
<rect x="630.2" y="650.5" width="45.9" height="4" fill="#000"/>
<rect x="721.9" y="324.5" width="45.9" height="4" fill="#000"/>
<rect x="721.9" y="650.5" width="45.9" height="4" fill="#000"/>
<rect x="813.6" y="324.5" width="45.9" height="4" fill="#000"/>
<rect x="813.6" y="650.5" width="45.9" height="4" fill="#000"/>
<rect x="905.3" y="324.5" width="45.9" height="4" fill="#000"/>
<rect x="905.3" y="650.5" width="45.9" height="4" fill="#000"/>
<rect x="626.2" y="391.5" width="4" height="59.6" fill="#000"/>
<rect x="997.0" y="391.5" width="4" height="59.6" fill="#000"/>
<rect x="626.2" y="509.0" width="4" height="56.3" fill="#000"/>
<rect x="997.0" y="509.0" width="4" height="56.3" fill="#000"/>
<rect x="626.2" y="620.2" width="4" height="34.3" fill="#000"/>
<rect x="997.0" y="620.2" width="4" height="34.3" fill="#000"/>
<text x="630.2" y="677.5" text-anchor="middle" font-size="16.2">108°</text>
<text x="676.1" y="677.5" text-anchor="middle" font-size="16.2">110°</text>
<text x="721.9" y="677.5" text-anchor="middle" font-size="16.2">112°</text>
<text x="767.8" y="677.5" text-anchor="middle" font-size="16.2">114°</text>
<text x="813.6" y="677.5" text-anchor="middle" font-size="16.2">116°</text>
<text x="859.5" y="677.5" text-anchor="middle" font-size="16.2">118°</text>
<text x="905.3" y="677.5" text-anchor="middle" font-size="16.2">120°</text>
<text x="951.1" y="677.5" text-anchor="middle" font-size="16.2">122°</text>
<text x="997.0" y="677.5" text-anchor="middle" font-size="16.2">124°</text>
<text x="1010.8" y="334.0" font-size="16.2">44°</text>
<text x="1010.8" y="399.8" font-size="16.2">42°</text>
<text x="1010.8" y="459.4" font-size="16.2">40°</text>
<text x="1010.8" y="517.3" font-size="16.2">38°</text>
<text x="1010.8" y="573.6" font-size="16.2">36°</text>
<text x="1010.8" y="628.5" font-size="16.2">34°</text>
<circle cx="64.6" cy="624.5" r="4" fill="#c8101a"/>
<text x="83.7" y="630" font-size="15">Earthquake (6~6.9)</text>
<path d="M245.4,618.9 L246.9,622.5 L250.7,622.8 L247.8,625.3 L248.7,629.0 L245.4,627.0 L242.1,629.0 L243.0,625.3 L240.1,622.8 L243.9,622.5Z" fill="#c8101a"/>
<text x="264.9" y="630" font-size="15">Earthquake (7~7.9)</text>
<path d="M425.7,617.0 L427.6,621.5 L432.4,621.8 L428.7,625.0 L429.8,629.7 L425.7,627.1 L421.6,629.7 L422.7,625.0 L419.0,621.8 L423.8,621.5Z" fill="#f8f040" stroke="#555" stroke-width="0.7"/>
<text x="445.4" y="630" font-size="15">Earthquake (≥8)</text>
<path d="M50,647.5 H77.6" stroke="#000" stroke-width="3.2"/>
<path d="M59.5,647.5 L65.2,639 L71,647.5Z" fill="#000"/>
<text x="83.7" y="654" font-size="15">Suduction zone</text>
<path d="M245.4,641.4 L251.4,651.8 L239.4,651.8Z" fill="#c8101a"/>
<text x="264.9" y="654" font-size="15">Permanent station</text>
<path d="M425.7,641.4 L431.7,651.8 L419.7,651.8Z" fill="#1414c8"/>
<text x="445.4" y="654" font-size="15">Temporary station</text>
<rect x="67.0" y="730.5" width="254.1" height="240.29999999999995" fill="#e6fcfc"/>
<rect x="321.1" y="730.5" width="187.0" height="240.29999999999995" fill="#6aabab"/>
<rect x="508.1" y="730.5" width="53.4" height="240.29999999999995" fill="#e352e3"/>
<rect x="561.5" y="730.5" width="293.7" height="240.29999999999995" fill="#e6fcfc"/>
<line x1="67.0" x2="855.2" y1="762.5" y2="762.5" stroke="#000" stroke-opacity="0.16" stroke-width="1"/>
<line x1="67.0" x2="855.2" y1="794.6" y2="794.6" stroke="#000" stroke-opacity="0.16" stroke-width="1"/>
<line x1="67.0" x2="855.2" y1="826.6" y2="826.6" stroke="#000" stroke-opacity="0.16" stroke-width="1"/>
<line x1="67.0" x2="855.2" y1="858.7" y2="858.7" stroke="#000" stroke-opacity="0.16" stroke-width="1"/>
<line x1="67.0" x2="855.2" y1="890.7" y2="890.7" stroke="#000" stroke-opacity="0.16" stroke-width="1"/>
<line x1="67.0" x2="855.2" y1="922.7" y2="922.7" stroke="#000" stroke-opacity="0.16" stroke-width="1"/>
<line x1="67.0" x2="855.2" y1="954.8" y2="954.8" stroke="#000" stroke-opacity="0.16" stroke-width="1"/>
<line x1="67.0" x2="855.2" y1="826.7" y2="826.7" stroke="#000" stroke-opacity="0.5" stroke-width="1"/>
<line x1="67.0" x2="855.2" y1="922.9" y2="922.9" stroke="#000" stroke-opacity="0.5" stroke-width="1"/>
<rect x="67.0" y="1029.0" width="254.1" height="241.0" fill="#e6fcfc"/>
<rect x="321.1" y="1029.0" width="187.0" height="241.0" fill="#6aabab"/>
<rect x="508.1" y="1029.0" width="53.4" height="241.0" fill="#e352e3"/>
<rect x="561.5" y="1029.0" width="293.7" height="241.0" fill="#e6fcfc"/>
<line x1="67.0" x2="855.2" y1="1053.2" y2="1053.2" stroke="#000" stroke-opacity="0.16" stroke-width="1"/>
<line x1="67.0" x2="855.2" y1="1077.3" y2="1077.3" stroke="#000" stroke-opacity="0.16" stroke-width="1"/>
<line x1="67.0" x2="855.2" y1="1101.4" y2="1101.4" stroke="#000" stroke-opacity="0.16" stroke-width="1"/>
<line x1="67.0" x2="855.2" y1="1125.5" y2="1125.5" stroke="#000" stroke-opacity="0.16" stroke-width="1"/>
<line x1="67.0" x2="855.2" y1="1149.6" y2="1149.6" stroke="#000" stroke-opacity="0.16" stroke-width="1"/>
<line x1="67.0" x2="855.2" y1="1173.7" y2="1173.7" stroke="#000" stroke-opacity="0.16" stroke-width="1"/>
<line x1="67.0" x2="855.2" y1="1197.8" y2="1197.8" stroke="#000" stroke-opacity="0.16" stroke-width="1"/>
<line x1="67.0" x2="855.2" y1="1221.9" y2="1221.9" stroke="#000" stroke-opacity="0.16" stroke-width="1"/>
<line x1="67.0" x2="855.2" y1="1246.0" y2="1246.0" stroke="#000" stroke-opacity="0.16" stroke-width="1"/>
<line x1="67.0" x2="855.2" y1="1125.2" y2="1125.2" stroke="#000" stroke-opacity="0.5" stroke-width="1"/>
<line x1="67.0" x2="855.2" y1="1221.4" y2="1221.4" stroke="#000" stroke-opacity="0.5" stroke-width="1"/>
<text x="182.4" y="756.0" text-anchor="middle" font-size="16.8" font-weight="bold">South China Block</text>
<text x="425.8" y="756.0" text-anchor="middle" font-size="16.8" font-weight="bold">North China Craton</text>
<text x="688" y="756.0" text-anchor="middle" font-size="16.8" font-weight="bold">Central Asian Orogenic Belt</text>
<text x="182.4" y="1054.5" text-anchor="middle" font-size="16.8" font-weight="bold">South China Block</text>
<text x="425.8" y="1054.5" text-anchor="middle" font-size="16.8" font-weight="bold">North China Craton</text>
<text x="688" y="1054.5" text-anchor="middle" font-size="16.8" font-weight="bold">Central Asian Orogenic Belt</text>
<text x="826" y="760.5" text-anchor="middle" font-size="21.3" font-weight="bold">(c)</text>
<text x="826" y="1059.0" text-anchor="middle" font-size="21.3" font-weight="bold">(d)</text>
<path d="M96.2,771.7V787.4M89.7,771.7h13.0M89.7,787.4h13.0M103.8,778.0V793.8M97.3,778.0h13.0M97.3,793.8h13.0M120.8,769.9V785.9M114.3,769.9h13.0M114.3,785.9h13.0M140.5,761.8V778.0M134.0,761.8h13.0M134.0,778.0h13.0M139.0,778.0V790.7M132.5,778.0h13.0M132.5,790.7h13.0M159.1,776.3V805.2M152.6,776.3h13.0M152.6,805.2h13.0M163.4,769.9V786.2M156.9,769.9h13.0M156.9,786.2h13.0M174.0,768.4V784.4M167.5,768.4h13.0M167.5,784.4h13.0M184.9,752.2V784.4M178.4,752.2h13.0M178.4,784.4h13.0M192.0,779.3V795.5M185.5,779.3h13.0M185.5,795.5h13.0M231.8,790.7V813.0M225.3,790.7h13.0M225.3,813.0h13.0M234.4,774.5V790.7M227.9,774.5h13.0M227.9,790.7h13.0M251.1,763.3V785.9M244.6,763.3h13.0M244.6,785.9h13.0M268.1,778.0V809.7M261.6,778.0h13.0M261.6,809.7h13.0M290.2,776.3V792.5M283.7,776.3h13.0M283.7,792.5h13.0M295.8,773.5V791.2M289.3,773.5h13.0M289.3,791.2h13.0M297.3,763.3V773.5M290.8,763.3h13.0M290.8,773.5h13.0M312.5,787.4V800.1M306.0,787.4h13.0M306.0,800.1h13.0M323.9,784.6V797.1M317.4,784.6h13.0M317.4,797.1h13.0M323.5,784.7V797.3M317.0,784.7h13.0M317.0,797.3h13.0M337.4,782.8V800.4M330.9,782.8h13.0M330.9,800.4h13.0M340.8,782.4V791.7M334.3,782.4h13.0M334.3,791.7h13.0M348.9,787.8V806.5M342.4,787.8h13.0M342.4,806.5h13.0M364.0,773.2V786.3M357.5,773.2h13.0M357.5,786.3h13.0M364.0,786.3V800.4M357.5,786.3h13.0M357.5,800.4h13.0M375.5,794.4V803.6M369.0,794.4h13.0M369.0,803.6h13.0M382.7,776.3V801.7M376.2,776.3h13.0M376.2,801.7h13.0M386.0,800.8V809.8M379.5,800.8h13.0M379.5,809.8h13.0M394.8,791.1V803.6M388.3,791.1h13.0M388.3,803.6h13.0M405.8,794.0V811.4M399.3,794.0h13.0M399.3,811.4h13.0M409.1,781.5V794.0M402.6,781.5h13.0M402.6,794.0h13.0M409.1,794.0V803.6M402.6,794.0h13.0M402.6,803.6h13.0M416.4,812.9V822.9M409.9,812.9h13.0M409.9,822.9h13.0M422.6,810.4V819.5M416.1,810.4h13.0M416.1,819.5h13.0M431.5,805.6V815.6M425.0,805.6h13.0M425.0,815.6h13.0M439.2,819.1V834.1M432.7,819.1h13.0M432.7,834.1h13.0M440.5,795.5V805.6M434.0,795.5h13.0M434.0,805.6h13.0M453.1,802.1V818.1M446.6,802.1h13.0M446.6,818.1h13.0M463.1,785.9V798.2M456.6,785.9h13.0M456.6,798.2h13.0M463.1,805.6V822.0M456.6,805.6h13.0M456.6,822.0h13.0M473.3,781.5V800.4M466.8,781.5h13.0M466.8,800.4h13.0M472.4,821.0V837.4M465.9,821.0h13.0M465.9,837.4h13.0M477.2,821.0V840.3M470.7,821.0h13.0M470.7,840.3h13.0M482.0,814.8V826.8M475.5,814.8h13.0M475.5,826.8h13.0M490.7,798.8V805.6M484.2,798.8h13.0M484.2,805.6h13.0M500.3,798.8V818.1M493.8,798.8h13.0M493.8,818.1h13.0M500.3,827.8V837.4M493.8,827.8h13.0M493.8,837.4h13.0M473.3,781.3V800.4M466.8,781.3h13.0M466.8,800.4h13.0M490.7,798.7V805.3M484.2,798.7h13.0M484.2,805.3h13.0M500.6,799.2V817.7M494.1,799.2h13.0M494.1,817.7h13.0M508.9,806.1V822.7M502.4,806.1h13.0M502.4,822.7h13.0M512.2,814.4V827.6M505.7,814.4h13.0M505.7,827.6h13.0M518.0,783.0V802.8M511.5,783.0h13.0M511.5,802.8h13.0M518.0,814.4V824.3M511.5,814.4h13.0M511.5,824.3h13.0M524.6,809.5V819.4M518.1,809.5h13.0M518.1,819.4h13.0M528.7,805.3V815.2M522.2,805.3h13.0M522.2,815.2h13.0M526.2,822.7V832.6M519.7,822.7h13.0M519.7,832.6h13.0M534.5,835.1V845.0M528.0,835.1h13.0M528.0,845.0h13.0M542.8,827.6V837.6M536.3,827.6h13.0M536.3,837.6h13.0M547.7,834.3V844.2M541.2,834.3h13.0M541.2,844.2h13.0M519.6,838.4V848.3M513.1,838.4h13.0M513.1,848.3h13.0M522.9,842.5V852.5M516.4,842.5h13.0M516.4,852.5h13.0M527.1,844.2V854.1M520.6,844.2h13.0M520.6,854.1h13.0M537.8,844.2V854.1M531.3,844.2h13.0M531.3,854.1h13.0M546.1,842.5V852.5M539.6,842.5h13.0M539.6,852.5h13.0M552.7,842.5V852.5M546.2,842.5h13.0M546.2,852.5h13.0M559.3,842.5V852.5M552.8,842.5h13.0M552.8,852.5h13.0M562.6,843.4V851.6M556.1,843.4h13.0M556.1,851.6h13.0M569.2,843.4V851.6M562.7,843.4h13.0M562.7,851.6h13.0M531.2,851.6V861.5M524.7,851.6h13.0M524.7,861.5h13.0M538.6,861.5V870.6M532.1,861.5h13.0M532.1,870.6h13.0M560.1,854.1V863.2M553.6,854.1h13.0M553.6,863.2h13.0M482.4,816.1V826.0M475.9,816.1h13.0M475.9,826.0h13.0M472.5,822.7V839.2M466.0,822.7h13.0M466.0,839.2h13.0M477.4,824.3V834.3M470.9,824.3h13.0M470.9,834.3h13.0M500.6,827.6V837.6M494.1,827.6h13.0M494.1,837.6h13.0M511.3,821.0V831.0M504.8,821.0h13.0M504.8,831.0h13.0M516.3,810.3V820.2M509.8,810.3h13.0M509.8,820.2h13.0M521.3,812.8V822.7M514.8,812.8h13.0M514.8,822.7h13.0M504.7,807.8V817.7M498.2,807.8h13.0M498.2,817.7h13.0M541.1,839.2V847.5M534.6,839.2h13.0M534.6,847.5h13.0M556.0,840.9V850.8M549.5,840.9h13.0M549.5,850.8h13.0M565.9,840.9V850.8M559.4,840.9h13.0M559.4,850.8h13.0M534.5,840.9V850.8M528.0,840.9h13.0M528.0,850.8h13.0M529.5,839.2V849.1M523.0,839.2h13.0M523.0,849.1h13.0M514.7,834.3V844.2M508.2,834.3h13.0M508.2,844.2h13.0M595.8,849.0V861.0M589.3,849.0h13.0M589.3,861.0h13.0M655.4,854.0V866.0M648.9,854.0h13.0M648.9,866.0h13.0M695.8,865.5V873.0M689.3,865.5h13.0M689.3,873.0h13.0M768.8,874.0V884.0M762.3,874.0h13.0M762.3,884.0h13.0M812.4,872.5V879.0M805.9,872.5h13.0M805.9,879.0h13.0M96.2,912.5V925.4M89.7,912.5h13.0M89.7,925.4h13.0M103.8,911.2V923.9M97.3,911.2h13.0M97.3,923.9h13.0M120.8,912.5V925.4M114.3,912.5h13.0M114.3,925.4h13.0M140.5,920.6V933.3M134.0,920.6h13.0M134.0,933.3h13.0M139.0,926.9V939.8M132.5,926.9h13.0M132.5,939.8h13.0M159.1,909.4V931.7M152.6,909.4h13.0M152.6,931.7h13.0M163.4,907.9V920.6M156.9,907.9h13.0M156.9,920.6h13.0M174.0,915.8V931.7M167.5,915.8h13.0M167.5,931.7h13.0M184.9,922.1V951.0M178.4,922.1h13.0M178.4,951.0h13.0M192.0,923.6V939.8M185.5,923.6h13.0M185.5,939.8h13.0M231.8,904.3V926.9M225.3,904.3h13.0M225.3,926.9h13.0M234.4,914.2V930.2M227.9,914.2h13.0M227.9,930.2h13.0M251.1,920.6V939.8M244.6,920.6h13.0M244.6,939.8h13.0M268.1,903.1V931.7M261.6,903.1h13.0M261.6,931.7h13.0M290.2,919.1V934.8M283.7,919.1h13.0M283.7,934.8h13.0M295.8,917.5V933.3M289.3,917.5h13.0M289.3,933.3h13.0M297.3,920.6V933.3M290.8,920.6h13.0M290.8,933.3h13.0M312.5,922.1V934.8M306.0,922.1h13.0M306.0,934.8h13.0M323.9,930.2V939.8M317.4,930.2h13.0M317.4,939.8h13.0M323.5,930.4V940.0M317.0,930.4h13.0M317.0,940.0h13.0M337.4,919.4V931.9M330.9,919.4h13.0M330.9,931.9h13.0M340.8,940.0V949.3M334.3,940.0h13.0M334.3,949.3h13.0M348.5,901.6V917.4M342.0,901.6h13.0M342.0,917.4h13.0M348.5,925.1V931.9M342.0,925.1h13.0M342.0,931.9h13.0M364.0,911.3V923.2M357.5,911.3h13.0M357.5,923.2h13.0M364.4,914.5V927.1M357.9,914.5h13.0M357.9,927.1h13.0M375.5,927.1V936.7M369.0,927.1h13.0M369.0,936.7h13.0M382.7,903.5V928.6M376.2,903.5h13.0M376.2,928.6h13.0M386.0,938.3V947.9M379.5,938.3h13.0M379.5,947.9h13.0M394.8,936.7V949.3M388.3,936.7h13.0M388.3,949.3h13.0M405.8,944.4V954.1M399.3,944.4h13.0M399.3,954.1h13.0M407.8,912.6V946.4M401.3,912.6h13.0M401.3,946.4h13.0M409.1,948.3V957.9M402.6,948.3h13.0M402.6,957.9h13.0M416.4,948.3V957.6M409.9,948.3h13.0M409.9,957.6h13.0M422.2,933.4V942.9M415.7,933.4h13.0M415.7,942.9h13.0M431.9,921.3V930.0M425.4,921.3h13.0M425.4,930.0h13.0M437.3,921.3V930.0M430.8,921.3h13.0M430.8,930.0h13.0M439.6,911.3V927.1M433.1,911.3h13.0M433.1,927.1h13.0M440.5,935.4V944.4M434.0,935.4h13.0M434.0,944.4h13.0M453.1,920.9V936.7M446.6,920.9h13.0M446.6,936.7h13.0M463.7,921.3V933.8M457.2,921.3h13.0M457.2,933.8h13.0M464.6,896.6V911.6M458.1,896.6h13.0M458.1,911.6h13.0M470.4,920.3V930.0M463.9,920.3h13.0M463.9,930.0h13.0M473.3,929.0V946.4M466.8,929.0h13.0M466.8,946.4h13.0M477.2,925.1V936.7M470.7,925.1h13.0M470.7,936.7h13.0M483.0,906.2V915.9M476.5,906.2h13.0M476.5,915.9h13.0M500.3,930.9V940.6M493.8,930.9h13.0M493.8,940.6h13.0M500.3,938.6V948.3M493.8,938.6h13.0M493.8,948.3h13.0M510.5,897.1V910.3M504.0,897.1h13.0M504.0,910.3h13.0M516.3,902.1V912.0M509.8,902.1h13.0M509.8,912.0h13.0M524.6,898.8V908.7M518.1,898.8h13.0M518.1,908.7h13.0M527.9,905.4V915.3M521.4,905.4h13.0M521.4,915.3h13.0M536.1,880.6V892.1M529.6,880.6h13.0M529.6,892.1h13.0M537.8,897.1V907.0M531.3,897.1h13.0M531.3,907.0h13.0M542.8,902.1V912.0M536.3,902.1h13.0M536.3,912.0h13.0M547.7,897.1V907.0M541.2,897.1h13.0M541.2,907.0h13.0M552.7,900.4V910.3M546.2,900.4h13.0M546.2,910.3h13.0M557.6,902.1V912.0M551.1,902.1h13.0M551.1,912.0h13.0M562.6,901.2V909.5M556.1,901.2h13.0M556.1,909.5h13.0M567.6,899.6V907.9M561.1,899.6h13.0M561.1,907.9h13.0M569.2,904.5V912.8M562.7,904.5h13.0M562.7,912.8h13.0M555.2,908.7V923.6M548.7,908.7h13.0M548.7,923.6h13.0M546.1,915.3V925.2M539.6,915.3h13.0M539.6,925.2h13.0M542.8,923.6V933.5M536.3,923.6h13.0M536.3,933.5h13.0M536.1,921.9V932.7M529.6,921.9h13.0M529.6,932.7h13.0M521.3,923.6V935.1M514.8,923.6h13.0M514.8,935.1h13.0M511.3,925.2V936.8M504.8,925.2h13.0M504.8,936.8h13.0M510.5,915.3V925.2M504.0,915.3h13.0M504.0,925.2h13.0M518.0,910.3V920.3M511.5,910.3h13.0M511.5,920.3h13.0M499.8,928.5V940.1M493.3,928.5h13.0M493.3,940.1h13.0M499.8,938.4V946.7M493.3,938.4h13.0M493.3,946.7h13.0M473.3,930.2V946.7M466.8,930.2h13.0M466.8,946.7h13.0M482.4,906.2V916.1M475.9,906.2h13.0M475.9,916.1h13.0M500.6,903.7V913.6M494.1,903.7h13.0M494.1,913.6h13.0M513.0,905.4V915.3M506.5,905.4h13.0M506.5,915.3h13.0M519.6,901.2V909.5M513.1,901.2h13.0M513.1,909.5h13.0M532.8,901.2V909.5M526.3,901.2h13.0M526.3,909.5h13.0M539.5,905.4V915.3M533.0,905.4h13.0M533.0,915.3h13.0M545.2,901.2V909.5M538.7,901.2h13.0M538.7,909.5h13.0M550.2,904.5V912.8M543.7,904.5h13.0M543.7,912.8h13.0M560.1,904.5V912.8M553.6,904.5h13.0M553.6,912.8h13.0M565.1,905.4V913.6M558.6,905.4h13.0M558.6,913.6h13.0M527.9,893.8V903.7M521.4,893.8h13.0M521.4,903.7h13.0M522.9,907.0V916.9M516.4,907.0h13.0M516.4,916.9h13.0M534.5,910.3V920.3M528.0,910.3h13.0M528.0,920.3h13.0M509.7,908.7V918.6M503.2,908.7h13.0M503.2,918.6h13.0M595.8,905.0V916.0M589.3,905.0h13.0M589.3,916.0h13.0M655.4,890.0V901.0M648.9,890.0h13.0M648.9,901.0h13.0M695.8,899.0V906.5M689.3,899.0h13.0M689.3,906.5h13.0M768.8,899.5V909.5M762.3,899.5h13.0M762.3,909.5h13.0M812.4,887.0V893.0M805.9,887.0h13.0M805.9,893.0h13.0" stroke="#222" stroke-width="1.1" fill="none"/>
<circle cx="96.2" cy="779.3" r="3.4" fill="#33ee22"/>
<circle cx="103.8" cy="785.7" r="3.4" fill="#33ee22"/>
<circle cx="120.8" cy="777.5" r="3.4" fill="#33ee22"/>
<circle cx="140.5" cy="769.9" r="3.4" fill="#33ee22"/>
<circle cx="139.0" cy="784.4" r="3.4" fill="#33ee22"/>
<circle cx="159.1" cy="790.7" r="3.4" fill="#33ee22"/>
<circle cx="163.4" cy="778.0" r="3.4" fill="#33ee22"/>
<circle cx="174.0" cy="776.0" r="3.4" fill="#33ee22"/>
<circle cx="184.9" cy="768.4" r="3.4" fill="#33ee22"/>
<circle cx="192.0" cy="787.7" r="3.4" fill="#33ee22"/>
<circle cx="231.8" cy="801.9" r="3.4" fill="#33ee22"/>
<circle cx="234.4" cy="782.6" r="3.4" fill="#33ee22"/>
<circle cx="251.1" cy="774.5" r="3.4" fill="#33ee22"/>
<circle cx="268.1" cy="793.8" r="3.4" fill="#33ee22"/>
<circle cx="290.2" cy="783.9" r="3.4" fill="#33ee22"/>
<circle cx="295.8" cy="782.6" r="3.4" fill="#33ee22"/>
<circle cx="297.3" cy="768.4" r="3.4" fill="#33ee22"/>
<circle cx="312.5" cy="793.8" r="3.4" fill="#33ee22"/>
<circle cx="323.9" cy="790.7" r="3.4" fill="#33ee22"/>
<circle cx="323.5" cy="791.1" r="3.4" fill="#33ee22"/>
<circle cx="337.4" cy="792.5" r="3.4" fill="#33ee22"/>
<circle cx="340.8" cy="787.3" r="3.4" fill="#33ee22"/>
<circle cx="348.9" cy="797.9" r="3.4" fill="#33ee22"/>
<circle cx="364.0" cy="779.5" r="3.4" fill="#33ee22"/>
<circle cx="364.0" cy="794.0" r="3.4" fill="#33ee22"/>
<circle cx="375.5" cy="798.8" r="3.4" fill="#33ee22"/>
<circle cx="382.7" cy="789.2" r="3.4" fill="#33ee22"/>
<circle cx="386.0" cy="805.6" r="3.4" fill="#33ee22"/>
<circle cx="394.8" cy="797.5" r="3.4" fill="#33ee22"/>
<circle cx="405.8" cy="802.1" r="3.4" fill="#33ee22"/>
<circle cx="409.1" cy="788.2" r="3.4" fill="#33ee22"/>
<circle cx="409.1" cy="797.5" r="3.4" fill="#33ee22"/>
<circle cx="416.4" cy="818.1" r="3.4" fill="#33ee22"/>
<circle cx="422.6" cy="815.2" r="3.4" fill="#33ee22"/>
<circle cx="431.5" cy="810.4" r="3.4" fill="#33ee22"/>
<circle cx="439.2" cy="824.9" r="3.4" fill="#33ee22"/>
<circle cx="440.5" cy="800.8" r="3.4" fill="#33ee22"/>
<circle cx="453.1" cy="810.4" r="3.4" fill="#33ee22"/>
<circle cx="463.1" cy="792.1" r="3.4" fill="#33ee22"/>
<circle cx="463.1" cy="814.3" r="3.4" fill="#33ee22"/>
<circle cx="473.3" cy="791.1" r="3.4" fill="#33ee22"/>
<circle cx="472.4" cy="829.1" r="3.4" fill="#33ee22"/>
<circle cx="477.2" cy="829.1" r="3.4" fill="#33ee22"/>
<circle cx="482.0" cy="821.4" r="3.4" fill="#33ee22"/>
<circle cx="490.7" cy="802.1" r="3.4" fill="#33ee22"/>
<circle cx="500.3" cy="809.4" r="3.4" fill="#33ee22"/>
<circle cx="500.3" cy="832.6" r="3.4" fill="#33ee22"/>
<circle cx="473.3" cy="790.4" r="3.4" fill="#33ee22"/>
<circle cx="490.7" cy="802.0" r="3.4" fill="#33ee22"/>
<circle cx="500.6" cy="809.5" r="3.4" fill="#33ee22"/>
<circle cx="508.9" cy="814.4" r="3.4" fill="#33ee22"/>
<circle cx="512.2" cy="821.0" r="3.4" fill="#33ee22"/>
<circle cx="518.0" cy="797.9" r="3.4" fill="#33ee22"/>
<circle cx="518.0" cy="819.4" r="3.4" fill="#33ee22"/>
<circle cx="524.6" cy="814.4" r="3.4" fill="#33ee22"/>
<circle cx="528.7" cy="810.3" r="3.4" fill="#33ee22"/>
<circle cx="526.2" cy="827.6" r="3.4" fill="#33ee22"/>
<circle cx="534.5" cy="840.0" r="3.4" fill="#33ee22"/>
<circle cx="542.8" cy="832.6" r="3.4" fill="#33ee22"/>
<circle cx="547.7" cy="839.2" r="3.4" fill="#33ee22"/>
<circle cx="519.6" cy="843.4" r="3.4" fill="#33ee22"/>
<circle cx="522.9" cy="847.5" r="3.4" fill="#33ee22"/>
<circle cx="527.1" cy="849.1" r="3.4" fill="#33ee22"/>
<circle cx="537.8" cy="849.1" r="3.4" fill="#33ee22"/>
<circle cx="546.1" cy="847.5" r="3.4" fill="#33ee22"/>
<circle cx="552.7" cy="847.5" r="3.4" fill="#33ee22"/>
<circle cx="559.3" cy="847.5" r="3.4" fill="#33ee22"/>
<circle cx="562.6" cy="847.5" r="3.4" fill="#33ee22"/>
<circle cx="569.2" cy="847.5" r="3.4" fill="#33ee22"/>
<circle cx="531.2" cy="856.6" r="3.4" fill="#33ee22"/>
<circle cx="538.6" cy="866.5" r="3.4" fill="#33ee22"/>
<circle cx="560.1" cy="858.2" r="3.4" fill="#33ee22"/>
<circle cx="482.4" cy="821.0" r="3.4" fill="#33ee22"/>
<circle cx="472.5" cy="829.3" r="3.4" fill="#33ee22"/>
<circle cx="477.4" cy="829.3" r="3.4" fill="#33ee22"/>
<circle cx="500.6" cy="832.6" r="3.4" fill="#33ee22"/>
<circle cx="511.3" cy="826.0" r="3.4" fill="#33ee22"/>
<circle cx="516.3" cy="815.2" r="3.4" fill="#33ee22"/>
<circle cx="521.3" cy="817.7" r="3.4" fill="#33ee22"/>
<circle cx="504.7" cy="812.8" r="3.4" fill="#33ee22"/>
<circle cx="541.1" cy="842.5" r="3.4" fill="#33ee22"/>
<circle cx="556.0" cy="845.8" r="3.4" fill="#33ee22"/>
<circle cx="565.9" cy="845.8" r="3.4" fill="#33ee22"/>
<circle cx="534.5" cy="845.8" r="3.4" fill="#33ee22"/>
<circle cx="529.5" cy="844.2" r="3.4" fill="#33ee22"/>
<circle cx="514.7" cy="839.2" r="3.4" fill="#33ee22"/>
<circle cx="595.8" cy="855.0" r="3.4" fill="#33ee22"/>
<circle cx="655.4" cy="860.5" r="3.4" fill="#33ee22"/>
<circle cx="695.8" cy="869.0" r="3.4" fill="#33ee22"/>
<circle cx="768.8" cy="878.7" r="3.4" fill="#33ee22"/>
<circle cx="812.4" cy="875.8" r="3.4" fill="#33ee22"/>
<circle cx="96.2" cy="919.1" r="3.4" fill="#1010dd"/>
<circle cx="103.8" cy="917.0" r="3.4" fill="#1010dd"/>
<circle cx="120.8" cy="919.1" r="3.4" fill="#1010dd"/>
<circle cx="140.5" cy="926.9" r="3.4" fill="#1010dd"/>
<circle cx="139.0" cy="933.3" r="3.4" fill="#1010dd"/>
<circle cx="159.1" cy="920.6" r="3.4" fill="#1010dd"/>
<circle cx="163.4" cy="914.2" r="3.4" fill="#1010dd"/>
<circle cx="174.0" cy="923.6" r="3.4" fill="#1010dd"/>
<circle cx="184.9" cy="936.6" r="3.4" fill="#1010dd"/>
<circle cx="192.0" cy="931.7" r="3.4" fill="#1010dd"/>
<circle cx="231.8" cy="915.8" r="3.4" fill="#1010dd"/>
<circle cx="234.4" cy="922.1" r="3.4" fill="#1010dd"/>
<circle cx="251.1" cy="930.2" r="3.4" fill="#1010dd"/>
<circle cx="268.1" cy="917.5" r="3.4" fill="#1010dd"/>
<circle cx="290.2" cy="926.9" r="3.4" fill="#1010dd"/>
<circle cx="295.8" cy="925.4" r="3.4" fill="#1010dd"/>
<circle cx="297.3" cy="926.9" r="3.4" fill="#1010dd"/>
<circle cx="312.5" cy="928.4" r="3.4" fill="#1010dd"/>
<circle cx="323.9" cy="934.8" r="3.4" fill="#1010dd"/>
<circle cx="323.5" cy="935.2" r="3.4" fill="#1010dd"/>
<circle cx="337.4" cy="925.5" r="3.4" fill="#1010dd"/>
<circle cx="340.8" cy="944.4" r="3.4" fill="#1010dd"/>
<circle cx="348.5" cy="909.7" r="3.4" fill="#1010dd"/>
<circle cx="348.5" cy="929.0" r="3.4" fill="#1010dd"/>
<circle cx="364.0" cy="917.0" r="3.4" fill="#1010dd"/>
<circle cx="364.4" cy="920.9" r="3.4" fill="#1010dd"/>
<circle cx="375.5" cy="931.9" r="3.4" fill="#1010dd"/>
<circle cx="382.7" cy="915.9" r="3.4" fill="#1010dd"/>
<circle cx="386.0" cy="943.1" r="3.4" fill="#1010dd"/>
<circle cx="394.8" cy="943.1" r="3.4" fill="#1010dd"/>
<circle cx="405.8" cy="949.3" r="3.4" fill="#1010dd"/>
<circle cx="407.8" cy="939.6" r="3.4" fill="#1010dd"/>
<circle cx="409.1" cy="952.2" r="3.4" fill="#1010dd"/>
<circle cx="416.4" cy="952.7" r="3.4" fill="#1010dd"/>
<circle cx="422.2" cy="938.3" r="3.4" fill="#1010dd"/>
<circle cx="431.9" cy="925.5" r="3.4" fill="#1010dd"/>
<circle cx="437.3" cy="925.5" r="3.4" fill="#1010dd"/>
<circle cx="439.6" cy="919.4" r="3.4" fill="#1010dd"/>
<circle cx="440.5" cy="940.0" r="3.4" fill="#1010dd"/>
<circle cx="453.1" cy="928.6" r="3.4" fill="#1010dd"/>
<circle cx="463.7" cy="927.1" r="3.4" fill="#1010dd"/>
<circle cx="464.6" cy="904.9" r="3.4" fill="#1010dd"/>
<circle cx="470.4" cy="924.8" r="3.4" fill="#1010dd"/>
<circle cx="473.3" cy="936.7" r="3.4" fill="#1010dd"/>
<circle cx="477.2" cy="930.0" r="3.4" fill="#1010dd"/>
<circle cx="483.0" cy="911.3" r="3.4" fill="#1010dd"/>
<circle cx="500.3" cy="935.2" r="3.4" fill="#1010dd"/>
<circle cx="500.3" cy="943.1" r="3.4" fill="#1010dd"/>
<circle cx="510.5" cy="903.7" r="3.4" fill="#1010dd"/>
<circle cx="516.3" cy="907.0" r="3.4" fill="#1010dd"/>
<circle cx="524.6" cy="903.7" r="3.4" fill="#1010dd"/>
<circle cx="527.9" cy="910.3" r="3.4" fill="#1010dd"/>
<circle cx="536.1" cy="886.4" r="3.4" fill="#1010dd"/>
<circle cx="537.8" cy="902.1" r="3.4" fill="#1010dd"/>
<circle cx="542.8" cy="907.0" r="3.4" fill="#1010dd"/>
<circle cx="547.7" cy="902.1" r="3.4" fill="#1010dd"/>
<circle cx="552.7" cy="905.4" r="3.4" fill="#1010dd"/>
<circle cx="557.6" cy="907.0" r="3.4" fill="#1010dd"/>
<circle cx="562.6" cy="905.4" r="3.4" fill="#1010dd"/>
<circle cx="567.6" cy="903.7" r="3.4" fill="#1010dd"/>
<circle cx="569.2" cy="908.7" r="3.4" fill="#1010dd"/>
<circle cx="555.2" cy="913.6" r="3.4" fill="#1010dd"/>
<circle cx="546.1" cy="920.3" r="3.4" fill="#1010dd"/>
<circle cx="542.8" cy="928.5" r="3.4" fill="#1010dd"/>
<circle cx="536.1" cy="926.9" r="3.4" fill="#1010dd"/>
<circle cx="521.3" cy="930.2" r="3.4" fill="#1010dd"/>
<circle cx="511.3" cy="931.8" r="3.4" fill="#1010dd"/>
<circle cx="510.5" cy="920.3" r="3.4" fill="#1010dd"/>
<circle cx="518.0" cy="915.3" r="3.4" fill="#1010dd"/>
<circle cx="499.8" cy="935.1" r="3.4" fill="#1010dd"/>
<circle cx="499.8" cy="942.6" r="3.4" fill="#1010dd"/>
<circle cx="473.3" cy="936.8" r="3.4" fill="#1010dd"/>
<circle cx="482.4" cy="911.2" r="3.4" fill="#1010dd"/>
<circle cx="500.6" cy="908.7" r="3.4" fill="#1010dd"/>
<circle cx="513.0" cy="910.3" r="3.4" fill="#1010dd"/>
<circle cx="519.6" cy="905.4" r="3.4" fill="#1010dd"/>
<circle cx="532.8" cy="905.4" r="3.4" fill="#1010dd"/>
<circle cx="539.5" cy="910.3" r="3.4" fill="#1010dd"/>
<circle cx="545.2" cy="905.4" r="3.4" fill="#1010dd"/>
<circle cx="550.2" cy="908.7" r="3.4" fill="#1010dd"/>
<circle cx="560.1" cy="908.7" r="3.4" fill="#1010dd"/>
<circle cx="565.1" cy="909.5" r="3.4" fill="#1010dd"/>
<circle cx="527.9" cy="898.8" r="3.4" fill="#1010dd"/>
<circle cx="522.9" cy="912.0" r="3.4" fill="#1010dd"/>
<circle cx="534.5" cy="915.3" r="3.4" fill="#1010dd"/>
<circle cx="509.7" cy="913.6" r="3.4" fill="#1010dd"/>
<circle cx="595.8" cy="910.4" r="3.4" fill="#1010dd"/>
<circle cx="655.4" cy="895.0" r="3.4" fill="#1010dd"/>
<circle cx="695.8" cy="902.7" r="3.4" fill="#1010dd"/>
<circle cx="768.8" cy="904.7" r="3.4" fill="#1010dd"/>
<circle cx="812.4" cy="889.7" r="3.4" fill="#1010dd"/>
<text x="585" y="843" font-size="16.8">E-W component</text>
<text x="585" y="941" font-size="16.8">N-S component</text>
<path d="M79.7,1230.8V1256.8M73.2,1230.8h13.0M73.2,1256.8h13.0M82.9,1230.3V1256.3M76.4,1230.3h13.0M76.4,1256.3h13.0M86.1,1229.8V1255.8M79.6,1229.8h13.0M79.6,1255.8h13.0M89.3,1229.3V1255.3M82.8,1229.3h13.0M82.8,1255.3h13.0M92.5,1228.8V1254.8M86.0,1228.8h13.0M86.0,1254.8h13.0M95.7,1227.7V1253.7M89.2,1227.7h13.0M89.2,1253.7h13.0M98.9,1226.6V1252.6M92.4,1226.6h13.0M92.4,1252.6h13.0M102.1,1225.5V1251.5M95.6,1225.5h13.0M95.6,1251.5h13.0M105.3,1224.4V1250.4M98.8,1224.4h13.0M98.8,1250.4h13.0M108.5,1223.1V1249.1M102.0,1223.1h13.0M102.0,1249.1h13.0M111.7,1221.8V1247.8M105.2,1221.8h13.0M105.2,1247.8h13.0M114.9,1220.6V1246.6M108.4,1220.6h13.0M108.4,1246.6h13.0M118.1,1219.3V1245.3M111.6,1219.3h13.0M111.6,1245.3h13.0M121.3,1218.4V1244.4M114.8,1218.4h13.0M114.8,1244.4h13.0M124.5,1217.4V1243.4M118.0,1217.4h13.0M118.0,1243.4h13.0M127.7,1216.4V1242.4M121.2,1216.4h13.0M121.2,1242.4h13.0M130.9,1215.5V1241.5M124.4,1215.5h13.0M124.4,1241.5h13.0M134.1,1214.9V1240.9M127.6,1214.9h13.0M127.6,1240.9h13.0M137.3,1214.2V1240.2M130.8,1214.2h13.0M130.8,1240.2h13.0M140.5,1213.6V1239.6M134.0,1213.6h13.0M134.0,1239.6h13.0M143.7,1213.0V1239.0M137.2,1213.0h13.0M137.2,1239.0h13.0M146.9,1212.6V1238.6M140.4,1212.6h13.0M140.4,1238.6h13.0M150.1,1212.1V1238.1M143.6,1212.1h13.0M143.6,1238.1h13.0M153.3,1211.7V1237.7M146.8,1211.7h13.0M146.8,1237.7h13.0M156.5,1211.3V1237.3M150.0,1211.3h13.0M150.0,1237.3h13.0M159.7,1211.2V1237.2M153.2,1211.2h13.0M153.2,1237.2h13.0M162.9,1211.2V1237.2M156.4,1211.2h13.0M156.4,1237.2h13.0M166.1,1211.1V1237.1M159.6,1211.1h13.0M159.6,1237.1h13.0M169.3,1211.2V1237.2M162.8,1211.2h13.0M162.8,1237.2h13.0M172.5,1211.7V1237.7M166.0,1211.7h13.0M166.0,1237.7h13.0M175.7,1212.3V1238.3M169.2,1212.3h13.0M169.2,1238.3h13.0M178.9,1213.6V1239.6M172.4,1213.6h13.0M172.4,1239.6h13.0M182.1,1215.0V1241.0M175.6,1215.0h13.0M175.6,1241.0h13.0M185.3,1216.5V1242.5M178.8,1216.5h13.0M178.8,1242.5h13.0M188.5,1217.8V1243.8M182.0,1217.8h13.0M182.0,1243.8h13.0M191.7,1219.1V1245.1M185.2,1219.1h13.0M185.2,1245.1h13.0M194.9,1220.4V1246.4M188.4,1220.4h13.0M188.4,1246.4h13.0M198.1,1221.6V1247.6M191.6,1221.6h13.0M191.6,1247.6h13.0M201.3,1222.5V1248.5M194.8,1222.5h13.0M194.8,1248.5h13.0M204.5,1223.2V1249.2M198.0,1223.2h13.0M198.0,1249.2h13.0M207.7,1223.9V1249.9M201.2,1223.9h13.0M201.2,1249.9h13.0M210.9,1224.6V1250.6M204.4,1224.6h13.0M204.4,1250.6h13.0M214.1,1225.3V1251.3M207.6,1225.3h13.0M207.6,1251.3h13.0M217.3,1225.4V1251.4M210.8,1225.4h13.0M210.8,1251.4h13.0M220.5,1225.5V1251.5M214.0,1225.5h13.0M214.0,1251.5h13.0M223.7,1225.6V1251.6M217.2,1225.6h13.0M217.2,1251.6h13.0M226.9,1225.7V1251.7M220.4,1225.7h13.0M220.4,1251.7h13.0M230.1,1225.7V1251.7M223.6,1225.7h13.0M223.6,1251.7h13.0M233.3,1225.4V1251.4M226.8,1225.4h13.0M226.8,1251.4h13.0M236.5,1225.2V1251.2M230.0,1225.2h13.0M230.0,1251.2h13.0M239.7,1224.9V1250.9M233.2,1224.9h13.0M233.2,1250.9h13.0M242.9,1224.6V1250.6M236.4,1224.6h13.0M236.4,1250.6h13.0M246.1,1224.3V1250.3M239.6,1224.3h13.0M239.6,1250.3h13.0M249.3,1223.9V1249.9M242.8,1223.9h13.0M242.8,1249.9h13.0M252.5,1223.6V1249.6M246.0,1223.6h13.0M246.0,1249.6h13.0M255.7,1223.2V1249.2M249.2,1223.2h13.0M249.2,1249.2h13.0M258.9,1222.8V1248.8M252.4,1222.8h13.0M252.4,1248.8h13.0M262.1,1222.3V1248.3M255.6,1222.3h13.0M255.6,1248.3h13.0M265.3,1221.8V1247.8M258.8,1221.8h13.0M258.8,1247.8h13.0M268.5,1221.3V1247.3M262.0,1221.3h13.0M262.0,1247.3h13.0M271.7,1220.7V1246.7M265.2,1220.7h13.0M265.2,1246.7h13.0M274.9,1220.2V1246.2M268.4,1220.2h13.0M268.4,1246.2h13.0M278.1,1219.1V1245.1M271.6,1219.1h13.0M271.6,1245.1h13.0M281.3,1217.9V1243.9M274.8,1217.9h13.0M274.8,1243.9h13.0M284.5,1216.8V1242.8M278.0,1216.8h13.0M278.0,1242.8h13.0M287.7,1215.6V1241.6M281.2,1215.6h13.0M281.2,1241.6h13.0M290.9,1214.6V1240.6M284.4,1214.6h13.0M284.4,1240.6h13.0M294.1,1213.7V1239.7M287.6,1213.7h13.0M287.6,1239.7h13.0M297.3,1212.7V1238.7M290.8,1212.7h13.0M290.8,1238.7h13.0M300.5,1212.7V1238.7M294.0,1212.7h13.0M294.0,1238.7h13.0M303.7,1212.9V1238.9M297.2,1212.9h13.0M297.2,1238.9h13.0M306.9,1213.0V1239.0M300.4,1213.0h13.0M300.4,1239.0h13.0M310.1,1213.9V1239.9M303.6,1213.9h13.0M303.6,1239.9h13.0M313.3,1215.1V1241.1M306.8,1215.1h13.0M306.8,1241.1h13.0M316.5,1216.3V1242.3M310.0,1216.3h13.0M310.0,1242.3h13.0M319.7,1219.2V1241.9M313.2,1219.2h13.0M313.2,1241.9h13.0M322.9,1219.5V1243.6M316.4,1219.5h13.0M316.4,1243.6h13.0M326.1,1219.7V1245.4M319.6,1219.7h13.0M319.6,1245.4h13.0M329.3,1221.9V1245.5M322.8,1221.9h13.0M322.8,1245.5h13.0M332.5,1223.8V1245.8M326.0,1223.8h13.0M326.0,1245.8h13.0M335.7,1224.9V1246.9M329.2,1224.9h13.0M329.2,1246.9h13.0M338.9,1225.9V1247.9M332.4,1225.9h13.0M332.4,1247.9h13.0M342.1,1227.0V1249.0M335.6,1227.0h13.0M335.6,1249.0h13.0M345.3,1227.9V1249.9M338.8,1227.9h13.0M338.8,1249.9h13.0M348.5,1228.6V1250.6M342.0,1228.6h13.0M342.0,1250.6h13.0M351.7,1229.3V1251.3M345.2,1229.3h13.0M345.2,1251.3h13.0M354.9,1230.1V1252.1M348.4,1230.1h13.0M348.4,1252.1h13.0M358.1,1229.2V1251.2M351.6,1229.2h13.0M351.6,1251.2h13.0M361.3,1227.8V1249.8M354.8,1227.8h13.0M354.8,1249.8h13.0M364.5,1226.3V1248.3M358.0,1226.3h13.0M358.0,1248.3h13.0M367.7,1222.7V1244.7M361.2,1222.7h13.0M361.2,1244.7h13.0M370.9,1219.1V1241.1M364.4,1219.1h13.0M364.4,1241.1h13.0M374.1,1215.2V1238.2M367.6,1215.2h13.0M367.6,1238.2h13.0M377.3,1211.2V1235.9M370.8,1211.2h13.0M370.8,1235.9h13.0M380.5,1210.3V1235.3M374.0,1210.3h13.0M374.0,1235.3h13.0M383.7,1210.2V1235.2M377.2,1210.2h13.0M377.2,1235.2h13.0M386.9,1210.1V1235.1M380.4,1210.1h13.0M380.4,1235.1h13.0M390.1,1209.9V1234.9M383.6,1209.9h13.0M383.6,1234.9h13.0M393.3,1209.8V1234.8M386.8,1209.8h13.0M386.8,1234.8h13.0M396.5,1209.7V1234.7M390.0,1209.7h13.0M390.0,1234.7h13.0M399.7,1209.5V1234.5M393.2,1209.5h13.0M393.2,1234.5h13.0M402.9,1208.3V1233.3M396.4,1208.3h13.0M396.4,1233.3h13.0M406.1,1206.3V1231.3M399.6,1206.3h13.0M399.6,1231.3h13.0M409.3,1204.1V1229.1M402.8,1204.1h13.0M402.8,1229.1h13.0M412.5,1200.9V1225.9M406.0,1200.9h13.0M406.0,1225.9h13.0M415.7,1197.7V1222.7M409.2,1197.7h13.0M409.2,1222.7h13.0M418.9,1195.1V1220.1M412.4,1195.1h13.0M412.4,1220.1h13.0M422.1,1192.7V1217.7M415.6,1192.7h13.0M415.6,1217.7h13.0M425.3,1191.2V1216.2M418.8,1191.2h13.0M418.8,1216.2h13.0M428.5,1191.5V1216.5M422.0,1191.5h13.0M422.0,1216.5h13.0M431.7,1191.8V1216.8M425.2,1191.8h13.0M425.2,1216.8h13.0M434.9,1192.0V1217.0M428.4,1192.0h13.0M428.4,1217.0h13.0M438.1,1192.3V1217.3M431.6,1192.3h13.0M431.6,1217.3h13.0M441.3,1192.6V1217.6M434.8,1192.6h13.0M434.8,1217.6h13.0M444.5,1192.8V1217.8M438.0,1192.8h13.0M438.0,1217.8h13.0M447.7,1193.1V1218.1M441.2,1193.1h13.0M441.2,1218.1h13.0M450.9,1193.1V1218.1M444.4,1193.1h13.0M444.4,1218.1h13.0M454.1,1193.1V1218.1M447.6,1193.1h13.0M447.6,1218.1h13.0M457.3,1192.6V1217.6M450.8,1192.6h13.0M450.8,1217.6h13.0M460.5,1187.8V1212.8M454.0,1187.8h13.0M454.0,1212.8h13.0M463.7,1190.2V1215.2M457.2,1190.2h13.0M457.2,1215.2h13.0M466.9,1193.2V1218.2M460.4,1193.2h13.0M460.4,1218.2h13.0M470.1,1194.8V1219.8M463.6,1194.8h13.0M463.6,1219.8h13.0M473.3,1196.4V1221.4M466.8,1196.4h13.0M466.8,1221.4h13.0M476.5,1198.0V1223.0M470.0,1198.0h13.0M470.0,1223.0h13.0M479.7,1199.6V1224.6M473.2,1199.6h13.0M473.2,1224.6h13.0M482.9,1200.3V1226.2M476.4,1200.3h13.0M476.4,1226.2h13.0M486.1,1198.6V1227.8M479.6,1198.6h13.0M479.6,1227.8h13.0M489.3,1185.0V1216.1M482.8,1185.0h13.0M482.8,1216.1h13.0M492.5,1171.3V1208.0M486.0,1171.3h13.0M486.0,1208.0h13.0M495.7,1170.6V1207.3M489.2,1170.6h13.0M489.2,1207.3h13.0M498.9,1169.9V1206.6M492.4,1169.9h13.0M492.4,1206.6h13.0M502.1,1173.7V1209.3M495.6,1173.7h13.0M495.6,1209.3h13.0M505.3,1177.3V1211.1M498.8,1177.3h13.0M498.8,1211.1h13.0M508.5,1177.9V1209.9M502.0,1177.9h13.0M502.0,1209.9h13.0M511.7,1167.5V1201.4M505.2,1167.5h13.0M505.2,1201.4h13.0M514.9,1141.8V1183.7M508.4,1141.8h13.0M508.4,1183.7h13.0M518.1,1109.1V1154.6M511.6,1109.1h13.0M511.6,1154.6h13.0M521.3,1077.7V1121.1M514.8,1077.7h13.0M514.8,1121.1h13.0M524.5,1062.6V1107.6M518.0,1062.6h13.0M518.0,1107.6h13.0M527.7,1061.8V1109.8M521.2,1061.8h13.0M521.2,1109.8h13.0M530.9,1068.1V1116.3M524.4,1068.1h13.0M524.4,1116.3h13.0M534.1,1107.2V1145.0M527.6,1107.2h13.0M527.6,1145.0h13.0M537.3,1146.3V1177.5M530.8,1146.3h13.0M530.8,1177.5h13.0M540.5,1176.3V1207.4M534.0,1176.3h13.0M534.0,1207.4h13.0M543.7,1192.4V1225.2M537.2,1192.4h13.0M537.2,1225.2h13.0M546.9,1203.0V1235.8M540.4,1203.0h13.0M540.4,1235.8h13.0M550.1,1213.3V1245.3M543.6,1213.3h13.0M543.6,1245.3h13.0M553.3,1219.7V1256.7M546.8,1219.7h13.0M546.8,1256.7h13.0M556.5,1218.9V1260.5M550.0,1218.9h13.0M550.0,1260.5h13.0M559.7,1216.1V1258.6M553.2,1216.1h13.0M553.2,1258.6h13.0M562.9,1220.3V1258.0M556.4,1220.3h13.0M556.4,1258.0h13.0M566.1,1225.1V1256.1M559.6,1225.1h13.0M559.6,1256.1h13.0M569.3,1223.3V1250.8M562.8,1223.3h13.0M562.8,1250.8h13.0M572.5,1220.1V1250.8M566.0,1220.1h13.0M566.0,1250.8h13.0M575.7,1218.4V1249.3M569.2,1218.4h13.0M569.2,1249.3h13.0M578.9,1217.5V1250.2M572.4,1217.5h13.0M572.4,1250.2h13.0M582.1,1217.3V1251.4M575.6,1217.3h13.0M575.6,1251.4h13.0M585.3,1217.5V1252.3M578.8,1217.5h13.0M578.8,1252.3h13.0M588.5,1218.1V1253.6M582.0,1218.1h13.0M582.0,1253.6h13.0M591.7,1226.9V1252.4M585.2,1226.9h13.0M585.2,1252.4h13.0M594.9,1230.9V1250.3M588.4,1230.9h13.0M588.4,1250.3h13.0M598.1,1231.3V1248.0M591.6,1231.3h13.0M591.6,1248.0h13.0M601.3,1231.5V1246.1M594.8,1231.5h13.0M594.8,1246.1h13.0M604.5,1231.5V1244.5M598.0,1231.5h13.0M598.0,1244.5h13.0M607.7,1231.5V1243.0M601.2,1231.5h13.0M601.2,1243.0h13.0M610.9,1230.9V1242.0M604.4,1230.9h13.0M604.4,1242.0h13.0M614.1,1230.3V1241.0M607.6,1230.3h13.0M607.6,1241.0h13.0M617.3,1230.6V1240.6M610.8,1230.6h13.0M610.8,1240.6h13.0M620.5,1231.2V1240.4M614.0,1231.2h13.0M614.0,1240.4h13.0M623.7,1232.0V1240.5M617.2,1232.0h13.0M617.2,1240.5h13.0M626.9,1233.1V1241.3M620.4,1233.1h13.0M620.4,1241.3h13.0M630.1,1234.3V1242.1M623.6,1234.3h13.0M623.6,1242.1h13.0M633.3,1235.7V1243.0M626.8,1235.7h13.0M626.8,1243.0h13.0M636.5,1237.1V1244.0M630.0,1237.1h13.0M630.0,1244.0h13.0M639.7,1238.2V1244.9M633.2,1238.2h13.0M633.2,1244.9h13.0M642.9,1239.0V1245.7M636.4,1239.0h13.0M636.4,1245.7h13.0M646.1,1239.8V1246.5M639.6,1239.8h13.0M639.6,1246.5h13.0M649.3,1240.2V1246.9M642.8,1240.2h13.0M642.8,1246.9h13.0M652.5,1240.6V1247.3M646.0,1240.6h13.0M646.0,1247.3h13.0M655.7,1240.8V1247.5M649.2,1240.8h13.0M649.2,1247.5h13.0M658.9,1240.8V1247.6M652.4,1240.8h13.0M652.4,1247.6h13.0M662.1,1240.9V1247.7M655.6,1240.9h13.0M655.6,1247.7h13.0M665.3,1241.0V1247.9M658.8,1241.0h13.0M658.8,1247.9h13.0M668.5,1241.0V1248.0M662.0,1241.0h13.0M662.0,1248.0h13.0M671.7,1241.1V1248.1M665.2,1241.1h13.0M665.2,1248.1h13.0M674.9,1241.2V1248.2M668.4,1241.2h13.0M668.4,1248.2h13.0M678.1,1241.2V1248.2M671.6,1241.2h13.0M671.6,1248.2h13.0M681.3,1241.2V1248.2M674.8,1241.2h13.0M674.8,1248.2h13.0M684.5,1241.2V1248.2M678.0,1241.2h13.0M678.0,1248.2h13.0M687.7,1241.2V1248.2M681.2,1241.2h13.0M681.2,1248.2h13.0M690.9,1241.2V1248.2M684.4,1241.2h13.0M684.4,1248.2h13.0M694.1,1241.2V1248.2M687.6,1241.2h13.0M687.6,1248.2h13.0M697.3,1241.2V1248.2M690.8,1241.2h13.0M690.8,1248.2h13.0M700.5,1241.2V1248.2M694.0,1241.2h13.0M694.0,1248.2h13.0M703.7,1241.2V1248.2M697.2,1241.2h13.0M697.2,1248.2h13.0M706.9,1241.2V1248.2M700.4,1241.2h13.0M700.4,1248.2h13.0M710.1,1241.2V1248.2M703.6,1241.2h13.0M703.6,1248.2h13.0M713.3,1241.2V1248.2M706.8,1241.2h13.0M706.8,1248.2h13.0M716.5,1241.2V1248.2M710.0,1241.2h13.0M710.0,1248.2h13.0M719.7,1241.2V1248.2M713.2,1241.2h13.0M713.2,1248.2h13.0M722.9,1240.6V1247.6M716.4,1240.6h13.0M716.4,1247.6h13.0M726.1,1239.9V1246.9M719.6,1239.9h13.0M719.6,1246.9h13.0M729.3,1239.2V1246.2M722.8,1239.2h13.0M722.8,1246.2h13.0M732.5,1238.5V1245.5M726.0,1238.5h13.0M726.0,1245.5h13.0M735.7,1237.7V1244.7M729.2,1237.7h13.0M729.2,1244.7h13.0M738.9,1237.0V1244.0M732.4,1237.0h13.0M732.4,1244.0h13.0M742.1,1236.4V1243.4M735.6,1236.4h13.0M735.6,1243.4h13.0M745.3,1235.8V1242.8M738.8,1235.8h13.0M738.8,1242.8h13.0M748.5,1235.2V1242.2M742.0,1235.2h13.0M742.0,1242.2h13.0M751.7,1234.7V1241.7M745.2,1234.7h13.0M745.2,1241.7h13.0M754.9,1234.1V1241.1M748.4,1234.1h13.0M748.4,1241.1h13.0M758.1,1233.5V1240.5M751.6,1233.5h13.0M751.6,1240.5h13.0M761.3,1233.0V1240.0M754.8,1233.0h13.0M754.8,1240.0h13.0M764.5,1232.4V1239.4M758.0,1232.4h13.0M758.0,1239.4h13.0M767.7,1231.8V1238.8M761.2,1231.8h13.0M761.2,1238.8h13.0M770.9,1231.2V1238.2M764.4,1231.2h13.0M764.4,1238.2h13.0M774.1,1230.7V1237.7M767.6,1230.7h13.0M767.6,1237.7h13.0M777.3,1230.1V1237.1M770.8,1230.1h13.0M770.8,1237.1h13.0M780.5,1229.7V1236.7M774.0,1229.7h13.0M774.0,1236.7h13.0M783.7,1229.2V1236.2M777.2,1229.2h13.0M777.2,1236.2h13.0M786.9,1228.7V1235.7M780.4,1228.7h13.0M780.4,1235.7h13.0M790.1,1228.2V1235.2M783.6,1228.2h13.0M783.6,1235.2h13.0M793.3,1227.7V1234.7M786.8,1227.7h13.0M786.8,1234.7h13.0M796.5,1227.3V1234.3M790.0,1227.3h13.0M790.0,1234.3h13.0M799.7,1226.8V1233.8M793.2,1226.8h13.0M793.2,1233.8h13.0M802.9,1226.4V1233.4M796.4,1226.4h13.0M796.4,1233.4h13.0M806.1,1226.2V1233.2M799.6,1226.2h13.0M799.6,1233.2h13.0M809.3,1225.9V1232.9M802.8,1225.9h13.0M802.8,1232.9h13.0M812.5,1225.6V1232.6M806.0,1225.6h13.0M806.0,1232.6h13.0M815.7,1225.3V1232.3M809.2,1225.3h13.0M809.2,1232.3h13.0M818.9,1225.0V1232.0M812.4,1225.0h13.0M812.4,1232.0h13.0M822.1,1224.7V1231.7M815.6,1224.7h13.0M815.6,1231.7h13.0M825.3,1224.4V1231.4M818.8,1224.4h13.0M818.8,1231.4h13.0" stroke="#1a1a1a" stroke-width="0.9" fill="none"/>
<circle cx="79.7" cy="1243.8" r="3.2" fill="#33e628"/>
<circle cx="82.9" cy="1243.3" r="3.2" fill="#33e628"/>
<circle cx="86.1" cy="1242.8" r="3.2" fill="#33e628"/>
<circle cx="89.3" cy="1242.3" r="3.2" fill="#33e628"/>
<circle cx="92.5" cy="1241.8" r="3.2" fill="#33e628"/>
<circle cx="95.7" cy="1240.7" r="3.2" fill="#33e628"/>
<circle cx="98.9" cy="1239.6" r="3.2" fill="#33e628"/>
<circle cx="102.1" cy="1238.5" r="3.2" fill="#33e628"/>
<circle cx="105.3" cy="1237.4" r="3.2" fill="#33e628"/>
<circle cx="108.5" cy="1236.1" r="3.2" fill="#33e628"/>
<circle cx="111.7" cy="1234.8" r="3.2" fill="#33e628"/>
<circle cx="114.9" cy="1233.6" r="3.2" fill="#33e628"/>
<circle cx="118.1" cy="1232.3" r="3.2" fill="#33e628"/>
<circle cx="121.3" cy="1231.4" r="3.2" fill="#33e628"/>
<circle cx="124.5" cy="1230.4" r="3.2" fill="#33e628"/>
<circle cx="127.7" cy="1229.4" r="3.2" fill="#33e628"/>
<circle cx="130.9" cy="1228.5" r="3.2" fill="#33e628"/>
<circle cx="134.1" cy="1227.9" r="3.2" fill="#33e628"/>
<circle cx="137.3" cy="1227.2" r="3.2" fill="#33e628"/>
<circle cx="140.5" cy="1226.6" r="3.2" fill="#33e628"/>
<circle cx="143.7" cy="1226.0" r="3.2" fill="#33e628"/>
<circle cx="146.9" cy="1225.6" r="3.2" fill="#33e628"/>
<circle cx="150.1" cy="1225.1" r="3.2" fill="#33e628"/>
<circle cx="153.3" cy="1224.7" r="3.2" fill="#33e628"/>
<circle cx="156.5" cy="1224.3" r="3.2" fill="#33e628"/>
<circle cx="159.7" cy="1224.2" r="3.2" fill="#33e628"/>
<circle cx="162.9" cy="1224.2" r="3.2" fill="#33e628"/>
<circle cx="166.1" cy="1224.1" r="3.2" fill="#33e628"/>
<circle cx="169.3" cy="1224.2" r="3.2" fill="#33e628"/>
<circle cx="172.5" cy="1224.7" r="3.2" fill="#33e628"/>
<circle cx="175.7" cy="1225.3" r="3.2" fill="#33e628"/>
<circle cx="178.9" cy="1226.6" r="3.2" fill="#33e628"/>
<circle cx="182.1" cy="1228.0" r="3.2" fill="#33e628"/>
<circle cx="185.3" cy="1229.5" r="3.2" fill="#33e628"/>
<circle cx="188.5" cy="1230.8" r="3.2" fill="#33e628"/>
<circle cx="191.7" cy="1232.1" r="3.2" fill="#33e628"/>
<circle cx="194.9" cy="1233.4" r="3.2" fill="#33e628"/>
<circle cx="198.1" cy="1234.6" r="3.2" fill="#33e628"/>
<circle cx="201.3" cy="1235.5" r="3.2" fill="#33e628"/>
<circle cx="204.5" cy="1236.2" r="3.2" fill="#33e628"/>
<circle cx="207.7" cy="1236.9" r="3.2" fill="#33e628"/>
<circle cx="210.9" cy="1237.6" r="3.2" fill="#33e628"/>
<circle cx="214.1" cy="1238.3" r="3.2" fill="#33e628"/>
<circle cx="217.3" cy="1238.4" r="3.2" fill="#33e628"/>
<circle cx="220.5" cy="1238.5" r="3.2" fill="#33e628"/>
<circle cx="223.7" cy="1238.6" r="3.2" fill="#33e628"/>
<circle cx="226.9" cy="1238.7" r="3.2" fill="#33e628"/>
<circle cx="230.1" cy="1238.7" r="3.2" fill="#33e628"/>
<circle cx="233.3" cy="1238.4" r="3.2" fill="#33e628"/>
<circle cx="236.5" cy="1238.2" r="3.2" fill="#33e628"/>
<circle cx="239.7" cy="1237.9" r="3.2" fill="#33e628"/>
<circle cx="242.9" cy="1237.6" r="3.2" fill="#33e628"/>
<circle cx="246.1" cy="1237.3" r="3.2" fill="#33e628"/>
<circle cx="249.3" cy="1236.9" r="3.2" fill="#33e628"/>
<circle cx="252.5" cy="1236.6" r="3.2" fill="#33e628"/>
<circle cx="255.7" cy="1236.2" r="3.2" fill="#33e628"/>
<circle cx="258.9" cy="1235.8" r="3.2" fill="#33e628"/>
<circle cx="262.1" cy="1235.3" r="3.2" fill="#33e628"/>
<circle cx="265.3" cy="1234.8" r="3.2" fill="#33e628"/>
<circle cx="268.5" cy="1234.3" r="3.2" fill="#33e628"/>
<circle cx="271.7" cy="1233.7" r="3.2" fill="#33e628"/>
<circle cx="274.9" cy="1233.2" r="3.2" fill="#33e628"/>
<circle cx="278.1" cy="1232.1" r="3.2" fill="#33e628"/>
<circle cx="281.3" cy="1230.9" r="3.2" fill="#33e628"/>
<circle cx="284.5" cy="1229.8" r="3.2" fill="#33e628"/>
<circle cx="287.7" cy="1228.6" r="3.2" fill="#33e628"/>
<circle cx="290.9" cy="1227.6" r="3.2" fill="#33e628"/>
<circle cx="294.1" cy="1226.7" r="3.2" fill="#33e628"/>
<circle cx="297.3" cy="1225.7" r="3.2" fill="#33e628"/>
<circle cx="300.5" cy="1225.7" r="3.2" fill="#33e628"/>
<circle cx="303.7" cy="1225.9" r="3.2" fill="#33e628"/>
<circle cx="306.9" cy="1226.0" r="3.2" fill="#33e628"/>
<circle cx="310.1" cy="1226.9" r="3.2" fill="#33e628"/>
<circle cx="313.3" cy="1228.1" r="3.2" fill="#33e628"/>
<circle cx="316.5" cy="1229.3" r="3.2" fill="#33e628"/>
<circle cx="319.7" cy="1230.5" r="3.2" fill="#33e628"/>
<circle cx="322.9" cy="1231.5" r="3.2" fill="#33e628"/>
<circle cx="326.1" cy="1232.6" r="3.2" fill="#33e628"/>
<circle cx="329.3" cy="1233.7" r="3.2" fill="#33e628"/>
<circle cx="332.5" cy="1234.8" r="3.2" fill="#33e628"/>
<circle cx="335.7" cy="1235.9" r="3.2" fill="#33e628"/>
<circle cx="338.9" cy="1236.9" r="3.2" fill="#33e628"/>
<circle cx="342.1" cy="1238.0" r="3.2" fill="#33e628"/>
<circle cx="345.3" cy="1238.9" r="3.2" fill="#33e628"/>
<circle cx="348.5" cy="1239.6" r="3.2" fill="#33e628"/>
<circle cx="351.7" cy="1240.3" r="3.2" fill="#33e628"/>
<circle cx="354.9" cy="1241.1" r="3.2" fill="#33e628"/>
<circle cx="358.1" cy="1240.2" r="3.2" fill="#33e628"/>
<circle cx="361.3" cy="1238.8" r="3.2" fill="#33e628"/>
<circle cx="364.5" cy="1237.3" r="3.2" fill="#33e628"/>
<circle cx="367.7" cy="1233.7" r="3.2" fill="#33e628"/>
<circle cx="370.9" cy="1230.1" r="3.2" fill="#33e628"/>
<circle cx="374.1" cy="1226.7" r="3.2" fill="#33e628"/>
<circle cx="377.3" cy="1223.5" r="3.2" fill="#33e628"/>
<circle cx="380.5" cy="1222.8" r="3.2" fill="#33e628"/>
<circle cx="383.7" cy="1222.7" r="3.2" fill="#33e628"/>
<circle cx="386.9" cy="1222.6" r="3.2" fill="#33e628"/>
<circle cx="390.1" cy="1222.4" r="3.2" fill="#33e628"/>
<circle cx="393.3" cy="1222.3" r="3.2" fill="#33e628"/>
<circle cx="396.5" cy="1222.2" r="3.2" fill="#33e628"/>
<circle cx="399.7" cy="1222.0" r="3.2" fill="#33e628"/>
<circle cx="402.9" cy="1220.8" r="3.2" fill="#33e628"/>
<circle cx="406.1" cy="1218.8" r="3.2" fill="#33e628"/>
<circle cx="409.3" cy="1216.6" r="3.2" fill="#33e628"/>
<circle cx="412.5" cy="1213.4" r="3.2" fill="#33e628"/>
<circle cx="415.7" cy="1210.2" r="3.2" fill="#33e628"/>
<circle cx="418.9" cy="1207.6" r="3.2" fill="#33e628"/>
<circle cx="422.1" cy="1205.2" r="3.2" fill="#33e628"/>
<circle cx="425.3" cy="1203.7" r="3.2" fill="#33e628"/>
<circle cx="428.5" cy="1204.0" r="3.2" fill="#33e628"/>
<circle cx="431.7" cy="1204.3" r="3.2" fill="#33e628"/>
<circle cx="434.9" cy="1204.5" r="3.2" fill="#33e628"/>
<circle cx="438.1" cy="1204.8" r="3.2" fill="#33e628"/>
<circle cx="441.3" cy="1205.1" r="3.2" fill="#33e628"/>
<circle cx="444.5" cy="1205.3" r="3.2" fill="#33e628"/>
<circle cx="447.7" cy="1205.6" r="3.2" fill="#33e628"/>
<circle cx="450.9" cy="1205.6" r="3.2" fill="#33e628"/>
<circle cx="454.1" cy="1205.6" r="3.2" fill="#33e628"/>
<circle cx="457.3" cy="1205.1" r="3.2" fill="#33e628"/>
<circle cx="460.5" cy="1200.3" r="3.2" fill="#33e628"/>
<circle cx="463.7" cy="1202.7" r="3.2" fill="#33e628"/>
<circle cx="466.9" cy="1205.7" r="3.2" fill="#33e628"/>
<circle cx="470.1" cy="1207.3" r="3.2" fill="#33e628"/>
<circle cx="473.3" cy="1208.9" r="3.2" fill="#33e628"/>
<circle cx="476.5" cy="1210.5" r="3.2" fill="#33e628"/>
<circle cx="479.7" cy="1212.1" r="3.2" fill="#33e628"/>
<circle cx="482.9" cy="1213.3" r="3.2" fill="#33e628"/>
<circle cx="486.1" cy="1213.2" r="3.2" fill="#33e628"/>
<circle cx="489.3" cy="1200.6" r="3.2" fill="#33e628"/>
<circle cx="492.5" cy="1189.7" r="3.2" fill="#33e628"/>
<circle cx="495.7" cy="1188.9" r="3.2" fill="#33e628"/>
<circle cx="498.9" cy="1188.2" r="3.2" fill="#33e628"/>
<circle cx="502.1" cy="1191.5" r="3.2" fill="#33e628"/>
<circle cx="505.3" cy="1194.2" r="3.2" fill="#33e628"/>
<circle cx="508.5" cy="1193.9" r="3.2" fill="#33e628"/>
<circle cx="511.7" cy="1184.5" r="3.2" fill="#33e628"/>
<circle cx="514.9" cy="1162.7" r="3.2" fill="#33e628"/>
<circle cx="518.1" cy="1131.9" r="3.2" fill="#33e628"/>
<circle cx="521.3" cy="1099.4" r="3.2" fill="#33e628"/>
<circle cx="524.5" cy="1085.1" r="3.2" fill="#33e628"/>
<circle cx="527.7" cy="1085.8" r="3.2" fill="#33e628"/>
<circle cx="530.9" cy="1092.2" r="3.2" fill="#33e628"/>
<circle cx="534.1" cy="1126.1" r="3.2" fill="#33e628"/>
<circle cx="537.3" cy="1161.9" r="3.2" fill="#33e628"/>
<circle cx="540.5" cy="1191.8" r="3.2" fill="#33e628"/>
<circle cx="543.7" cy="1208.8" r="3.2" fill="#33e628"/>
<circle cx="546.9" cy="1219.4" r="3.2" fill="#33e628"/>
<circle cx="550.1" cy="1229.3" r="3.2" fill="#33e628"/>
<circle cx="553.3" cy="1238.2" r="3.2" fill="#33e628"/>
<circle cx="556.5" cy="1239.7" r="3.2" fill="#33e628"/>
<circle cx="559.7" cy="1237.4" r="3.2" fill="#33e628"/>
<circle cx="562.9" cy="1239.2" r="3.2" fill="#33e628"/>
<circle cx="566.1" cy="1240.6" r="3.2" fill="#33e628"/>
<circle cx="569.3" cy="1237.0" r="3.2" fill="#33e628"/>
<circle cx="572.5" cy="1235.4" r="3.2" fill="#33e628"/>
<circle cx="575.7" cy="1233.8" r="3.2" fill="#33e628"/>
<circle cx="578.9" cy="1233.8" r="3.2" fill="#33e628"/>
<circle cx="582.1" cy="1234.3" r="3.2" fill="#33e628"/>
<circle cx="585.3" cy="1234.9" r="3.2" fill="#33e628"/>
<circle cx="588.5" cy="1235.8" r="3.2" fill="#33e628"/>
<circle cx="591.7" cy="1239.6" r="3.2" fill="#33e628"/>
<circle cx="594.9" cy="1240.6" r="3.2" fill="#33e628"/>
<circle cx="598.1" cy="1239.7" r="3.2" fill="#33e628"/>
<circle cx="601.3" cy="1238.8" r="3.2" fill="#33e628"/>
<circle cx="604.5" cy="1238.0" r="3.2" fill="#33e628"/>
<circle cx="607.7" cy="1237.2" r="3.2" fill="#33e628"/>
<circle cx="610.9" cy="1236.4" r="3.2" fill="#33e628"/>
<circle cx="614.1" cy="1235.6" r="3.2" fill="#33e628"/>
<circle cx="617.3" cy="1235.6" r="3.2" fill="#33e628"/>
<circle cx="620.5" cy="1235.8" r="3.2" fill="#33e628"/>
<circle cx="623.7" cy="1236.3" r="3.2" fill="#33e628"/>
<circle cx="626.9" cy="1237.2" r="3.2" fill="#33e628"/>
<circle cx="630.1" cy="1238.2" r="3.2" fill="#33e628"/>
<circle cx="633.3" cy="1239.4" r="3.2" fill="#33e628"/>
<circle cx="636.5" cy="1240.6" r="3.2" fill="#33e628"/>
<circle cx="639.7" cy="1241.6" r="3.2" fill="#33e628"/>
<circle cx="642.9" cy="1242.4" r="3.2" fill="#33e628"/>
<circle cx="646.1" cy="1243.1" r="3.2" fill="#33e628"/>
<circle cx="649.3" cy="1243.5" r="3.2" fill="#33e628"/>
<circle cx="652.5" cy="1243.9" r="3.2" fill="#33e628"/>
<circle cx="655.7" cy="1244.1" r="3.2" fill="#33e628"/>
<circle cx="658.9" cy="1244.2" r="3.2" fill="#33e628"/>
<circle cx="662.1" cy="1244.3" r="3.2" fill="#33e628"/>
<circle cx="665.3" cy="1244.4" r="3.2" fill="#33e628"/>
<circle cx="668.5" cy="1244.5" r="3.2" fill="#33e628"/>
<circle cx="671.7" cy="1244.6" r="3.2" fill="#33e628"/>
<circle cx="674.9" cy="1244.7" r="3.2" fill="#33e628"/>
<circle cx="678.1" cy="1244.7" r="3.2" fill="#33e628"/>
<circle cx="681.3" cy="1244.7" r="3.2" fill="#33e628"/>
<circle cx="684.5" cy="1244.7" r="3.2" fill="#33e628"/>
<circle cx="687.7" cy="1244.7" r="3.2" fill="#33e628"/>
<circle cx="690.9" cy="1244.7" r="3.2" fill="#33e628"/>
<circle cx="694.1" cy="1244.7" r="3.2" fill="#33e628"/>
<circle cx="697.3" cy="1244.7" r="3.2" fill="#33e628"/>
<circle cx="700.5" cy="1244.7" r="3.2" fill="#33e628"/>
<circle cx="703.7" cy="1244.7" r="3.2" fill="#33e628"/>
<circle cx="706.9" cy="1244.7" r="3.2" fill="#33e628"/>
<circle cx="710.1" cy="1244.7" r="3.2" fill="#33e628"/>
<circle cx="713.3" cy="1244.7" r="3.2" fill="#33e628"/>
<circle cx="716.5" cy="1244.7" r="3.2" fill="#33e628"/>
<circle cx="719.7" cy="1244.7" r="3.2" fill="#33e628"/>
<circle cx="722.9" cy="1244.1" r="3.2" fill="#33e628"/>
<circle cx="726.1" cy="1243.4" r="3.2" fill="#33e628"/>
<circle cx="729.3" cy="1242.7" r="3.2" fill="#33e628"/>
<circle cx="732.5" cy="1242.0" r="3.2" fill="#33e628"/>
<circle cx="735.7" cy="1241.2" r="3.2" fill="#33e628"/>
<circle cx="738.9" cy="1240.5" r="3.2" fill="#33e628"/>
<circle cx="742.1" cy="1239.9" r="3.2" fill="#33e628"/>
<circle cx="745.3" cy="1239.3" r="3.2" fill="#33e628"/>
<circle cx="748.5" cy="1238.7" r="3.2" fill="#33e628"/>
<circle cx="751.7" cy="1238.2" r="3.2" fill="#33e628"/>
<circle cx="754.9" cy="1237.6" r="3.2" fill="#33e628"/>
<circle cx="758.1" cy="1237.0" r="3.2" fill="#33e628"/>
<circle cx="761.3" cy="1236.5" r="3.2" fill="#33e628"/>
<circle cx="764.5" cy="1235.9" r="3.2" fill="#33e628"/>
<circle cx="767.7" cy="1235.3" r="3.2" fill="#33e628"/>
<circle cx="770.9" cy="1234.7" r="3.2" fill="#33e628"/>
<circle cx="774.1" cy="1234.2" r="3.2" fill="#33e628"/>
<circle cx="777.3" cy="1233.6" r="3.2" fill="#33e628"/>
<circle cx="780.5" cy="1233.2" r="3.2" fill="#33e628"/>
<circle cx="783.7" cy="1232.7" r="3.2" fill="#33e628"/>
<circle cx="786.9" cy="1232.2" r="3.2" fill="#33e628"/>
<circle cx="790.1" cy="1231.7" r="3.2" fill="#33e628"/>
<circle cx="793.3" cy="1231.2" r="3.2" fill="#33e628"/>
<circle cx="796.5" cy="1230.8" r="3.2" fill="#33e628"/>
<circle cx="799.7" cy="1230.3" r="3.2" fill="#33e628"/>
<circle cx="802.9" cy="1229.9" r="3.2" fill="#33e628"/>
<circle cx="806.1" cy="1229.7" r="3.2" fill="#33e628"/>
<circle cx="809.3" cy="1229.4" r="3.2" fill="#33e628"/>
<circle cx="812.5" cy="1229.1" r="3.2" fill="#33e628"/>
<circle cx="815.7" cy="1228.8" r="3.2" fill="#33e628"/>
<circle cx="818.9" cy="1228.5" r="3.2" fill="#33e628"/>
<circle cx="822.1" cy="1228.2" r="3.2" fill="#33e628"/>
<circle cx="825.3" cy="1227.9" r="3.2" fill="#33e628"/>
<path d="M376.3,914.3 L378.4,919.4 L383.9,919.8 L379.7,923.4 L381.0,928.8 L376.3,925.9 L371.6,928.8 L372.9,923.4 L368.7,919.8 L374.2,919.4Z" fill="#ee1111" stroke="#ffd21a" stroke-width="1.8"/>
<path d="M376.3,1213.8 L378.4,1218.9 L383.9,1219.3 L379.7,1222.9 L381.0,1228.3 L376.3,1225.4 L371.6,1228.3 L372.9,1222.9 L368.7,1219.3 L374.2,1218.9Z" fill="#ee1111" stroke="#ffd21a" stroke-width="1.8"/>
<path d="M405.8,914.3 L407.9,919.4 L413.4,919.8 L409.2,923.4 L410.5,928.8 L405.8,925.9 L401.1,928.8 L402.4,923.4 L398.2,919.8 L403.7,919.4Z" fill="#ee1111" stroke="#ffd21a" stroke-width="1.8"/>
<path d="M405.8,1213.8 L407.9,1218.9 L413.4,1219.3 L409.2,1222.9 L410.5,1228.3 L405.8,1225.4 L401.1,1228.3 L402.4,1222.9 L398.2,1219.3 L403.7,1218.9Z" fill="#ee1111" stroke="#ffd21a" stroke-width="1.8"/>
<path d="M414.5,914.3 L416.6,919.4 L422.1,919.8 L417.9,923.4 L419.2,928.8 L414.5,925.9 L409.8,928.8 L411.1,923.4 L406.9,919.8 L412.4,919.4Z" fill="#ee1111" stroke="#ffd21a" stroke-width="1.8"/>
<path d="M414.5,1213.8 L416.6,1218.9 L422.1,1219.3 L417.9,1222.9 L419.2,1228.3 L414.5,1225.4 L409.8,1228.3 L411.1,1222.9 L406.9,1219.3 L412.4,1218.9Z" fill="#ee1111" stroke="#ffd21a" stroke-width="1.8"/>
<path d="M411.6,865.1 L413.7,870.2 L419.2,870.6 L415.0,874.2 L416.3,879.6 L411.6,876.7 L406.9,879.6 L408.2,874.2 L404.0,870.6 L409.5,870.2Z" fill="#ee1111" stroke="#ffd21a" stroke-width="1.8"/>
<path d="M411.6,1164.6 L413.7,1169.7 L419.2,1170.1 L415.0,1173.7 L416.3,1179.1 L411.6,1176.2 L406.9,1179.1 L408.2,1173.7 L404.0,1170.1 L409.5,1169.7Z" fill="#ee1111" stroke="#ffd21a" stroke-width="1.8"/>
<path d="M409.1,878.6 L411.2,883.7 L416.7,884.1 L412.5,887.7 L413.8,893.1 L409.1,890.2 L404.4,893.1 L405.7,887.7 L401.5,884.1 L407.0,883.7Z" fill="#ee1111" stroke="#ffd21a" stroke-width="1.8"/>
<path d="M409.1,1178.1 L411.2,1183.2 L416.7,1183.6 L412.5,1187.2 L413.8,1192.6 L409.1,1189.7 L404.4,1192.6 L405.7,1187.2 L401.5,1183.6 L407.0,1183.2Z" fill="#ee1111" stroke="#ffd21a" stroke-width="1.8"/>
<path d="M419.9,890.1 L422.0,895.2 L427.5,895.6 L423.3,899.2 L424.6,904.6 L419.9,901.7 L415.2,904.6 L416.5,899.2 L412.3,895.6 L417.8,895.2Z" fill="#ee1111" stroke="#ffd21a" stroke-width="1.8"/>
<path d="M419.9,1189.6 L422.0,1194.7 L427.5,1195.1 L423.3,1198.7 L424.6,1204.1 L419.9,1201.2 L415.2,1204.1 L416.5,1198.7 L412.3,1195.1 L417.8,1194.7Z" fill="#ee1111" stroke="#ffd21a" stroke-width="1.8"/>
<path d="M467.5,856.4 L469.6,861.5 L475.1,861.9 L470.9,865.5 L472.2,870.9 L467.5,868.0 L462.8,870.9 L464.1,865.5 L459.9,861.9 L465.4,861.5Z" fill="#ee1111" stroke="#ffd21a" stroke-width="1.8"/>
<path d="M467.5,1155.9 L469.6,1161.0 L475.1,1161.4 L470.9,1165.0 L472.2,1170.4 L467.5,1167.5 L462.8,1170.4 L464.1,1165.0 L459.9,1161.4 L465.4,1161.0Z" fill="#ee1111" stroke="#ffd21a" stroke-width="1.8"/>
<path d="M467.5,880.5 L469.6,885.6 L475.1,886.0 L470.9,889.6 L472.2,895.0 L467.5,892.1 L462.8,895.0 L464.1,889.6 L459.9,886.0 L465.4,885.6Z" fill="#ee1111" stroke="#ffd21a" stroke-width="1.8"/>
<path d="M467.5,1180.0 L469.6,1185.1 L475.1,1185.5 L470.9,1189.1 L472.2,1194.5 L467.5,1191.6 L462.8,1194.5 L464.1,1189.1 L459.9,1185.5 L465.4,1185.1Z" fill="#ee1111" stroke="#ffd21a" stroke-width="1.8"/>
<path d="M463.7,914.3 L465.8,919.4 L471.3,919.8 L467.1,923.4 L468.4,928.8 L463.7,925.9 L459.0,928.8 L460.3,923.4 L456.1,919.8 L461.6,919.4Z" fill="#ee1111" stroke="#ffd21a" stroke-width="1.8"/>
<path d="M463.7,1213.8 L465.8,1218.9 L471.3,1219.3 L467.1,1222.9 L468.4,1228.3 L463.7,1225.4 L459.0,1228.3 L460.3,1222.9 L456.1,1219.3 L461.6,1218.9Z" fill="#ee1111" stroke="#ffd21a" stroke-width="1.8"/>
<path d="M472.4,904.6 L474.5,909.7 L480.0,910.1 L475.8,913.7 L477.1,919.1 L472.4,916.2 L467.7,919.1 L469.0,913.7 L464.8,910.1 L470.3,909.7Z" fill="#ee1111" stroke="#ffd21a" stroke-width="1.8"/>
<path d="M472.4,1204.1 L474.5,1209.2 L480.0,1209.6 L475.8,1213.2 L477.1,1218.6 L472.4,1215.7 L467.7,1218.6 L469.0,1213.2 L464.8,1209.6 L470.3,1209.2Z" fill="#ee1111" stroke="#ffd21a" stroke-width="1.8"/>
<path d="M475.8,914.3 L477.9,919.4 L483.4,919.8 L479.2,923.4 L480.5,928.8 L475.8,925.9 L471.1,928.8 L472.4,923.4 L468.2,919.8 L473.7,919.4Z" fill="#ee1111" stroke="#ffd21a" stroke-width="1.8"/>
<path d="M475.8,1213.8 L477.9,1218.9 L483.4,1219.3 L479.2,1222.9 L480.5,1228.3 L475.8,1225.4 L471.1,1228.3 L472.4,1222.9 L468.2,1219.3 L473.7,1218.9Z" fill="#ee1111" stroke="#ffd21a" stroke-width="1.8"/>
<path d="M483.9,914.3 L486.0,919.4 L491.5,919.8 L487.3,923.4 L488.6,928.8 L483.9,925.9 L479.2,928.8 L480.5,923.4 L476.3,919.8 L481.8,919.4Z" fill="#ee1111" stroke="#ffd21a" stroke-width="1.8"/>
<path d="M483.9,1213.8 L486.0,1218.9 L491.5,1219.3 L487.3,1222.9 L488.6,1228.3 L483.9,1225.4 L479.2,1228.3 L480.5,1222.9 L476.3,1219.3 L481.8,1218.9Z" fill="#ee1111" stroke="#ffd21a" stroke-width="1.8"/>
<path d="M494.5,914.3 L496.6,919.4 L502.1,919.8 L497.9,923.4 L499.2,928.8 L494.5,925.9 L489.8,928.8 L491.1,923.4 L486.9,919.8 L492.4,919.4Z" fill="#ee1111" stroke="#ffd21a" stroke-width="1.8"/>
<path d="M494.5,1213.8 L496.6,1218.9 L502.1,1219.3 L497.9,1222.9 L499.2,1228.3 L494.5,1225.4 L489.8,1228.3 L491.1,1222.9 L486.9,1219.3 L492.4,1218.9Z" fill="#ee1111" stroke="#ffd21a" stroke-width="1.8"/>
<path d="M494.5,890.1 L496.6,895.2 L502.1,895.6 L497.9,899.2 L499.2,904.6 L494.5,901.7 L489.8,904.6 L491.1,899.2 L486.9,895.6 L492.4,895.2Z" fill="#ee1111" stroke="#ffd21a" stroke-width="1.8"/>
<path d="M494.5,1189.6 L496.6,1194.7 L502.1,1195.1 L497.9,1198.7 L499.2,1204.1 L494.5,1201.2 L489.8,1204.1 L491.1,1198.7 L486.9,1195.1 L492.4,1194.7Z" fill="#ee1111" stroke="#ffd21a" stroke-width="1.8"/>
<path d="M494.5,899.8 L496.6,904.9 L502.1,905.3 L497.9,908.9 L499.2,914.3 L494.5,911.4 L489.8,914.3 L491.1,908.9 L486.9,905.3 L492.4,904.9Z" fill="#ee1111" stroke="#ffd21a" stroke-width="1.8"/>
<path d="M494.5,1199.3 L496.6,1204.4 L502.1,1204.8 L497.9,1208.4 L499.2,1213.8 L494.5,1210.9 L489.8,1213.8 L491.1,1208.4 L486.9,1204.8 L492.4,1204.4Z" fill="#ee1111" stroke="#ffd21a" stroke-width="1.8"/>
<path d="M512.9,904.6 L515.0,909.7 L520.5,910.1 L516.3,913.7 L517.6,919.1 L512.9,916.2 L508.2,919.1 L509.5,913.7 L505.3,910.1 L510.8,909.7Z" fill="#ee1111" stroke="#ffd21a" stroke-width="1.8"/>
<path d="M512.9,1204.1 L515.0,1209.2 L520.5,1209.6 L516.3,1213.2 L517.6,1218.6 L512.9,1215.7 L508.2,1218.6 L509.5,1213.2 L505.3,1209.6 L510.8,1209.2Z" fill="#ee1111" stroke="#ffd21a" stroke-width="1.8"/>
<path d="M518.0,827.1 L520.1,832.2 L525.6,832.6 L521.4,836.2 L522.7,841.6 L518.0,838.7 L513.3,841.6 L514.6,836.2 L510.4,832.6 L515.9,832.2Z" fill="#ee1111" stroke="#ffd21a" stroke-width="1.8"/>
<path d="M518.0,1126.6 L520.1,1131.7 L525.6,1132.1 L521.4,1135.7 L522.7,1141.1 L518.0,1138.2 L513.3,1141.1 L514.6,1135.7 L510.4,1132.1 L515.9,1131.7Z" fill="#ee1111" stroke="#ffd21a" stroke-width="1.8"/>
<path d="M534.5,817.2 L536.6,822.3 L542.1,822.7 L537.9,826.3 L539.2,831.7 L534.5,828.8 L529.8,831.7 L531.1,826.3 L526.9,822.7 L532.4,822.3Z" fill="#ee1111" stroke="#ffd21a" stroke-width="1.8"/>
<path d="M534.5,1116.7 L536.6,1121.8 L542.1,1122.2 L537.9,1125.8 L539.2,1131.2 L534.5,1128.3 L529.8,1131.2 L531.1,1125.8 L526.9,1122.2 L532.4,1121.8Z" fill="#ee1111" stroke="#ffd21a" stroke-width="1.8"/>
<path d="M526.2,861.0 L528.3,866.1 L533.8,866.5 L529.6,870.1 L530.9,875.5 L526.2,872.6 L521.5,875.5 L522.8,870.1 L518.6,866.5 L524.1,866.1Z" fill="#ee1111" stroke="#ffd21a" stroke-width="1.8"/>
<path d="M526.2,1160.5 L528.3,1165.6 L533.8,1166.0 L529.6,1169.6 L530.9,1175.0 L526.2,1172.1 L521.5,1175.0 L522.8,1169.6 L518.6,1166.0 L524.1,1165.6Z" fill="#ee1111" stroke="#ffd21a" stroke-width="1.8"/>
<path d="M518.8,870.1 L520.9,875.2 L526.4,875.6 L522.2,879.2 L523.5,884.6 L518.8,881.7 L514.1,884.6 L515.4,879.2 L511.2,875.6 L516.7,875.2Z" fill="#ee1111" stroke="#ffd21a" stroke-width="1.8"/>
<path d="M518.8,1169.6 L520.9,1174.7 L526.4,1175.1 L522.2,1178.7 L523.5,1184.1 L518.8,1181.2 L514.1,1184.1 L515.4,1178.7 L511.2,1175.1 L516.7,1174.7Z" fill="#ee1111" stroke="#ffd21a" stroke-width="1.8"/>
<path d="M527.1,877.5 L529.2,882.6 L534.7,883.0 L530.5,886.6 L531.8,892.0 L527.1,889.1 L522.4,892.0 L523.7,886.6 L519.5,883.0 L525.0,882.6Z" fill="#ee1111" stroke="#ffd21a" stroke-width="1.8"/>
<path d="M527.1,1177.0 L529.2,1182.1 L534.7,1182.5 L530.5,1186.1 L531.8,1191.5 L527.1,1188.6 L522.4,1191.5 L523.7,1186.1 L519.5,1182.5 L525.0,1182.1Z" fill="#ee1111" stroke="#ffd21a" stroke-width="1.8"/>
<path d="M532.0,889.9 L534.1,895.0 L539.6,895.4 L535.4,899.0 L536.7,904.4 L532.0,901.5 L527.3,904.4 L528.6,899.0 L524.4,895.4 L529.9,895.0Z" fill="#ee1111" stroke="#ffd21a" stroke-width="1.8"/>
<path d="M532.0,1189.4 L534.1,1194.5 L539.6,1194.9 L535.4,1198.5 L536.7,1203.9 L532.0,1201.0 L527.3,1203.9 L528.6,1198.5 L524.4,1194.9 L529.9,1194.5Z" fill="#ee1111" stroke="#ffd21a" stroke-width="1.8"/>
<path d="M513.3,904.0 L515.4,909.1 L520.9,909.5 L516.7,913.1 L518.0,918.5 L513.3,915.6 L508.6,918.5 L509.9,913.1 L505.7,909.5 L511.2,909.1Z" fill="#ee1111" stroke="#ffd21a" stroke-width="1.8"/>
<path d="M513.3,1203.5 L515.4,1208.6 L520.9,1209.0 L516.7,1212.6 L518.0,1218.0 L513.3,1215.1 L508.6,1218.0 L509.9,1212.6 L505.7,1209.0 L511.2,1208.6Z" fill="#ee1111" stroke="#ffd21a" stroke-width="1.8"/>
<path d="M529.5,913.9 L531.6,919.0 L537.1,919.4 L532.9,923.0 L534.2,928.4 L529.5,925.5 L524.8,928.4 L526.1,923.0 L521.9,919.4 L527.4,919.0Z" fill="#ee1111" stroke="#ffd21a" stroke-width="1.8"/>
<path d="M529.5,1213.4 L531.6,1218.5 L537.1,1218.9 L532.9,1222.5 L534.2,1227.9 L529.5,1225.0 L524.8,1227.9 L526.1,1222.5 L521.9,1218.9 L527.4,1218.5Z" fill="#ee1111" stroke="#ffd21a" stroke-width="1.8"/>
<path d="M246.1,879.0 L247.9,883.3 L252.6,883.7 L249.0,886.7 L250.1,891.3 L246.1,888.9 L242.1,891.3 L243.2,886.7 L239.6,883.7 L244.3,883.3Z" fill="#ee1111" stroke="#ffd21a" stroke-width="1.2"/>
<path d="M246.1,1178.5 L247.9,1182.8 L252.6,1183.2 L249.0,1186.2 L250.1,1190.8 L246.1,1188.4 L242.1,1190.8 L243.2,1186.2 L239.6,1183.2 L244.3,1182.8Z" fill="#ee1111" stroke="#ffd21a" stroke-width="1.2"/>
<path d="M577.5,878.7 L579.3,883.0 L584.0,883.4 L580.4,886.4 L581.5,891.0 L577.5,888.6 L573.5,891.0 L574.6,886.4 L571.0,883.4 L575.7,883.0Z" fill="#ee1111" stroke="#ffd21a" stroke-width="1.2"/>
<path d="M577.5,1178.2 L579.3,1182.5 L584.0,1182.9 L580.4,1185.9 L581.5,1190.5 L577.5,1188.1 L573.5,1190.5 L574.6,1185.9 L571.0,1182.9 L575.7,1182.5Z" fill="#ee1111" stroke="#ffd21a" stroke-width="1.2"/>
<path d="M855.2,730.5 H67.0 V970.8 H855.2" fill="none" stroke="#2b2b2b" stroke-width="1.6"/>
<line x1="107.4" x2="107.4" y1="725.5" y2="730.5" stroke="#2b2b2b" stroke-width="1"/>
<line x1="107.4" x2="107.4" y1="970.8" y2="975.8" stroke="#2b2b2b" stroke-width="1"/>
<line x1="160.8" x2="160.8" y1="725.5" y2="730.5" stroke="#2b2b2b" stroke-width="1"/>
<line x1="160.8" x2="160.8" y1="970.8" y2="975.8" stroke="#2b2b2b" stroke-width="1"/>
<line x1="214.2" x2="214.2" y1="725.5" y2="730.5" stroke="#2b2b2b" stroke-width="1"/>
<line x1="214.2" x2="214.2" y1="970.8" y2="975.8" stroke="#2b2b2b" stroke-width="1"/>
<line x1="267.7" x2="267.7" y1="725.5" y2="730.5" stroke="#2b2b2b" stroke-width="1"/>
<line x1="267.7" x2="267.7" y1="970.8" y2="975.8" stroke="#2b2b2b" stroke-width="1"/>
<line x1="321.1" x2="321.1" y1="725.5" y2="730.5" stroke="#2b2b2b" stroke-width="1"/>
<line x1="321.1" x2="321.1" y1="970.8" y2="975.8" stroke="#2b2b2b" stroke-width="1"/>
<line x1="374.5" x2="374.5" y1="725.5" y2="730.5" stroke="#2b2b2b" stroke-width="1"/>
<line x1="374.5" x2="374.5" y1="970.8" y2="975.8" stroke="#2b2b2b" stroke-width="1"/>
<line x1="427.9" x2="427.9" y1="725.5" y2="730.5" stroke="#2b2b2b" stroke-width="1"/>
<line x1="427.9" x2="427.9" y1="970.8" y2="975.8" stroke="#2b2b2b" stroke-width="1"/>
<line x1="481.3" x2="481.3" y1="725.5" y2="730.5" stroke="#2b2b2b" stroke-width="1"/>
<line x1="481.3" x2="481.3" y1="970.8" y2="975.8" stroke="#2b2b2b" stroke-width="1"/>
<line x1="534.8" x2="534.8" y1="725.5" y2="730.5" stroke="#2b2b2b" stroke-width="1"/>
<line x1="534.8" x2="534.8" y1="970.8" y2="975.8" stroke="#2b2b2b" stroke-width="1"/>
<line x1="588.2" x2="588.2" y1="725.5" y2="730.5" stroke="#2b2b2b" stroke-width="1"/>
<line x1="588.2" x2="588.2" y1="970.8" y2="975.8" stroke="#2b2b2b" stroke-width="1"/>
<line x1="641.6" x2="641.6" y1="725.5" y2="730.5" stroke="#2b2b2b" stroke-width="1"/>
<line x1="641.6" x2="641.6" y1="970.8" y2="975.8" stroke="#2b2b2b" stroke-width="1"/>
<line x1="695.0" x2="695.0" y1="725.5" y2="730.5" stroke="#2b2b2b" stroke-width="1"/>
<line x1="695.0" x2="695.0" y1="970.8" y2="975.8" stroke="#2b2b2b" stroke-width="1"/>
<line x1="748.4" x2="748.4" y1="725.5" y2="730.5" stroke="#2b2b2b" stroke-width="1"/>
<line x1="748.4" x2="748.4" y1="970.8" y2="975.8" stroke="#2b2b2b" stroke-width="1"/>
<line x1="801.9" x2="801.9" y1="725.5" y2="730.5" stroke="#2b2b2b" stroke-width="1"/>
<line x1="801.9" x2="801.9" y1="970.8" y2="975.8" stroke="#2b2b2b" stroke-width="1"/>
<text x="107.4" y="999.3" text-anchor="middle" font-size="17.2">24°N</text>
<text x="214.2" y="999.3" text-anchor="middle" font-size="17.2">28°N</text>
<text x="321.1" y="999.3" text-anchor="middle" font-size="17.2">32°N</text>
<text x="427.9" y="999.3" text-anchor="middle" font-size="17.2">36°N</text>
<text x="534.8" y="999.3" text-anchor="middle" font-size="17.2">40°N</text>
<text x="641.6" y="999.3" text-anchor="middle" font-size="17.2">44°N</text>
<text x="748.4" y="999.3" text-anchor="middle" font-size="17.2">48°N</text>
<text x="855.3" y="999.3" text-anchor="middle" font-size="17.2">52°N</text>
<line x1="61.0" x2="67.0" y1="730.5" y2="730.5" stroke="#2b2b2b" stroke-width="1"/>
<text x="51.8" y="736.4" text-anchor="end" font-size="16.6">10</text>
<line x1="61.0" x2="67.0" y1="762.5" y2="762.5" stroke="#2b2b2b" stroke-width="1"/>
<text x="51.8" y="768.4" text-anchor="end" font-size="16.6">8</text>
<line x1="61.0" x2="67.0" y1="794.6" y2="794.6" stroke="#2b2b2b" stroke-width="1"/>
<text x="51.8" y="800.5" text-anchor="end" font-size="16.6">6</text>
<line x1="61.0" x2="67.0" y1="826.6" y2="826.6" stroke="#2b2b2b" stroke-width="1"/>
<text x="51.8" y="832.5" text-anchor="end" font-size="16.6">4</text>
<line x1="61.0" x2="67.0" y1="858.7" y2="858.7" stroke="#2b2b2b" stroke-width="1"/>
<text x="51.8" y="864.6" text-anchor="end" font-size="16.6">2</text>
<line x1="61.0" x2="67.0" y1="890.7" y2="890.7" stroke="#2b2b2b" stroke-width="1"/>
<text x="51.8" y="896.6" text-anchor="end" font-size="16.6">0</text>
<line x1="61.0" x2="67.0" y1="922.7" y2="922.7" stroke="#2b2b2b" stroke-width="1"/>
<text x="51.8" y="928.6" text-anchor="end" font-size="16.6">−2</text>
<line x1="61.0" x2="67.0" y1="954.8" y2="954.8" stroke="#2b2b2b" stroke-width="1"/>
<text x="51.8" y="960.7" text-anchor="end" font-size="16.6">−4</text>
<line x1="855.2" x2="855.2" y1="730.5" y2="970.8" stroke="#e8120c" stroke-width="1.6"/>
<line x1="855.2" x2="861.2" y1="730.5" y2="730.5" stroke="#e8120c" stroke-width="1.2"/>
<text x="880" y="736.5" text-anchor="middle" font-size="16.6" fill="#e8120c">10</text>
<line x1="855.2" x2="861.2" y1="826.7" y2="826.7" stroke="#e8120c" stroke-width="1.2"/>
<text x="884" y="832.7" text-anchor="middle" font-size="16.6" fill="#e8120c">8</text>
<line x1="855.2" x2="861.2" y1="922.9" y2="922.9" stroke="#e8120c" stroke-width="1.2"/>
<text x="884" y="928.9" text-anchor="middle" font-size="16.6" fill="#e8120c">6</text>
<text transform="translate(912.5,850.6) rotate(-90)" text-anchor="middle" dy="6" font-size="18.7" fill="#e8120c">Earthquake magnitude</text>
<path d="M855.2,1029.0 H67.0 V1270.0 H855.2" fill="none" stroke="#2b2b2b" stroke-width="1.6"/>
<line x1="107.4" x2="107.4" y1="1024.0" y2="1029.0" stroke="#2b2b2b" stroke-width="1"/>
<line x1="107.4" x2="107.4" y1="1270.0" y2="1275.0" stroke="#2b2b2b" stroke-width="1"/>
<line x1="160.8" x2="160.8" y1="1024.0" y2="1029.0" stroke="#2b2b2b" stroke-width="1"/>
<line x1="160.8" x2="160.8" y1="1270.0" y2="1275.0" stroke="#2b2b2b" stroke-width="1"/>
<line x1="214.2" x2="214.2" y1="1024.0" y2="1029.0" stroke="#2b2b2b" stroke-width="1"/>
<line x1="214.2" x2="214.2" y1="1270.0" y2="1275.0" stroke="#2b2b2b" stroke-width="1"/>
<line x1="267.7" x2="267.7" y1="1024.0" y2="1029.0" stroke="#2b2b2b" stroke-width="1"/>
<line x1="267.7" x2="267.7" y1="1270.0" y2="1275.0" stroke="#2b2b2b" stroke-width="1"/>
<line x1="321.1" x2="321.1" y1="1024.0" y2="1029.0" stroke="#2b2b2b" stroke-width="1"/>
<line x1="321.1" x2="321.1" y1="1270.0" y2="1275.0" stroke="#2b2b2b" stroke-width="1"/>
<line x1="374.5" x2="374.5" y1="1024.0" y2="1029.0" stroke="#2b2b2b" stroke-width="1"/>
<line x1="374.5" x2="374.5" y1="1270.0" y2="1275.0" stroke="#2b2b2b" stroke-width="1"/>
<line x1="427.9" x2="427.9" y1="1024.0" y2="1029.0" stroke="#2b2b2b" stroke-width="1"/>
<line x1="427.9" x2="427.9" y1="1270.0" y2="1275.0" stroke="#2b2b2b" stroke-width="1"/>
<line x1="481.3" x2="481.3" y1="1024.0" y2="1029.0" stroke="#2b2b2b" stroke-width="1"/>
<line x1="481.3" x2="481.3" y1="1270.0" y2="1275.0" stroke="#2b2b2b" stroke-width="1"/>
<line x1="534.8" x2="534.8" y1="1024.0" y2="1029.0" stroke="#2b2b2b" stroke-width="1"/>
<line x1="534.8" x2="534.8" y1="1270.0" y2="1275.0" stroke="#2b2b2b" stroke-width="1"/>
<line x1="588.2" x2="588.2" y1="1024.0" y2="1029.0" stroke="#2b2b2b" stroke-width="1"/>
<line x1="588.2" x2="588.2" y1="1270.0" y2="1275.0" stroke="#2b2b2b" stroke-width="1"/>
<line x1="641.6" x2="641.6" y1="1024.0" y2="1029.0" stroke="#2b2b2b" stroke-width="1"/>
<line x1="641.6" x2="641.6" y1="1270.0" y2="1275.0" stroke="#2b2b2b" stroke-width="1"/>
<line x1="695.0" x2="695.0" y1="1024.0" y2="1029.0" stroke="#2b2b2b" stroke-width="1"/>
<line x1="695.0" x2="695.0" y1="1270.0" y2="1275.0" stroke="#2b2b2b" stroke-width="1"/>
<line x1="748.4" x2="748.4" y1="1024.0" y2="1029.0" stroke="#2b2b2b" stroke-width="1"/>
<line x1="748.4" x2="748.4" y1="1270.0" y2="1275.0" stroke="#2b2b2b" stroke-width="1"/>
<line x1="801.9" x2="801.9" y1="1024.0" y2="1029.0" stroke="#2b2b2b" stroke-width="1"/>
<line x1="801.9" x2="801.9" y1="1270.0" y2="1275.0" stroke="#2b2b2b" stroke-width="1"/>
<text x="107.4" y="1298.5" text-anchor="middle" font-size="17.2">24°N</text>
<text x="214.2" y="1298.5" text-anchor="middle" font-size="17.2">28°N</text>
<text x="321.1" y="1298.5" text-anchor="middle" font-size="17.2">32°N</text>
<text x="427.9" y="1298.5" text-anchor="middle" font-size="17.2">36°N</text>
<text x="534.8" y="1298.5" text-anchor="middle" font-size="17.2">40°N</text>
<text x="641.6" y="1298.5" text-anchor="middle" font-size="17.2">44°N</text>
<text x="748.4" y="1298.5" text-anchor="middle" font-size="17.2">48°N</text>
<text x="855.3" y="1298.5" text-anchor="middle" font-size="17.2">52°N</text>
<line x1="61.0" x2="67.0" y1="1029.1" y2="1029.1" stroke="#2b2b2b" stroke-width="1"/>
<text x="51.8" y="1035.0" text-anchor="end" font-size="16.6">18</text>
<line x1="61.0" x2="67.0" y1="1053.2" y2="1053.2" stroke="#2b2b2b" stroke-width="1"/>
<text x="51.8" y="1059.1" text-anchor="end" font-size="16.6">16</text>
<line x1="61.0" x2="67.0" y1="1077.3" y2="1077.3" stroke="#2b2b2b" stroke-width="1"/>
<text x="51.8" y="1083.2" text-anchor="end" font-size="16.6">14</text>
<line x1="61.0" x2="67.0" y1="1101.4" y2="1101.4" stroke="#2b2b2b" stroke-width="1"/>
<text x="51.8" y="1107.3" text-anchor="end" font-size="16.6">12</text>
<line x1="61.0" x2="67.0" y1="1125.5" y2="1125.5" stroke="#2b2b2b" stroke-width="1"/>
<text x="51.8" y="1131.4" text-anchor="end" font-size="16.6">10</text>
<line x1="61.0" x2="67.0" y1="1149.6" y2="1149.6" stroke="#2b2b2b" stroke-width="1"/>
<text x="51.8" y="1155.5" text-anchor="end" font-size="16.6">8</text>
<line x1="61.0" x2="67.0" y1="1173.7" y2="1173.7" stroke="#2b2b2b" stroke-width="1"/>
<text x="51.8" y="1179.6" text-anchor="end" font-size="16.6">6</text>
<line x1="61.0" x2="67.0" y1="1197.8" y2="1197.8" stroke="#2b2b2b" stroke-width="1"/>
<text x="51.8" y="1203.7" text-anchor="end" font-size="16.6">4</text>
<line x1="61.0" x2="67.0" y1="1221.9" y2="1221.9" stroke="#2b2b2b" stroke-width="1"/>
<text x="51.8" y="1227.8" text-anchor="end" font-size="16.6">2</text>
<line x1="61.0" x2="67.0" y1="1246.0" y2="1246.0" stroke="#2b2b2b" stroke-width="1"/>
<text x="51.8" y="1251.9" text-anchor="end" font-size="16.6">0</text>
<line x1="61.0" x2="67.0" y1="1270.1" y2="1270.1" stroke="#2b2b2b" stroke-width="1"/>
<text x="51.8" y="1276.0" text-anchor="end" font-size="16.6">−2</text>
<line x1="855.2" x2="855.2" y1="1029.0" y2="1270.0" stroke="#e8120c" stroke-width="1.6"/>
<line x1="855.2" x2="861.2" y1="1029.0" y2="1029.0" stroke="#e8120c" stroke-width="1.2"/>
<text x="880" y="1035.0" text-anchor="middle" font-size="16.6" fill="#e8120c">10</text>
<line x1="855.2" x2="861.2" y1="1125.2" y2="1125.2" stroke="#e8120c" stroke-width="1.2"/>
<text x="884" y="1131.2" text-anchor="middle" font-size="16.6" fill="#e8120c">8</text>
<line x1="855.2" x2="861.2" y1="1221.4" y2="1221.4" stroke="#e8120c" stroke-width="1.2"/>
<text x="884" y="1227.4" text-anchor="middle" font-size="16.6" fill="#e8120c">6</text>
<text transform="translate(912.5,1149.5) rotate(-90)" text-anchor="middle" dy="6" font-size="18.7" fill="#e8120c">Earthquake magnitude</text>
<text transform="translate(18,851.1) rotate(-90)" text-anchor="middle" font-size="19.2">GPS velocity (mm/yr)</text>
<text transform="translate(18,1149.5) rotate(-90)" text-anchor="middle" font-size="19.0">Strain rate (10<tspan dy="-7" font-size="12">−9</tspan><tspan dy="7">/yr)</tspan></text>
<text x="461" y="1325" text-anchor="middle" font-size="19.2">Latitude (degree)</text>
<text x="318" y="708" text-anchor="middle" font-size="18.9">Dabie shan</text>
<text x="552.5" y="708" text-anchor="middle" font-size="18.8">Zhangjiakou-Bohai fault zone</text>
<line x1="321.2" x2="321.2" y1="722" y2="735" stroke="#102818" stroke-width="1.5"/>
<path d="M321.2,711.1 L328.2,728 L321.2,725 L314.2,728Z" fill="#102818"/>
<line x1="534.9" x2="534.9" y1="722" y2="735" stroke="#102818" stroke-width="1.5"/>
<path d="M534.9,711.1 L541.9,728 L534.9,725 L527.9,728Z" fill="#102818"/>
</svg></body></html>
